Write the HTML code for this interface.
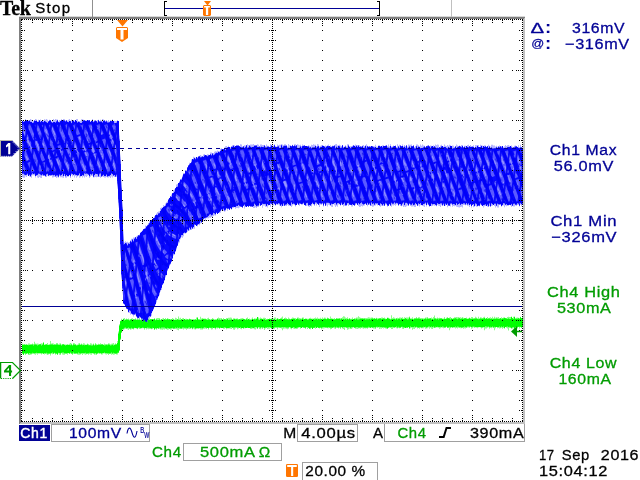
<!DOCTYPE html>
<html><head><meta charset="utf-8"><title>Tek</title>
<style>html,body{margin:0;padding:0;background:#fff;overflow:hidden}svg{display:block}</style>
</head><body>
<svg width="640" height="480" viewBox="0 0 640 480">
<rect width="640" height="480" fill="#fff"/>
<g shape-rendering="crispEdges">
<path d="M523,19L525,17V424H523Z" fill="#c0c0c0"/>
<path d="M21,422H525V424H19Z" fill="#c0c0c0"/>
<path d="M19,17H525L523,19H19Z" fill="#808080"/>
<path d="M19,17H21V422L19,424Z" fill="#808080"/>
<rect x="19" y="16" width="506" height="1" fill="#d8d8d8"/>
<rect x="92" y="0" width="1" height="17" fill="#909090"/>
<rect x="451" y="0" width="1" height="17" fill="#c0c0c0"/>
</g>
<clipPath id="pg"><rect x="21" y="19" width="502" height="403"/></clipPath>
<g clip-path="url(#pg)">
<path d="M22,343.4V343.4H23V344.6H24V344H25V344.8H26V344.7H27V344.4H28V343.6H29V343.5H30V344.3H31V344.7H32V343.5H33V343.9H34V341.7H35V343.4H36V343.8H37V343.4H38V343.8H39V343.9H40V343.7H41V343.3H42V343.6H43V344.6H44V344.5H45V344.8H46V343.9H47V343H48V344.4H49V344.1H50V341.1H51V343.5H52V343.3H53V343.5H54V344H55V344.2H56V343H57V343.1H58V344.4H59V343.4H60V343.2H61V344.6H62V344.2H63V344.7H64V344.3H65V344.6H66V344.6H67V344.1H68V344.6H69V343.7H70V343.1H71V343.6H72V344.7H73V343.1H74V343.2H75V344.4H76V344.7H77V344.5H78V343.4H79V343.1H80V344.2H81V343.6H82V344.3H83V343.3H84V343.6H85V344.6H86V344.4H87V343.6H88V344.1H89V344.7H90V343.2H91V343.5H92V344.5H93V343.6H94V344.7H95V343.1H96V344H97V344.5H98V343.7H99V344.8H100V343.3H101V344.3H102V343.9H103V344.6H104V343.4H105V343.9H106V344.3H107V344.1H108V343.3H109V343.5H110V344.2H111V343.7H112V343.6H113V343.1H114V344.2H115V343.3H116V344H117V341.1H118V331.6H119V324.2H120V320.7H121V318.8H122V319.7H123V318.4H124V318.1H125V319.5H126V318.5H127V319.4H128V318.5H129V319.6H130V319.5H131V318.5H132V318.3H133V319H134V319.5H135V318.2H136V319.3H137V318.5H138V318.6H139V318.6H140V319.4H141V318.4H142V318.2H143V319H144V319H145V318.3H146V319.5H147V319.3H148V318.6H149V318.2H150V319.4H151V319.6H152V319.1H153V319.1H154V318H155V319.4H156V318.3H157V317.9H158V318H159V318.1H160V319.5H161V319.6H162V318.6H163V317.9H164V319.3H165V318H166V319.3H167V318H168V318.7H169V319.1H170V319.3H171V318.9H172V318.1H173V318.7H174V319.6H175V317.8H176V318.2H177V319.4H178V316.6H179V318.5H180V317.8H181V319.1H182V318.3H183V317.9H184V319.2H185V318.7H186V318.7H187V319.1H188V319H189V318.5H190V319H191V318.9H192V319.4H193V318.9H194V319.4H195V319.2H196V317.6H197V318.9H198V319H199V319.3H200V316.7H201V318.6H202V318H203V318.5H204V318.5H205V318.5H206V319.3H207V318.2H208V317.8H209V318.9H210V319.2H211V319.4H212V317.9H213V318.7H214V319.3H215V318.9H216V319H217V318H218V317.6H219V317.9H220V318.2H221V318.1H222V319.1H223V318H224V319H225V319.1H226V318H227V317.9H228V317.7H229V317.7H230V317.6H231V317.7H232V318.9H233V318.2H234V318.2H235V318.8H236V318.6H237V318.3H238V319.1H239V319.1H240V318.6H241V318.2H242V318.1H243V318.6H244V318.9H245V318.9H246V317.9H247V317.6H248V318.9H249V318.6H250V319.1H251V318.8H252V317.5H253V319H254V318.3H255V318.5H256V318.3H257V319.1H258V317.6H259V318.5H260V317.6H261V318.5H262V318.7H263V317.8H264V317.8H265V318.1H266V318.9H267V318.7H268V319.2H269V318.2H270V318.7H271V318.7H272V317.7H273V318.4H274V317.6H275V317.4H276V318.7H277V317.9H278V318.7H279V319.1H280V318.5H281V317.5H282V316.6H283V319H284V318.1H285V317.6H286V318.1H287V319.1H288V317.5H289V318.5H290V319.1H291V319H292V317.4H293V317.7H294V318.2H295V318H296V318.8H297V317.5H298V317.5H299V318.1H300V318.2H301V318.4H302V317.4H303V317.6H304V319.1H305V318.7H306V318.5H307V318.7H308V318.8H309V318H310V317.7H311V318.6H312V318.4H313V318.4H314V318H315V317.4H316V318.3H317V317.5H318V318.9H319V318.5H320V317.8H321V318.7H322V317.6H323V319H324V317.5H325V317.8H326V318.8H327V317.4H328V318.1H329V318.8H330V316.4H331V318.4H332V318.4H333V318.8H334V317.9H335V318.9H336V318.4H337V318.5H338V318.4H339V318.4H340V318.3H341V318.5H342V317.3H343V316.3H344V316.5H345V317.6H346V318H347V317.3H348V318.7H349V317.9H350V318.7H351V318.7H352V317.6H353V318.9H354V318.1H355V318.2H356V317.5H357V317.4H358V316.2H359V317.3H360V317.8H361V318.7H362V318.4H363V317.9H364V318.1H365V317.9H366V318H367V317.8H368V317.2H369V317.5H370V317.7H371V317.5H372V317.6H373V318.6H374V318.1H375V318.5H376V317.8H377V318.3H378V318H379V318.2H380V317.9H381V317.6H382V317.5H383V317.9H384V317.5H385V318.4H386V318.8H387V318.1H388V317.8H389V318.2H390V318.8H391V315.3H392V317.9H393V317.2H394V317.8H395V318.6H396V318.3H397V317.8H398V318.3H399V317.6H400V317.5H401V317.7H402V317.3H403V318.6H404V317.2H405V317.7H406V317.6H407V317.6H408V317.6H409V316.5H410V318.2H411V318.3H412V317.2H413V318.7H414V318.1H415V318.1H416V317H417V318.8H418V317.3H419V317.2H420V318H421V318.1H422V318H423V318.2H424V318.3H425V317.4H426V317.4H427V317H428V317.9H429V318.6H430V318.7H431V317.6H432V318.3H433V317H434V315.4H435V318.4H436V318.2H437V317.5H438V317.9H439V317.7H440V318.3H441V318.2H442V318.6H443V318.4H444V316.9H445V318.7H446V317.7H447V317.1H448V318H449V317.4H450V317.1H451V318.2H452V318.6H453V318.5H454V317.2H455V317.2H456V317.1H457V317.2H458V316.9H459V317.6H460V317.3H461V317.7H462V317.1H463V317.8H464V318.5H465V318H466V317.5H467V318.6H468V318.6H469V317.4H470V317.9H471V317.1H472V317.1H473V318H474V317.9H475V316.8H476V317.6H477V318.2H478V316.8H479V318.3H480V317.2H481V317.5H482V318.5H483V317.3H484V316.7H485V318.3H486V318.2H487V317.1H488V318.5H489V317.8H490V317.2H491V318.5H492V316.8H493V318.1H494V316.8H495V317.8H496V317.3H497V317.4H498V316.9H499V318.5H500V318.3H501V317.3H502V318.2H503V317.6H504V317.2H505V318H506V318.3H507V316.9H508V316.8H509V317.1H510V317H511V317H512V318.2H513V316.8H514V318.1H515V317.9H516V317.8H517V317.4H518V317.7H519V318.1H520V316.7H521V318H522V317.3H523V327.2H522V327.7H521V327.2H520V328.4H519V327.1H518V328.4H517V327.3H516V327.1H515V328.3H514V328.3H513V328.6H512V328.4H511V327.9H510V328H509V330.5H508V328.5H507V327.8H506V327H505V328.3H504V328H503V328.7H502V327.7H501V328.3H500V328.4H499V328H498V328.3H497V327.1H496V328.3H495V330.3H494V327.5H493V327.5H492V328.3H491V328H490V328.7H489V327.3H488V327.7H487V328.6H486V328.5H485V330.2H484V327.5H483V327.8H482V328.6H481V327.1H480V327.3H479V327.5H478V328.2H477V327.7H476V327.5H475V327.9H474V327.2H473V328.3H472V328.7H471V327.1H470V328H469V327.5H468V327.6H467V328.1H466V328.5H465V328.3H464V328.8H463V327.4H462V328.3H461V328.2H460V327.2H459V327.8H458V328.6H457V327.7H456V328.5H455V327.2H454V327.2H453V327.4H452V327.4H451V328.3H450V330.3H449V327.5H448V328.1H447V327.1H446V327.1H445V327.5H444V328.2H443V327.7H442V327.1H441V328.2H440V328.8H439V327.3H438V327.5H437V327.5H436V328.1H435V327.9H434V327.7H433V328.9H432V328.7H431V327.2H430V328.8H429V327.6H428V328.2H427V328.5H426V328.8H425V327.4H424V328.3H423V328.3H422V328.2H421V327.4H420V328.7H419V327.9H418V328.6H417V327.4H416V327.8H415V329H414V328.7H413V329.8H412V327.7H411V328.2H410V327.8H409V327.3H408V328H407V327.4H406V328H405V327.4H404V329H403V328.7H402V327.3H401V328H400V328.3H399V328.1H398V328.4H397V328.3H396V327.4H395V327.9H394V328.1H393V329H392V329.1H391V327.8H390V327.7H389V328.1H388V328.5H387V328.7H386V328.5H385V327.9H384V328.5H383V328H382V328.8H381V328.6H380V328.9H379V327.5H378V327.9H377V327.5H376V329H375V328.4H374V328.6H373V328.1H372V327.7H371V328H370V327.8H369V328H368V328.7H367V328.3H366V328.6H365V328.3H364V328.7H363V328.2H362V327.4H361V328.8H360V328.2H359V328.6H358V328.9H357V328.8H356V328.7H355V327.4H354V327.5H353V328.2H352V329.1H351V329.1H350V328.4H349V329.2H348V329.7H347V327.7H346V327.7H345V330.1H344V329H343V328.4H342V327.5H341V328.9H340V328.1H339V328.4H338V327.5H337V327.9H336V329H335V328.4H334V328H333V327.5H332V328.9H331V329.2H330V327.7H329V328.2H328V328.2H327V328H326V327.9H325V328.2H324V328.5H323V328.6H322V329.2H321V327.8H320V328.4H319V327.9H318V327.7H317V327.5H316V328.8H315V327.6H314V327.9H313V329H312V327.9H311V329.2H310V328.9H309V327.7H308V329.1H307V327.5H306V329.1H305V327.9H304V327.5H303V327.6H302V327.7H301V328.8H300V327.5H299V328.1H298V328.8H297V328.9H296V328.7H295V329.1H294V328.6H293V328H292V329.3H291V328.6H290V327.6H289V328.7H288V329.2H287V328.7H286V328.4H285V328.5H284V328.8H283V330.2H282V328.4H281V327.9H280V328H279V327.6H278V329.3H277V327.7H276V327.8H275V328.7H274V329H273V328.2H272V328.9H271V328.1H270V328.7H269V328.8H268V329.1H267V328H266V328.4H265V330H264V327.9H263V329.1H262V328.2H261V329.3H260V329.1H259V327.7H258V328.5H257V328.3H256V329.4H255V329.3H254V328.5H253V328.4H252V328.9H251V329.1H250V327.9H249V327.9H248V327.9H247V327.8H246V328.2H245V328.3H244V328.9H243V328H242V329.2H241V328.8H240V328.1H239V328.4H238V329.2H237V328.1H236V328.6H235V329.8H234V329.5H233V328H232V329H231V328.8H230V328.4H229V328.5H228V327.8H227V329.2H226V328H225V328.8H224V328.7H223V328H222V327.9H221V328.1H220V329.1H219V327.9H218V328.4H217V328.3H216V329.5H215V328.3H214V327.9H213V329.3H212V329.5H211V328.3H210V328.1H209V329.4H208V327.9H207V329.1H206V328.4H205V328.8H204V328.8H203V329.5H202V329.6H201V329.6H200V328.4H199V329.1H198V328.8H197V328.6H196V329.5H195V329.2H194V328.5H193V329.2H192V328.3H191V328.4H190V328.9H189V328.7H188V328.7H187V329.7H186V328.9H185V328.7H184V329.5H183V328.7H182V328.8H181V329H180V329H179V330.3H178V329.7H177V329.3H176V328.9H175V328.5H174V328.8H173V328.8H172V329.6H171V329.8H170V328.9H169V329.5H168V329.8H167V329.3H166V329.1H165V329.4H164V329.3H163V329.7H162V329.6H161V329.6H160V328.8H159V328.8H158V328.4H157V329.8H156V329.1H155V329.5H154V328.2H153V329H152V329.3H151V329H150V329.1H149V329.3H148V328.7H147V329.6H146V328.2H145V329.7H144V328.2H143V328.2H142V328.6H141V328.9H140V329.1H139V328.3H138V329.3H137V328.3H136V328.2H135V328.3H134V329.5H133V328.7H132V329.2H131V329.7H130V328.3H129V329.9H128V329.3H127V328.4H126V328.8H125V329.3H124V329.7H123V330.6H122V333.1H121V339.9H120V350.5H119V353.1H118V354.4H117V354.4H116V354H115V354.5H114V354.7H113V354.3H112V354.8H111V353.9H110V353.7H109V355H108V353.2H107V354.6H106V354.2H105V353.4H104V353.4H103V354.6H102V354.6H101V353.7H100V354H99V353.4H98V353.4H97V354.9H96V354.6H95V354.7H94V353.8H93V353.6H92V354.7H91V354.4H90V354.1H89V354.8H88V353.6H87V354.2H86V354.7H85V354.2H84V353.9H83V354.9H82V354H81V354.6H80V354.8H79V354.7H78V354.6H77V353.7H76V353.6H75V353.8H74V353.8H73V355H72V353.7H71V353.6H70V353.8H69V353.3H68V354.8H67V353.6H66V353.3H65V354.7H64V354.8H63V354.6H62V353.3H61V354.9H60V354.7H59V353.4H58V354.8H57V353.8H56V354.8H55V353.4H54V353.9H53V354.2H52V353.7H51V355.6H50V353.8H49V354.6H48V355H47V354.3H46V354H45V354.5H44V353.8H43V353.2H42V354.6H41V353.3H40V353.8H39V353.3H38V354.8H37V353.7H36V354.7H35V354.3H34V354.1H33V353.9H32V354.6H31V354.8H30V354.9H29V355H28V353.7H27V354H26V354.9H25V353.6H24V354.7H23V354.1H22Z" fill="#58FF58" fill-opacity="0.7"/>
<path d="M22,345.1V345.1H23V344.7H24V344.7H25V344.7H26V344.5H27V345H28V345.3H29V344.9H30V344.7H31V344.5H32V344.5H33V345.4H34V344.5H35V344.4H36V344.8H37V345.4H38V344.9H39V344.4H40V344.3H41V345.5H42V344.7H43V342.6H44V345.1H45V344.6H46V344.5H47V345.1H48V345.1H49V344.9H50V344.5H51V344.5H52V344.4H53V345H54V344.7H55V344.8H56V344.4H57V344.6H58V344.8H59V345.1H60V344.4H61V345.4H62V344.6H63V344.3H64V345.1H65V345.4H66V345.1H67V345H68V344.9H69V345H70V345.2H71V344.5H72V345.5H73V344.4H74V344.7H75V344.6H76V345.4H77V345.2H78V345.1H79V344.6H80V344.9H81V344.4H82V345.3H83V345.1H84V345.2H85V345.1H86V344.9H87V344.5H88V345.2H89V345.3H90V345.2H91V345.4H92V345.5H93V344.4H94V345.4H95V344.6H96V345.2H97V344.9H98V344.7H99V344.4H100V344.7H101V344.6H102V344.5H103V345.1H104V345.4H105V345.3H106V344.8H107V345.3H108V344.4H109V344.7H110V345.5H111V345.3H112V344.8H113V345.4H114V345.1H115V344.4H116V344.5H117V343H118V333.4H119V325.6H120V321.2H121V320.5H122V320.5H123V319.1H124V320.5H125V319.7H126V319.5H127V319.5H128V319.8H129V320.4H130V319.5H131V319.3H132V320.1H133V319.5H134V319.5H135V319.6H136V319.9H137V319.7H138V320H139V319.7H140V320.2H141V320.2H142V319.8H143V320.4H144V320.1H145V320H146V319.4H147V320H148V319.6H149V319.9H150V319.3H151V319.2H152V319.2H153V319.5H154V319.1H155V320.2H156V319.5H157V320H158V320H159V319.4H160V320.3H161V319.2H162V320.3H163V319.8H164V319.2H165V319.7H166V319.6H167V319.3H168V319.5H169V319.3H170V319.8H171V319.6H172V320.2H173V319.5H174V319.9H175V320H176V320H177V319.3H178V319.7H179V320.1H180V320.1H181V319.2H182V319.8H183V319.8H184V319.1H185V319.9H186V319.7H187V319.5H188V320H189V319.2H190V319.4H191V320H192V319.8H193V319.9H194V319.8H195V319.6H196V320.1H197V317.6H198V319.7H199V319.7H200V319.9H201V319.8H202V319.2H203V319.1H204V319.2H205V319.2H206V319.4H207V320.1H208V319.6H209V319.5H210V320.1H211V319.6H212V319.5H213V319.4H214V319.9H215V319.9H216V319.9H217V319.1H218V319.8H219V319.4H220V319.9H221V319.6H222V319.8H223V319.7H224V319.2H225V319.4H226V319.8H227V319H228V320.1H229V319.8H230V319.7H231V319.4H232V319.9H233V319.6H234V318.9H235V319.4H236V319.2H237V319.5H238V319.7H239V319.2H240V319.6H241V319.4H242V319.4H243V319.1H244V319.3H245V320H246V319.3H247V319.8H248V319H249V319.7H250V319.9H251V320H252V319.1H253V319.6H254V319.3H255V319.5H256V318.9H257V316.9H258V319.6H259V319.9H260V319H261V318.8H262V319.1H263V319.6H264V319.2H265V319.9H266V319.8H267V319.5H268V319.1H269V319.1H270V319.3H271V318.8H272V319.7H273V319.5H274V318.9H275V319.9H276V319.8H277V318.8H278V319.4H279V318.9H280V318.8H281V318.8H282V319.5H283V319.1H284V318.8H285V319.2H286V319.3H287V319.3H288V319.4H289V319.3H290V319.6H291V318.8H292V318.9H293V318.8H294V318.8H295V319.8H296V319.1H297V318.6H298V319.2H299V319.5H300V319.2H301V319.4H302V318.6H303V319.4H304V319H305V318.8H306V318.9H307V319.8H308V319.4H309V319.1H310V319.1H311V319.1H312V319.4H313V319H314V319.4H315V319.2H316V318.9H317V319.5H318V318.8H319V319.2H320V319.3H321V319H322V319.5H323V318.7H324V318.8H325V319H326V319.3H327V318.5H328V318.7H329V319H330V319H331V318.8H332V319.1H333V319.2H334V319.6H335V319.2H336V318.6H337V318.8H338V318.8H339V318.5H340V319.4H341V318.6H342V319.6H343V319.1H344V319.4H345V318.9H346V319.6H347V319H348V319.6H349V318.8H350V319.5H351V319.5H352V319.6H353V319.1H354V318.9H355V319.6H356V318.7H357V319.4H358V319.5H359V319.2H360V318.8H361V318.5H362V318.5H363V318.9H364V318.7H365V319.5H366V319.3H367V319.2H368V319.3H369V319H370V319.4H371V318.8H372V318.5H373V318.8H374V318.4H375V318.9H376V318.5H377V319.5H378V319H379V318.5H380V318.6H381V319.2H382V318.8H383V318.5H384V318.8H385V319.2H386V319.1H387V317.7H388V318.5H389V319H390V319.4H391V319.2H392V319.3H393V318.9H394V319H395V319.4H396V318.6H397V319.4H398V318.7H399V318.7H400V319.4H401V318.4H402V319.1H403V319H404V319.1H405V318.2H406V318.9H407V319.4H408V319.2H409V317.5H410V319H411V319.2H412V319H413V319.4H414V318.7H415V318.7H416V318.5H417V318.4H418V318.5H419V318.8H420V318.9H421V319.4H422V319H423V319.5H424V319H425V318.6H426V319.3H427V318.5H428V319.1H429V318.4H430V318.3H431V319.4H432V319.1H433V319.4H434V318.5H435V318.5H436V319.2H437V318.7H438V319.4H439V318.8H440V318.4H441V318.4H442V318.9H443V319.3H444V318.7H445V318.9H446V318.7H447V318.2H448V318.3H449V318.4H450V319.4H451V318.5H452V319.1H453V318.5H454V318.6H455V318.3H456V318.8H457V319.3H458V318.6H459V318.2H460V319H461V318.8H462V318.4H463V319.1H464V318.2H465V318.3H466V318.8H467V318.9H468V318.7H469V318.2H470V318.9H471V318.9H472V318.7H473V319.1H474V318.8H475V318.4H476V318.5H477V318.9H478V319.2H479V319H480V318.4H481V318.7H482V318.5H483V318.5H484V318.1H485V319.1H486V318.3H487V318.9H488V318.5H489V318.5H490V318.9H491V318.6H492V319.2H493V318.9H494V318.8H495V318.9H496V318.6H497V318.8H498V318.9H499V318.8H500V318.2H501V319.2H502V318.6H503V318.4H504V318.1H505V318.3H506V318.6H507V318.9H508V318.6H509V318.9H510V319.1H511V316.7H512V318.3H513V319.1H514V316.7H515V318.9H516V318.7H517V318.7H518V318.2H519V318.9H520V317.2H521V318.3H522V318.6H523V327.1H522V327.4H521V326.7H520V326.8H519V326.7H518V327.3H517V327.1H516V327.2H515V328.7H514V327H513V327.3H512V328.2H511V327.2H510V326.8H509V327.1H508V326.4H507V326.7H506V327.1H505V328.2H504V326.6H503V327.1H502V326.5H501V327.3H500V326.6H499V326.9H498V327H497V327.1H496V327H495V326.7H494V327.4H493V326.5H492V327H491V326.7H490V327.2H489V326.5H488V326.8H487V326.5H486V326.3H485V327.1H484V327.1H483V327.2H482V327.2H481V327.2H480V326.9H479V326.9H478V327H477V327.1H476V327H475V326.8H474V326.5H473V326.8H472V327H471V326.4H470V326.7H469V326.5H468V326.4H467V327.3H466V327H465V326.6H464V327.1H463V327.4H462V327.4H461V327.1H460V327.4H459V326.8H458V326.6H457V327.2H456V326.5H455V327.2H454V327.2H453V327.6H452V327H451V327.2H450V326.7H449V327.4H448V327.6H447V326.5H446V327.6H445V327.4H444V326.7H443V326.4H442V327.3H441V326.8H440V327.1H439V327.3H438V326.8H437V327.1H436V326.8H435V327.5H434V326.5H433V326.9H432V326.5H431V327.3H430V326.6H429V326.6H428V327H427V327.6H426V326.7H425V326.9H424V326.8H423V327.2H422V327.5H421V327.2H420V327.3H419V327.6H418V327.3H417V326.7H416V327.2H415V326.6H414V326.9H413V326.9H412V326.9H411V326.6H410V328.4H409V327H408V327.6H407V327.5H406V327.9H405V327.4H404V327.3H403V326.8H402V326.8H401V327.6H400V327.6H399V326.8H398V327.6H397V326.6H396V327.1H395V327.2H394V326.9H393V326.7H392V326.9H391V327.2H390V326.9H389V327.4H388V328.6H387V327.5H386V327.5H385V327.3H384V326.9H383V327.2H382V326.9H381V327H380V326.8H379V327.1H378V326.7H377V326.8H376V327.4H375V326.9H374V327.2H373V327.4H372V327.1H371V327.8H370V327.3H369V326.7H368V327.5H367V327.5H366V327.4H365V327.5H364V327.2H363V326.8H362V327.6H361V327.3H360V327.4H359V327.5H358V327H357V327.1H356V327.5H355V327.8H354V327H353V326.9H352V327.2H351V327.7H350V326.9H349V327.2H348V327.5H347V327.6H346V327.1H345V327H344V327.1H343V327.4H342V326.9H341V327.6H340V326.7H339V327.4H338V327.4H337V326.8H336V327.5H335V326.7H334V326.9H333V327.8H332V327.4H331V327.5H330V327.5H329V327H328V327.6H327V327.3H326V327.2H325V327H324V326.9H323V327.3H322V327.8H321V327.6H320V327.8H319V327.8H318V326.9H317V327.9H316V326.8H315V327.8H314V327.7H313V329.1H312V327.4H311V327.8H310V328.4H309V327.8H308V327H307V327.1H306V327.8H305V327.4H304V327.6H303V327.1H302V327.9H301V327.2H300V327H299V327H298V327.5H297V327.7H296V327.9H295V327.6H294V326.9H293V327.7H292V328H291V327.2H290V327.1H289V327.5H288V327.5H287V327.4H286V327.3H285V327.1H284V327.2H283V327H282V327.2H281V327.6H280V327.2H279V327.2H278V327.3H277V327.2H276V327.3H275V327.3H274V328H273V328H272V328H271V327.2H270V327H269V327.2H268V327H267V327.5H266V327.6H265V328.1H264V327.3H263V327.4H262V327H261V327.7H260V327.2H259V327.1H258V328.5H257V327H256V327.1H255V327.5H254V327.9H253V327.8H252V327.4H251V327.7H250V328H249V328H248V327.6H247V327.9H246V328H245V327.2H244V327.9H243V328.1H242V328.1H241V327.2H240V328H239V327.5H238V327.4H237V327.2H236V327.3H235V327.6H234V327.4H233V327.7H232V327.1H231V327.3H230V327.8H229V328H228V328.3H227V328H226V327.6H225V327.2H224V327.7H223V327.9H222V328.1H221V327.6H220V328H219V327.5H218V327.6H217V327.2H216V328.3H215V327.7H214V328.1H213V327.5H212V327.8H211V327.8H210V327.4H209V328.2H208V328.1H207V327.7H206V327.5H205V327.3H204V327.8H203V328.3H202V327.8H201V327.9H200V328H199V328.1H198V328.1H197V328.2H196V328.4H195V327.6H194V327.5H193V328.4H192V327.6H191V328.2H190V327.3H189V327.5H188V328.3H187V327.8H186V327.7H185V327.7H184V327.4H183V327.6H182V328.4H181V328.2H180V327.5H179V327.9H178V327.6H177V327.9H176V327.6H175V328.4H174V328.4H173V327.8H172V327.9H171V328.3H170V328.5H169V328H168V327.8H167V328.4H166V328H165V327.6H164V327.4H163V327.5H162V327.6H161V328.3H160V327.5H159V328.4H158V328H157V328.5H156V327.9H155V329.4H154V328H153V327.7H152V328.5H151V328.1H150V327.7H149V327.7H148V327.5H147V328.1H146V327.9H145V328.2H144V327.7H143V327.6H142V327.9H141V328.1H140V327.5H139V327.5H138V328.5H137V328.3H136V328H135V327.8H134V328.6H133V328.6H132V327.8H131V328.6H130V328.6H129V327.5H128V327.9H127V328.6H126V327.6H125V327.8H124V328.8H123V328.9H122V332.2H121V338.8H120V350.4H119V352.6H118V352.7H117V353.4H116V353.4H115V353.3H114V352.8H113V353.6H112V352.5H111V353.3H110V353.5H109V353.2H108V353.4H107V353H106V353H105V352.6H104V353.1H103V353.1H102V353.4H101V352.9H100V352.9H99V352.7H98V353.4H97V353.7H96V352.9H95V353.6H94V353.2H93V353H92V352.9H91V352.9H90V352.7H89V353.3H88V353.4H87V353.5H86V352.7H85V353.1H84V353H83V352.9H82V353H81V353.6H80V353.3H79V352.6H78V353.4H77V353.2H76V353.4H75V353.6H74V352.5H73V353.4H72V353.4H71V352.6H70V353.6H69V353.1H68V353.1H67V353.4H66V353.4H65V353.2H64V352.6H63V352.6H62V352.8H61V353.5H60V353.1H59V352.8H58V354.5H57V353.6H56V353.5H55V352.8H54V353.6H53V352.5H52V352.9H51V353.5H50V353.5H49V353.6H48V353.5H47V352.7H46V353.2H45V352.9H44V353.8H43V353.3H42V353.3H41V353.2H40V353H39V353.3H38V352.9H37V352.7H36V353.1H35V353.2H34V353H33V352.8H32V353.6H31V353.5H30V352.9H29V353.7H28V353H27V353.4H26V353.4H25V353.3H24V354.7H23V353.3H22Z" fill="#00FF00"/>
</g>
<clipPath id="pc"><rect x="21" y="19" width="502" height="403"/></clipPath>
<g clip-path="url(#pc)">
<path d="M22,120.6V120.6H23V121.1H24V121H25V119H26V121.5H27V121.4H28V120.2H29V120.4H30V118.9H31V119.7H32V121H33V121.1H34V120.6H35V118.9H36V119.5H37V121.7H38V119.7H39V120.4H40V119.5H41V120.8H42V121.4H43V119.9H44V119.3H45V119.7H46V118.9H47V119.8H48V121.2H49V119.8H50V120.9H51V121.6H52V121H53V119H54V119.9H55V118.9H56V119.4H57V119.5H58V121.5H59V119.9H60V120.4H61V119.2H62V121.1H63V119H64V119.2H65V120.6H66V119.9H67V120.4H68V119.8H69V119.1H70V120.8H71V119.4H72V121.7H73V120H74V120.6H75V120.2H76V119.1H77V119H78V121.2H79V120.9H80V120.7H81V119.2H82V119.3H83V119.7H84V121.7H85V121.6H86V120.3H87V120.2H88V120H89V120H90V121.6H91V120.3H92V119.1H93V121.1H94V119.9H95V121.1H96V120.8H97V119.9H98V119.7H99V121.1H100V119.7H101V120.7H102V118.9H103V119.6H104V120.2H105V120.7H106V119.9H107V121H108V119.9H109V121.3H110V121.6H111V120.4H112V119.4H113V121.5H114V120.8H115V120.9H116V121.1H117V120.8H118V121H119V139.3H120V160.3H121V187.7H122V208.5H123V242.7H124V242.3H125V241.2H126V242.1H127V241.8H128V242.4H129V242H130V240.2H131V238.8H132V238.7H133V237.5H134V237.4H135V237.3H136V236.3H137V235.5H138V235.3H139V234.4H140V232.1H141V231.6H142V231.4H143V229.3H144V229H145V225.6H146V225.9H147V224.8H148V222.9H149V221.2H150V222.1H151V220.9H152V218.8H153V218.7H154V216.1H155V216.6H156V213.5H157V211.9H158V211.6H159V211.3H160V207.9H161V207.4H162V207.6H163V205H164V205.7H165V203.4H166V202.3H167V201.3H168V200.1H169V198.2H170V195.9H171V194.6H172V193.6H173V189.9H174V189.3H175V188.8H176V184.6H177V184.1H178V183.2H179V180.9H180V179H181V178.6H182V175.4H183V173.1H184V173.1H185V170.2H186V170.2H187V167.2H188V165.5H189V162.8H190V162.9H191V159.6H192V159.5H193V156.7H194V159H195V157.8H196V157.9H197V157.1H198V157.1H199V155.7H200V155.1H201V155.7H202V156.1H203V154.4H204V154H205V155.2H206V155.8H207V154.3H208V154.5H209V155.2H210V152.5H211V152.5H212V153.2H213V153H214V151.7H215V151.3H216V151.6H217V150.5H218V151.5H219V151H220V148.8H221V148.3H222V149.3H223V149.6H224V147.6H225V146.3H226V145.9H227V148H228V145.8H229V147.8H230V147.2H231V146.5H232V145.2H233V146.1H234V145.3H235V146.5H236V146.4H237V146.5H238V145.7H239V146.1H240V144.3H241V144.6H242V146.5H243V146.1H244V145.2H245V145.6H246V145.2H247V144.3H248V145H249V146.4H250V144.6H251V144.4H252V144.6H253V144H254V144.9H255V145.8H256V145.2H257V144.2H258V144.7H259V146H260V144.5H261V144.6H262V145H263V144.9H264V145.2H265V146H266V144.4H267V145.8H268V145.7H269V146.7H270V144.1H271V145.1H272V145.5H273V145.4H274V144.2H275V146.5H276V146.6H277V144.6H278V145.1H279V144.7H280V144.8H281V144.1H282V144.5H283V145.1H284V144.2H285V144.3H286V146.5H287V146.4H288V144H289V145.3H290V145H291V146H292V144.8H293V146.3H294V144.3H295V144.2H296V146.3H297V144.3H298V144.7H299V145.2H300V144.7H301V145.9H302V144.5H303V145H304V145.2H305V146.1H306V146.5H307V146.1H308V145.2H309V145.8H310V146H311V144.7H312V145.1H313V144.2H314V144.7H315V144.8H316V146.1H317V144.1H318V144.4H319V146.4H320V145.7H321V145.2H322V144.9H323V145.7H324V146.1H325V145.5H326V146H327V146.6H328V144.4H329V146.6H330V145.2H331V146.2H332V145.5H333V145.7H334V146.3H335V144.2H336V144.1H337V145.4H338V145.1H339V144.8H340V145.6H341V146.1H342V145H343V146.8H344V146.4H345V145.2H346V146.4H347V144.2H348V144.3H349V146.6H350V146.3H351V146H352V145.8H353V145.1H354V145.5H355V144.6H356V145H357V144.9H358V145.4H359V145.2H360V146.4H361V146H362V145.6H363V145.1H364V146H365V144.9H366V144.3H367V145.7H368V146.1H369V146.7H370V146.1H371V146.2H372V146.8H373V146H374V146.2H375V144.7H376V146.6H377V146.8H378V145.2H379V145.2H380V145.9H381V146.7H382V145.2H383V146H384V146.1H385V146.6H386V145H387V145.9H388V144.6H389V146.3H390V144.3H391V146.5H392V146.2H393V145.4H394V146.7H395V145H396V146.9H397V144.3H398V145.8H399V144.7H400V145.9H401V146.1H402V144.4H403V146.6H404V145.1H405V146H406V144.9H407V146.6H408V144.5H409V144.7H410V144.7H411V144.5H412V146.3H413V146.5H414V146.9H415V146H416V144.6H417V144.5H418V145.3H419V146.2H420V144.5H421V145.8H422V144.6H423V145.4H424V145.7H425V147H426V146.5H427V145.2H428V145.7H429V146.4H430V145.4H431V145.7H432V146.6H433V145.2H434V146.7H435V144.5H436V145H437V144.6H438V144.7H439V147.1H440V145.5H441V144.7H442V146.7H443V146.6H444V144.5H445V145.7H446V145.9H447V145H448V145.7H449V144.7H450V147.1H451V145.9H452V145.6H453V145.7H454V147H455V146.3H456V144.5H457V145.6H458V146.8H459V145.6H460V146.6H461V144.9H462V145.7H463V147.3H464V145.7H465V145.8H466V146.4H467V145H468V144.7H469V147.1H470V145.1H471V146.9H472V146.2H473V145.2H474V147.2H475V145.1H476V145.3H477V145.6H478V145H479V147.3H480V144.8H481V146.4H482V145.6H483V146.2H484V145.3H485V145.4H486V146.7H487V146H488V144.7H489V145.8H490V146.4H491V144.8H492V144.8H493V145.6H494V145.5H495V146.5H496V145.7H497V146.7H498V147.3H499V145.5H500V147.3H501V146H502V146.2H503V147.3H504V146.3H505V145.1H506V146.1H507V145.3H508V144.9H509V145.7H510V147.5H511V145.5H512V146.8H513V147.1H514V145.8H515V145.5H516V147.2H517V147.3H518V145.2H519V146.9H520V144.8H521V147.1H522V147.2H523V204.7H522V206.2H521V204.7H520V206.4H519V204.7H518V205.1H517V206H516V205.4H515V206.6H514V206.6H513V205.4H512V207H511V205.4H510V205H509V204.8H508V206H507V206.3H506V205.6H505V207.2H504V205.5H503V205.7H502V206.8H501V204.7H500V205H499V207.6H498V207.5H497V206.2H496V207.4H495V205.9H494V204.5H493V205.7H492V206H491V207H490V206H489V206.9H488V206.7H487V204.8H486V206.1H485V206.2H484V207.5H483V205.9H482V205.6H481V204.7H480V206.6H479V206H478V206.8H477V206.8H476V205.7H475V204.4H474V207.3H473V204.8H472V207.4H471V204.4H470V207.1H469V205.5H468V205.8H467V204.7H466V205.2H465V205.1H464V205H463V207.4H462V206.8H461V207.1H460V207.4H459V207.2H458V207H457V206.7H456V204.3H455V206.3H454V206.1H453V206.7H452V204.4H451V206.4H450V205.1H449V205.7H448V207.3H447V204.3H446V205.4H445V205H444V205.3H443V204.2H442V205.3H441V207.1H440V205.9H439V205.7H438V205H437V206.2H436V205.5H435V205.8H434V205.2H433V205.9H432V206.3H431V205H430V207H429V205.2H428V204.4H427V206.4H426V204.3H425V207.1H424V206.2H423V205.9H422V205.2H421V205.3H420V206.4H419V205.5H418V204.7H417V204.3H416V207.1H415V207H414V206.3H413V206.6H412V206.4H411V205.9H410V204.3H409V204.6H408V205.5H407V206.2H406V206.9H405V206.6H404V207H403V205.5H402V206.2H401V206H400V204.5H399V205.8H398V204.3H397V204.5H396V205.8H395V204.9H394V205.6H393V205.2H392V206.7H391V205.7H390V204.6H389V205.9H388V206.8H387V204.7H386V204.6H385V205.1H384V205.7H383V204.2H382V205.8H381V206.8H380V204.4H379V203.9H378V205.6H377V204.6H376V205.5H375V205.8H374V206.6H373V206.7H372V206H371V204.1H370V204.7H369V204.9H368V206.3H367V205H366V204.1H365V205.5H364V205.8H363V206.4H362V206H361V206.8H360V207H359V206.1H358V205.1H357V203.9H356V205.1H355V205.7H354V203.9H353V206.4H352V206.6H351V204.9H350V204.5H349V206.1H348V204.4H347V205.4H346V204.3H345V205.8H344V206.5H343V204.6H342V204.6H341V205H340V204.5H339V204.5H338V206.7H337V205.7H336V207H335V205.2H334V204.2H333V206.9H332V206.8H331V205.2H330V205.3H329V204.8H328V206.4H327V205.3H326V204.4H325V204.1H324V206.5H323V203.9H322V205H321V204.6H320V206.9H319V205H318V204H317V205.6H316V204H315V206H314V204.4H313V204.2H312V206.4H311V206.1H310V206.9H309V206.4H308V205.6H307V205.9H306V205.6H305V204.8H304V204.1H303V204.7H302V204H301V204H300V205.7H299V204.1H298V204.1H297V204.9H296V206.4H295V204.9H294V204.6H293V205.4H292V206.9H291V206H290V205.8H289V205.7H288V204.7H287V205.9H286V205.8H285V205.1H284V205.8H283V205.7H282V207.2H281V204.3H280V205.4H279V204.4H278V204.3H277V204.4H276V205.8H275V204.5H274V205.4H273V207.4H272V204.4H271V206.8H270V204.4H269V205.8H268V207.4H267V205.3H266V206.8H265V205.5H264V205.6H263V207.8H262V205H261V204.9H260V205.4H259V207H258V207.1H257V208H256V207.2H255V208.1H254V208.1H253V206.7H252V206.2H251V206.2H250V205.9H249V206.7H248V206H247V205.9H246V207.1H245V208.6H244V205.9H243V207.5H242V206.2H241V206.3H240V207.5H239V208.2H238V208.1H237V207.9H236V208.7H235V207.2H234V208.1H233V208.3H232V208.7H231V208.2H230V210.1H229V208.6H228V210.7H227V209.2H226V211.3H225V211.8H224V211H223V210.5H222V210.6H221V212.8H220V213.2H219V212.2H218V213.2H217V213H216V215.4H215V215.2H214V215.9H213V217.4H212V217H211V217.8H210V217.4H209V218.3H208V218.3H207V218.3H206V220.9H205V219.3H204V220.9H203V220.4H202V221.5H201V223.5H200V225.2H199V223.3H198V226.6H197V224.9H196V225H195V228.7H194V228.4H193V228.9H192V230H191V228.3H190V230.6H189V230.4H188V231.7H187V231.1H186V233.8H185V233.4H184V236.2H183V237.7H182V237.2H181V239.3H180V242.5H179V243.6H178V246.1H177V249.4H176V251.3H175V255.1H174V255.6H173V259.3H172V261.3H171V264.4H170V266.4H169V269H168V271H167V275.3H166V277.6H165V279.7H164V282H163V285H162V290H161V291.5H160V295.2H159V296.2H158V300.1H157V302.4H156V305.2H155V307H154V309.9H153V311.5H152V315.8H151V316.4H150V317.9H149V319.8H148V322.8H147V320.7H146V321.6H145V319.5H144V320.2H143V321.8H142V320H141V318.1H140V319.2H139V317.9H138V319.1H137V316.6H136V315.3H135V314.5H134V316.4H133V314.4H132V313.7H131V314.7H130V313H129V311.7H128V309.3H127V308H126V306.2H125V304.7H124V302.4H123V289.8H122V275H121V244.5H120V219.1H119V202.6H118V183.4H117V176.7H116V175.3H115V177.1H114V176.3H113V177.5H112V176.5H111V177.9H110V177H109V177.5H108V177.5H107V176.9H106V177.4H105V177.4H104V176.9H103V176.6H102V176.7H101V177.8H100V177H99V176.4H98V177.1H97V177.2H96V177H95V177.3H94V177.6H93V175.7H92V175.9H91V176.8H90V178H89V175.3H88V175.7H87V177.1H86V176.3H85V177.5H84V176.3H83V177.5H82V176.2H81V177.3H80V177.8H79V175.2H78V176.4H77V177.7H76V176.1H75V177.4H74V175.6H73V176.5H72V175H71V178H70V175.3H69V175.4H68V175.8H67V177.8H66V177.7H65V175.9H64V177.8H63V177.6H62V177.2H61V177.3H60V175.9H59V177.8H58V177.2H57V177.9H56V174.9H55V176.7H54V177.3H53V177.5H52V174.9H51V175H50V176.3H49V176.3H48V175.8H47V177H46V176.7H45V175H44V175.3H43V175.8H42V177.9H41V177.8H40V177H39V177.9H38V177.6H37V175.5H36V177.6H35V175.2H34V175.2H33V175.3H32V177.7H31V175.5H30V176.6H29V175.6H28V175.2H27V176.9H26V176.3H25V177.8H24V177.8H23V177.2H22Z" fill="#6E6EFF" fill-opacity="0.5"/>
<path d="M22,121.1V121.1H23V122.2H24V121.8H25V120.3H26V120.2H27V120.3H28V121.5H29V120.5H30V122.1H31V121.9H32V123.2H33V122.8H34V120.6H35V121.1H36V120.7H37V122.1H38V121.9H39V120.3H40V122.3H41V121.1H42V121.6H43V122.6H44V120.9H45V121.8H46V122.4H47V123.2H48V121.4H49V120.6H50V120.2H51V122.5H52V122.9H53V122.3H54V122H55V122.8H56V121.6H57V120.3H58V122.2H59V122.7H60V121.3H61V120.2H62V120.6H63V120.3H64V120.5H65V121.4H66V120.4H67V121.9H68V122.7H69V121H70V121.2H71V123.2H72V120.7H73V120.8H74V122H75V120.1H76V121.3H77V123.1H78V121.7H79V122.3H80V123H81V122.9H82V121.4H83V120.4H84V120.3H85V120.8H86V121.2H87V120.1H88V120.4H89V120.2H90V122.1H91V120.9H92V121.3H93V122.8H94V121.6H95V120.4H96V121.2H97V122.8H98V120.2H99V121.8H100V121.8H101V121.8H102V122.9H103V120.9H104V120.6H105V121.8H106V121.2H107V122.7H108V122.8H109V122.7H110V120.8H111V121.2H112V120.2H113V120.9H114V123.2H115V123.1H116V123.2H117V120.8H118V121.1H119V140.7H120V164.1H121V189.8H122V209.4H123V245H124V244.6H125V242.9H126V243.5H127V245.6H128V243.6H129V243.9H130V241.2H131V242.9H132V239.6H133V241.5H134V238.7H135V237.2H136V239.1H137V236.8H138V235.6H139V236H140V233H141V231.9H142V230.8H143V229.2H144V228.8H145V228.4H146V226.7H147V225.8H148V224.7H149V223.2H150V220.6H151V220H152V220.6H153V218.2H154V217.9H155V215.3H156V214.7H157V215.3H158V213.4H159V213.3H160V211.1H161V209.5H162V208.1H163V206.9H164V206.4H165V205.9H166V203.5H167V203.1H168V199.6H169V198.1H170V196.5H171V197H172V193.3H173V193.1H174V192.1H175V188.2H176V187H177V187.3H178V183H179V182.4H180V179.7H181V179.7H182V177.5H183V174.2H184V174.3H185V170.8H186V171.3H187V167.4H188V165.4H189V164.4H190V163.2H191V162.8H192V159H193V159.6H194V157.7H195V159.3H196V156.9H197V158.5H198V156.5H199V156.3H200V157.4H201V157.5H202V156.4H203V157H204V155.4H205V154.9H206V155.5H207V156.7H208V155.6H209V154.9H210V154.3H211V155.6H212V153.6H213V155.6H214V154.8H215V153.4H216V152.7H217V153.2H218V151.7H219V152.5H220V151H221V149.5H222V149H223V149.2H224V148.2H225V150.2H226V147.9H227V147.5H228V146.9H229V147.1H230V149.2H231V146.7H232V146.8H233V145.6H234V147H235V146H236V145.4H237V145.6H238V145.4H239V146.2H240V147.1H241V147.6H242V147.5H243V146.4H244V148.3H245V147.4H246V145.2H247V148H248V147.5H249V145.6H250V146.7H251V147.7H252V147H253V147.3H254V145.8H255V145.5H256V145.5H257V146.9H258V147.1H259V146.7H260V147.7H261V146.7H262V147.2H263V147.5H264V145.4H265V147.5H266V147.5H267V146.7H268V146.7H269V147.6H270V147.2H271V145.6H272V147.5H273V147H274V145.3H275V147.3H276V147.3H277V146.8H278V146.6H279V148H280V148.3H281V145.2H282V147.8H283V146.6H284V145.8H285V145.8H286V145.6H287V148.2H288V147.8H289V148H290V145.9H291V146.7H292V145.2H293V146.6H294V145.6H295V146.2H296V145.2H297V147.9H298V148.1H299V148.1H300V146.4H301V148.4H302V146.3H303V146.1H304V145.5H305V146.1H306V146H307V146.8H308V146.4H309V148H310V147.2H311V148.2H312V147.5H313V147.5H314V147.6H315V146.1H316V148.2H317V146.7H318V146.2H319V148.3H320V147.3H321V147H322V145.7H323V145.9H324V146.8H325V148.1H326V146.7H327V145.8H328V146.3H329V146H330V147H331V147.6H332V146.6H333V146.4H334V145.4H335V148.3H336V146.8H337V148H338V146.1H339V146.5H340V148.3H341V148H342V145.3H343V148.1H344V147.1H345V146.5H346V147.9H347V148.4H348V145.6H349V146.9H350V148.3H351V147.3H352V146.7H353V145.4H354V146H355V147.3H356V145.7H357V147.3H358V145.6H359V146.9H360V146.5H361V147.2H362V146.2H363V148.3H364V148.1H365V146H366V148.4H367V146.3H368V146.9H369V146.6H370V147.4H371V146H372V146.4H373V147.5H374V147.8H375V146.9H376V148.4H377V147.9H378V146H379V146.2H380V146.9H381V146H382V147.4H383V145.8H384V146H385V145.8H386V145.5H387V148.2H388V147.7H389V148.3H390V145.9H391V147.7H392V147.5H393V146.6H394V145.9H395V146.3H396V148.4H397V148.5H398V146.5H399V148H400V145.6H401V146.6H402V146H403V148.3H404V146.7H405V147.9H406V145.5H407V148.4H408V147.8H409V146.5H410V148.5H411V146.3H412V146.5H413V145.5H414V148.4H415V148.5H416V146.2H417V148.5H418V146.7H419V146.9H420V148.5H421V148.1H422V148.1H423V147.5H424V146.5H425V148H426V146.2H427V146.3H428V145.6H429V146.6H430V148.4H431V146.4H432V145.9H433V147.8H434V146.3H435V147.6H436V148H437V147.7H438V148.3H439V147.4H440V148H441V146.4H442V146.1H443V147.5H444V146.9H445V147.2H446V148.2H447V148.8H448V147.2H449V148.3H450V145.8H451V146H452V148.8H453V148.6H454V148.4H455V146.5H456V148.7H457V147.6H458V146.4H459V146.1H460V146.5H461V147.8H462V145.7H463V147.9H464V146.7H465V148.3H466V145.9H467V147H468V147.8H469V146.3H470V147.1H471V146.7H472V146.8H473V146.9H474V148.5H475V146.9H476V148.1H477V145.8H478V147.1H479V147.1H480V147.3H481V145.8H482V147.9H483V146.1H484V147H485V146.3H486V147.5H487V146.2H488V148.4H489V146.5H490V148.9H491V147.4H492V148.8H493V148.8H494V148.5H495V148.4H496V147.2H497V148.5H498V146.6H499V147.5H500V146.3H501V148.2H502V146H503V148.3H504V148.6H505V147.8H506V147.9H507V147.3H508V147.3H509V147.4H510V146H511V147.5H512V148.4H513V147.4H514V147.5H515V146.4H516V146.3H517V147.6H518V148H519V148.3H520V147.6H521V147.6H522V149H523V203.4H522V204.3H521V203.1H520V205.7H519V203.2H518V203H517V204.5H516V204.4H515V203.2H514V203.5H513V205.7H512V203.7H511V205.1H510V204.4H509V205.2H508V204.9H507V203.9H506V204.8H505V203.2H504V202.9H503V204.8H502V206H501V203.7H500V204.2H499V204.2H498V203.4H497V205.8H496V203.5H495V203.3H494V205H493V204.1H492V202.9H491V206.2H490V203.2H489V206.2H488V204.5H487V206H486V203.7H485V204.5H484V204.9H483V206H482V204.7H481V203.2H480V205.8H479V205.6H478V205.9H477V203.4H476V203.3H475V206.2H474V204.1H473V204.7H472V206H471V203.6H470V205.1H469V202.9H468V204.6H467V202.9H466V204.6H465V203.3H464V203.2H463V203.7H462V203.3H461V204.7H460V203.3H459V203.9H458V204.8H457V202.9H456V205.3H455V204.1H454V203.8H453V204.6H452V203.2H451V203.5H450V205.8H449V205.4H448V202.8H447V204.8H446V203.3H445V206H444V203.6H443V205.6H442V203.3H441V203.2H440V203.8H439V203.5H438V202.9H437V205.5H436V204.8H435V203.9H434V204H433V204.2H432V202.7H431V205.9H430V205.9H429V204.4H428V202.6H427V205.1H426V202.6H425V203.6H424V203.5H423V205.1H422V205H421V203H420V204.1H419V203.2H418V205.7H417V204H416V202.4H415V204.6H414V205H413V203.3H412V204.8H411V204.5H410V203.2H409V205.5H408V203.2H407V202.5H406V202.4H405V205.1H404V202.3H403V203.5H402V205.5H401V203.9H400V203.8H399V205.2H398V202.9H397V202.6H396V203.5H395V202.2H394V203.4H393V203.6H392V202.3H391V205.6H390V203.4H389V205.8H388V205.4H387V203.6H386V202.4H385V205.7H384V203.6H383V205.6H382V203.7H381V202.9H380V205.6H379V204.9H378V203H377V203.3H376V202.9H375V204.8H374V202.9H373V203.7H372V202.3H371V205.5H370V203.1H369V204.6H368V202.2H367V204.7H366V203.1H365V203.9H364V204.5H363V203.8H362V202.2H361V203H360V204.3H359V202.4H358V204.7H357V203.1H356V203.2H355V205.5H354V205H353V204.1H352V204.9H351V204.7H350V204.6H349V202.7H348V203H347V205.2H346V205.5H345V202.1H344V203.8H343V204.7H342V202.2H341V205.2H340V203.7H339V203H338V202.9H337V204.4H336V202.6H335V203.1H334V203.4H333V204H332V203.6H331V205.3H330V203.1H329V202.5H328V202.5H327V202.6H326V205.7H325V202.9H324V205.4H323V202.7H322V203.5H321V203.2H320V203.1H319V204.8H318V203.4H317V202.6H316V202.3H315V204.4H314V203.7H313V202.3H312V204.1H311V205.4H310V205H309V205.6H308V202.8H307V203.1H306V205.5H305V205.1H304V202.3H303V203.6H302V204.2H301V203.5H300V203.2H299V204.7H298V202.6H297V204.9H296V205.2H295V203.4H294V203.3H293V204H292V202.3H291V205.5H290V204.8H289V204.1H288V202.8H287V204.2H286V204.4H285V205.8H284V203.3H283V205.9H282V204.1H281V205.8H280V203.2H279V202.9H278V204.2H277V203.5H276V205H275V203.5H274V202.6H273V203.7H272V203.5H271V202.9H270V204.9H269V205.1H268V204.1H267V206.3H266V203.6H265V203.8H264V203.8H263V203.2H262V205H261V205.8H260V203.1H259V205.6H258V205.5H257V206.3H256V204.6H255V203.5H254V205.9H253V206.7H252V206.5H251V206.6H250V205.6H249V206.7H248V206.1H247V206.9H246V206.3H245V204.6H244V205.4H243V207.4H242V206.7H241V206.4H240V205.4H239V204.7H238V206.1H237V205.7H236V206.7H235V206.9H234V206.7H233V206.9H232V209.3H231V208H230V209.8H229V208.2H228V208.5H227V207.9H226V209.7H225V210.6H224V208.4H223V210.7H222V208.9H221V210.2H220V211.7H219V212.9H218V213.9H217V212.6H216V214.3H215V213.3H214V212.6H213V214.5H212V215.3H211V214H210V214.5H209V215.7H208V216.7H207V217.3H206V217.5H205V218H204V218.8H203V219.1H202V222.6H201V221.1H200V223.6H199V224.3H198V224.7H197V225.9H196V224.7H195V224H194V226.9H193V228.4H192V226.6H191V229.6H190V227.5H189V230.4H188V229.2H187V232.4H186V233.1H185V232.2H184V233H183V234.9H182V234.9H181V237.5H180V239.1H179V241.5H178V245.6H177V247H176V251.3H175V254H174V253.6H173V258.3H172V261.6H171V263.4H170V264.5H169V267.9H168V269.4H167V275H166V275.3H165V280.3H164V283.2H163V284.5H162V287.8H161V289.9H160V292.4H159V296.3H158V298.2H157V300.1H156V303.9H155V307.1H154V308.5H153V310.9H152V312.9H151V316.4H150V315.9H149V316.8H148V320.1H147V321.8H146V321.4H145V319.4H144V320.7H143V318.5H142V318.6H141V317H140V316.2H139V318H138V317.7H137V316.2H136V313.3H135V314.6H134V314.4H133V314.3H132V313.6H131V310.6H130V310.1H129V312.2H128V308.9H127V308.6H126V306.9H125V304H124V303.4H123V288.3H122V274.1H121V244H120V218.3H119V199.2H118V181.1H117V174.4H116V176.7H115V174.7H114V175.6H113V174.1H112V173.2H111V175H110V175.8H109V176H108V176.6H107V173.9H106V175.9H105V175.9H104V174.4H103V175.6H102V176.6H101V173.2H100V173.6H99V176.5H98V173.7H97V174.1H96V173.5H95V174.8H94V176.7H93V173.5H92V174.4H91V173.6H90V176.2H89V174.4H88V173.6H87V173.3H86V173.7H85V173.3H84V175.4H83V174.5H82V176H81V175.9H80V173.3H79V175.3H78V175.6H77V175.1H76V174.6H75V174H74V174.8H73V173.9H72V173.6H71V176.3H70V174.6H69V176.2H68V176.3H67V174.7H66V176.2H65V174H64V175.9H63V173.5H62V174.8H61V175.5H60V174.1H59V176.7H58V175.6H57V175.5H56V176.5H55V174.7H54V175.2H53V174.2H52V175.2H51V175.5H50V174.9H49V175.8H48V173.5H47V174.1H46V176.3H45V175.2H44V175.6H43V174.2H42V175.2H41V174.6H40V173.8H39V173.3H38V174.4H37V175.2H36V176H35V173.5H34V174.1H33V173.3H32V174.5H31V176.5H30V173.9H29V176.1H28V173.4H27V174.7H26V174.9H25V174.4H24V173.4H23V173.6H22Z" fill="#0808FF"/>
<clipPath id="bc"><path d="M22.5,121.1 23.5,122.2 24.5,121.8 25.5,120.3 26.5,120.2 27.5,120.3 28.5,121.5 29.5,120.5 30.5,122.1 31.5,121.9 32.5,123.2 33.5,122.8 34.5,120.6 35.5,121.1 36.5,120.7 37.5,122.1 38.5,121.9 39.5,120.3 40.5,122.3 41.5,121.1 42.5,121.6 43.5,122.6 44.5,120.9 45.5,121.8 46.5,122.4 47.5,123.2 48.5,121.4 49.5,120.6 50.5,120.2 51.5,122.5 52.5,122.9 53.5,122.3 54.5,122 55.5,122.8 56.5,121.6 57.5,120.3 58.5,122.2 59.5,122.7 60.5,121.3 61.5,120.2 62.5,120.6 63.5,120.3 64.5,120.5 65.5,121.4 66.5,120.4 67.5,121.9 68.5,122.7 69.5,121 70.5,121.2 71.5,123.2 72.5,120.7 73.5,120.8 74.5,122 75.5,120.1 76.5,121.3 77.5,123.1 78.5,121.7 79.5,122.3 80.5,123 81.5,122.9 82.5,121.4 83.5,120.4 84.5,120.3 85.5,120.8 86.5,121.2 87.5,120.1 88.5,120.4 89.5,120.2 90.5,122.1 91.5,120.9 92.5,121.3 93.5,122.8 94.5,121.6 95.5,120.4 96.5,121.2 97.5,122.8 98.5,120.2 99.5,121.8 100.5,121.8 101.5,121.8 102.5,122.9 103.5,120.9 104.5,120.6 105.5,121.8 106.5,121.2 107.5,122.7 108.5,122.8 109.5,122.7 110.5,120.8 111.5,121.2 112.5,120.2 113.5,120.9 114.5,123.2 115.5,123.1 116.5,123.2 117.5,120.8 118.5,121.1 119.5,140.7 120.5,164.1 121.5,189.8 122.5,209.4 123.5,245 124.5,244.6 125.5,242.9 126.5,243.5 127.5,245.6 128.5,243.6 129.5,243.9 130.5,241.2 131.5,242.9 132.5,239.6 133.5,241.5 134.5,238.7 135.5,237.2 136.5,239.1 137.5,236.8 138.5,235.6 139.5,236 140.5,233 141.5,231.9 142.5,230.8 143.5,229.2 144.5,228.8 145.5,228.4 146.5,226.7 147.5,225.8 148.5,224.7 149.5,223.2 150.5,220.6 151.5,220 152.5,220.6 153.5,218.2 154.5,217.9 155.5,215.3 156.5,214.7 157.5,215.3 158.5,213.4 159.5,213.3 160.5,211.1 161.5,209.5 162.5,208.1 163.5,206.9 164.5,206.4 165.5,205.9 166.5,203.5 167.5,203.1 168.5,199.6 169.5,198.1 170.5,196.5 171.5,197 172.5,193.3 173.5,193.1 174.5,192.1 175.5,188.2 176.5,187 177.5,187.3 178.5,183 179.5,182.4 180.5,179.7 181.5,179.7 182.5,177.5 183.5,174.2 184.5,174.3 185.5,170.8 186.5,171.3 187.5,167.4 188.5,165.4 189.5,164.4 190.5,163.2 191.5,162.8 192.5,159 193.5,159.6 194.5,157.7 195.5,159.3 196.5,156.9 197.5,158.5 198.5,156.5 199.5,156.3 200.5,157.4 201.5,157.5 202.5,156.4 203.5,157 204.5,155.4 205.5,154.9 206.5,155.5 207.5,156.7 208.5,155.6 209.5,154.9 210.5,154.3 211.5,155.6 212.5,153.6 213.5,155.6 214.5,154.8 215.5,153.4 216.5,152.7 217.5,153.2 218.5,151.7 219.5,152.5 220.5,151 221.5,149.5 222.5,149 223.5,149.2 224.5,148.2 225.5,150.2 226.5,147.9 227.5,147.5 228.5,146.9 229.5,147.1 230.5,149.2 231.5,146.7 232.5,146.8 233.5,145.6 234.5,147 235.5,146 236.5,145.4 237.5,145.6 238.5,145.4 239.5,146.2 240.5,147.1 241.5,147.6 242.5,147.5 243.5,146.4 244.5,148.3 245.5,147.4 246.5,145.2 247.5,148 248.5,147.5 249.5,145.6 250.5,146.7 251.5,147.7 252.5,147 253.5,147.3 254.5,145.8 255.5,145.5 256.5,145.5 257.5,146.9 258.5,147.1 259.5,146.7 260.5,147.7 261.5,146.7 262.5,147.2 263.5,147.5 264.5,145.4 265.5,147.5 266.5,147.5 267.5,146.7 268.5,146.7 269.5,147.6 270.5,147.2 271.5,145.6 272.5,147.5 273.5,147 274.5,145.3 275.5,147.3 276.5,147.3 277.5,146.8 278.5,146.6 279.5,148 280.5,148.3 281.5,145.2 282.5,147.8 283.5,146.6 284.5,145.8 285.5,145.8 286.5,145.6 287.5,148.2 288.5,147.8 289.5,148 290.5,145.9 291.5,146.7 292.5,145.2 293.5,146.6 294.5,145.6 295.5,146.2 296.5,145.2 297.5,147.9 298.5,148.1 299.5,148.1 300.5,146.4 301.5,148.4 302.5,146.3 303.5,146.1 304.5,145.5 305.5,146.1 306.5,146 307.5,146.8 308.5,146.4 309.5,148 310.5,147.2 311.5,148.2 312.5,147.5 313.5,147.5 314.5,147.6 315.5,146.1 316.5,148.2 317.5,146.7 318.5,146.2 319.5,148.3 320.5,147.3 321.5,147 322.5,145.7 323.5,145.9 324.5,146.8 325.5,148.1 326.5,146.7 327.5,145.8 328.5,146.3 329.5,146 330.5,147 331.5,147.6 332.5,146.6 333.5,146.4 334.5,145.4 335.5,148.3 336.5,146.8 337.5,148 338.5,146.1 339.5,146.5 340.5,148.3 341.5,148 342.5,145.3 343.5,148.1 344.5,147.1 345.5,146.5 346.5,147.9 347.5,148.4 348.5,145.6 349.5,146.9 350.5,148.3 351.5,147.3 352.5,146.7 353.5,145.4 354.5,146 355.5,147.3 356.5,145.7 357.5,147.3 358.5,145.6 359.5,146.9 360.5,146.5 361.5,147.2 362.5,146.2 363.5,148.3 364.5,148.1 365.5,146 366.5,148.4 367.5,146.3 368.5,146.9 369.5,146.6 370.5,147.4 371.5,146 372.5,146.4 373.5,147.5 374.5,147.8 375.5,146.9 376.5,148.4 377.5,147.9 378.5,146 379.5,146.2 380.5,146.9 381.5,146 382.5,147.4 383.5,145.8 384.5,146 385.5,145.8 386.5,145.5 387.5,148.2 388.5,147.7 389.5,148.3 390.5,145.9 391.5,147.7 392.5,147.5 393.5,146.6 394.5,145.9 395.5,146.3 396.5,148.4 397.5,148.5 398.5,146.5 399.5,148 400.5,145.6 401.5,146.6 402.5,146 403.5,148.3 404.5,146.7 405.5,147.9 406.5,145.5 407.5,148.4 408.5,147.8 409.5,146.5 410.5,148.5 411.5,146.3 412.5,146.5 413.5,145.5 414.5,148.4 415.5,148.5 416.5,146.2 417.5,148.5 418.5,146.7 419.5,146.9 420.5,148.5 421.5,148.1 422.5,148.1 423.5,147.5 424.5,146.5 425.5,148 426.5,146.2 427.5,146.3 428.5,145.6 429.5,146.6 430.5,148.4 431.5,146.4 432.5,145.9 433.5,147.8 434.5,146.3 435.5,147.6 436.5,148 437.5,147.7 438.5,148.3 439.5,147.4 440.5,148 441.5,146.4 442.5,146.1 443.5,147.5 444.5,146.9 445.5,147.2 446.5,148.2 447.5,148.8 448.5,147.2 449.5,148.3 450.5,145.8 451.5,146 452.5,148.8 453.5,148.6 454.5,148.4 455.5,146.5 456.5,148.7 457.5,147.6 458.5,146.4 459.5,146.1 460.5,146.5 461.5,147.8 462.5,145.7 463.5,147.9 464.5,146.7 465.5,148.3 466.5,145.9 467.5,147 468.5,147.8 469.5,146.3 470.5,147.1 471.5,146.7 472.5,146.8 473.5,146.9 474.5,148.5 475.5,146.9 476.5,148.1 477.5,145.8 478.5,147.1 479.5,147.1 480.5,147.3 481.5,145.8 482.5,147.9 483.5,146.1 484.5,147 485.5,146.3 486.5,147.5 487.5,146.2 488.5,148.4 489.5,146.5 490.5,148.9 491.5,147.4 492.5,148.8 493.5,148.8 494.5,148.5 495.5,148.4 496.5,147.2 497.5,148.5 498.5,146.6 499.5,147.5 500.5,146.3 501.5,148.2 502.5,146 503.5,148.3 504.5,148.6 505.5,147.8 506.5,147.9 507.5,147.3 508.5,147.3 509.5,147.4 510.5,146 511.5,147.5 512.5,148.4 513.5,147.4 514.5,147.5 515.5,146.4 516.5,146.3 517.5,147.6 518.5,148 519.5,148.3 520.5,147.6 521.5,147.6 522.5,149 522.5,203.4 521.5,204.3 520.5,203.1 519.5,205.7 518.5,203.2 517.5,203 516.5,204.5 515.5,204.4 514.5,203.2 513.5,203.5 512.5,205.7 511.5,203.7 510.5,205.1 509.5,204.4 508.5,205.2 507.5,204.9 506.5,203.9 505.5,204.8 504.5,203.2 503.5,202.9 502.5,204.8 501.5,206 500.5,203.7 499.5,204.2 498.5,204.2 497.5,203.4 496.5,205.8 495.5,203.5 494.5,203.3 493.5,205 492.5,204.1 491.5,202.9 490.5,206.2 489.5,203.2 488.5,206.2 487.5,204.5 486.5,206 485.5,203.7 484.5,204.5 483.5,204.9 482.5,206 481.5,204.7 480.5,203.2 479.5,205.8 478.5,205.6 477.5,205.9 476.5,203.4 475.5,203.3 474.5,206.2 473.5,204.1 472.5,204.7 471.5,206 470.5,203.6 469.5,205.1 468.5,202.9 467.5,204.6 466.5,202.9 465.5,204.6 464.5,203.3 463.5,203.2 462.5,203.7 461.5,203.3 460.5,204.7 459.5,203.3 458.5,203.9 457.5,204.8 456.5,202.9 455.5,205.3 454.5,204.1 453.5,203.8 452.5,204.6 451.5,203.2 450.5,203.5 449.5,205.8 448.5,205.4 447.5,202.8 446.5,204.8 445.5,203.3 444.5,206 443.5,203.6 442.5,205.6 441.5,203.3 440.5,203.2 439.5,203.8 438.5,203.5 437.5,202.9 436.5,205.5 435.5,204.8 434.5,203.9 433.5,204 432.5,204.2 431.5,202.7 430.5,205.9 429.5,205.9 428.5,204.4 427.5,202.6 426.5,205.1 425.5,202.6 424.5,203.6 423.5,203.5 422.5,205.1 421.5,205 420.5,203 419.5,204.1 418.5,203.2 417.5,205.7 416.5,204 415.5,202.4 414.5,204.6 413.5,205 412.5,203.3 411.5,204.8 410.5,204.5 409.5,203.2 408.5,205.5 407.5,203.2 406.5,202.5 405.5,202.4 404.5,205.1 403.5,202.3 402.5,203.5 401.5,205.5 400.5,203.9 399.5,203.8 398.5,205.2 397.5,202.9 396.5,202.6 395.5,203.5 394.5,202.2 393.5,203.4 392.5,203.6 391.5,202.3 390.5,205.6 389.5,203.4 388.5,205.8 387.5,205.4 386.5,203.6 385.5,202.4 384.5,205.7 383.5,203.6 382.5,205.6 381.5,203.7 380.5,202.9 379.5,205.6 378.5,204.9 377.5,203 376.5,203.3 375.5,202.9 374.5,204.8 373.5,202.9 372.5,203.7 371.5,202.3 370.5,205.5 369.5,203.1 368.5,204.6 367.5,202.2 366.5,204.7 365.5,203.1 364.5,203.9 363.5,204.5 362.5,203.8 361.5,202.2 360.5,203 359.5,204.3 358.5,202.4 357.5,204.7 356.5,203.1 355.5,203.2 354.5,205.5 353.5,205 352.5,204.1 351.5,204.9 350.5,204.7 349.5,204.6 348.5,202.7 347.5,203 346.5,205.2 345.5,205.5 344.5,202.1 343.5,203.8 342.5,204.7 341.5,202.2 340.5,205.2 339.5,203.7 338.5,203 337.5,202.9 336.5,204.4 335.5,202.6 334.5,203.1 333.5,203.4 332.5,204 331.5,203.6 330.5,205.3 329.5,203.1 328.5,202.5 327.5,202.5 326.5,202.6 325.5,205.7 324.5,202.9 323.5,205.4 322.5,202.7 321.5,203.5 320.5,203.2 319.5,203.1 318.5,204.8 317.5,203.4 316.5,202.6 315.5,202.3 314.5,204.4 313.5,203.7 312.5,202.3 311.5,204.1 310.5,205.4 309.5,205 308.5,205.6 307.5,202.8 306.5,203.1 305.5,205.5 304.5,205.1 303.5,202.3 302.5,203.6 301.5,204.2 300.5,203.5 299.5,203.2 298.5,204.7 297.5,202.6 296.5,204.9 295.5,205.2 294.5,203.4 293.5,203.3 292.5,204 291.5,202.3 290.5,205.5 289.5,204.8 288.5,204.1 287.5,202.8 286.5,204.2 285.5,204.4 284.5,205.8 283.5,203.3 282.5,205.9 281.5,204.1 280.5,205.8 279.5,203.2 278.5,202.9 277.5,204.2 276.5,203.5 275.5,205 274.5,203.5 273.5,202.6 272.5,203.7 271.5,203.5 270.5,202.9 269.5,204.9 268.5,205.1 267.5,204.1 266.5,206.3 265.5,203.6 264.5,203.8 263.5,203.8 262.5,203.2 261.5,205 260.5,205.8 259.5,203.1 258.5,205.6 257.5,205.5 256.5,206.3 255.5,204.6 254.5,203.5 253.5,205.9 252.5,206.7 251.5,206.5 250.5,206.6 249.5,205.6 248.5,206.7 247.5,206.1 246.5,206.9 245.5,206.3 244.5,204.6 243.5,205.4 242.5,207.4 241.5,206.7 240.5,206.4 239.5,205.4 238.5,204.7 237.5,206.1 236.5,205.7 235.5,206.7 234.5,206.9 233.5,206.7 232.5,206.9 231.5,209.3 230.5,208 229.5,209.8 228.5,208.2 227.5,208.5 226.5,207.9 225.5,209.7 224.5,210.6 223.5,208.4 222.5,210.7 221.5,208.9 220.5,210.2 219.5,211.7 218.5,212.9 217.5,213.9 216.5,212.6 215.5,214.3 214.5,213.3 213.5,212.6 212.5,214.5 211.5,215.3 210.5,214 209.5,214.5 208.5,215.7 207.5,216.7 206.5,217.3 205.5,217.5 204.5,218 203.5,218.8 202.5,219.1 201.5,222.6 200.5,221.1 199.5,223.6 198.5,224.3 197.5,224.7 196.5,225.9 195.5,224.7 194.5,224 193.5,226.9 192.5,228.4 191.5,226.6 190.5,229.6 189.5,227.5 188.5,230.4 187.5,229.2 186.5,232.4 185.5,233.1 184.5,232.2 183.5,233 182.5,234.9 181.5,234.9 180.5,237.5 179.5,239.1 178.5,241.5 177.5,245.6 176.5,247 175.5,251.3 174.5,254 173.5,253.6 172.5,258.3 171.5,261.6 170.5,263.4 169.5,264.5 168.5,267.9 167.5,269.4 166.5,275 165.5,275.3 164.5,280.3 163.5,283.2 162.5,284.5 161.5,287.8 160.5,289.9 159.5,292.4 158.5,296.3 157.5,298.2 156.5,300.1 155.5,303.9 154.5,307.1 153.5,308.5 152.5,310.9 151.5,312.9 150.5,316.4 149.5,315.9 148.5,316.8 147.5,320.1 146.5,321.8 145.5,321.4 144.5,319.4 143.5,320.7 142.5,318.5 141.5,318.6 140.5,317 139.5,316.2 138.5,318 137.5,317.7 136.5,316.2 135.5,313.3 134.5,314.6 133.5,314.4 132.5,314.3 131.5,313.6 130.5,310.6 129.5,310.1 128.5,312.2 127.5,308.9 126.5,308.6 125.5,306.9 124.5,304 123.5,303.4 122.5,288.3 121.5,274.1 120.5,244 119.5,218.3 118.5,199.2 117.5,181.1 116.5,174.4 115.5,176.7 114.5,174.7 113.5,175.6 112.5,174.1 111.5,173.2 110.5,175 109.5,175.8 108.5,176 107.5,176.6 106.5,173.9 105.5,175.9 104.5,175.9 103.5,174.4 102.5,175.6 101.5,176.6 100.5,173.2 99.5,173.6 98.5,176.5 97.5,173.7 96.5,174.1 95.5,173.5 94.5,174.8 93.5,176.7 92.5,173.5 91.5,174.4 90.5,173.6 89.5,176.2 88.5,174.4 87.5,173.6 86.5,173.3 85.5,173.7 84.5,173.3 83.5,175.4 82.5,174.5 81.5,176 80.5,175.9 79.5,173.3 78.5,175.3 77.5,175.6 76.5,175.1 75.5,174.6 74.5,174 73.5,174.8 72.5,173.9 71.5,173.6 70.5,176.3 69.5,174.6 68.5,176.2 67.5,176.3 66.5,174.7 65.5,176.2 64.5,174 63.5,175.9 62.5,173.5 61.5,174.8 60.5,175.5 59.5,174.1 58.5,176.7 57.5,175.6 56.5,175.5 55.5,176.5 54.5,174.7 53.5,175.2 52.5,174.2 51.5,175.2 50.5,175.5 49.5,174.9 48.5,175.8 47.5,173.5 46.5,174.1 45.5,176.3 44.5,175.2 43.5,175.6 42.5,174.2 41.5,175.2 40.5,174.6 39.5,173.8 38.5,173.3 37.5,174.4 36.5,175.2 35.5,176 34.5,173.5 33.5,174.1 32.5,173.3 31.5,174.5 30.5,176.5 29.5,173.9 28.5,176.1 27.5,173.4 26.5,174.7 25.5,174.9 24.5,174.4 23.5,173.4 22.5,173.6Z"/></clipPath>
<g clip-path="url(#bc)">
<path d="M21,162.6 21.6,164.2 22.2,165.7 22.9,167.3 23.5,168.8 24.1,170.4 24.8,172M21.1,142.9 22.5,146.6M22.9,148.2 23.8,150.3 24.6,152.3 25.4,154.4 26.3,156.4 27.1,158.5 27.9,160.5M29,162.2 29.7,163.8 30.3,165.4 31,167.1 31.6,168.7 32.3,170.3 33,172M21.7,124.5 22.7,127 23.6,129.4 24.6,131.8 25.6,134.2 26.6,136.6 27.5,139M27.7,140.6 28.1,141.5 28.4,142.4 28.8,143.3 29.1,144.2 29.5,145.1 29.9,146M30.9,147.6 32.6,151.7 34.2,155.7 35.8,159.8 37.5,163.8 39.1,167.9 40.8,172M28.4,124.5 29.5,127.1 30.5,129.6 31.5,132.1 32.5,134.6 33.5,137.1 34.5,139.6M35.6,141.3 36.9,144.5 38.2,147.8 39.5,151 40.9,154.3 42.2,157.5 43.5,160.8M43.8,162.4 44.4,164 45.1,165.6 45.7,167.2 46.4,168.8 47,170.4 47.6,172M36.2,124.5 37.1,126.8 38,129 38.9,131.3 39.8,133.5 40.7,135.8 41.6,138M41.8,139.6 43.1,142.8 44.3,145.9 45.6,149.1 46.9,152.3 48.2,155.4 49.4,158.6M50,160.2 50.8,162.2 51.6,164.1 52.4,166.1 53.2,168 54,170 54.8,172M43.1,124.5 44.8,128.8 46.5,133 48.2,137.3 50,141.6 51.7,145.8 53.4,150.1M54,151.7 54.3,152.5 54.6,153.2 54.9,154 55.2,154.7 55.5,155.5 55.8,156.3M56.9,157.9 57.8,160.2 58.8,162.6 59.7,164.9 60.7,167.3 61.6,169.6 62.6,172M50.2,124.5 51.5,127.8 52.8,131 54.1,134.2 55.4,137.4 56.7,140.6 58,143.9M58.9,145.5 59.1,146.1 59.4,146.8 59.6,147.4 59.9,148.1 60.2,148.7 60.4,149.4M61.5,151 62.9,154.5 64.3,158 65.7,161.5 67.1,165 68.6,168.5 70,172M58.6,124.5 59.8,127.5 61,130.5 62.2,133.5 63.4,136.5 64.6,139.5 65.8,142.5M65.7,144.1 66.4,145.7 67,147.3 67.7,148.9 68.3,150.5 69,152.1 69.6,153.7M70.7,155.3 71.8,158.1 72.9,160.9 74,163.7 75.1,166.4 76.2,169.2 77.4,172M66.3,124.5 68,128.7 69.6,132.8 71.3,137 73,141.1 74.7,145.3 76.3,149.4M77.7,152.5 79,155.7 80.4,159 81.7,162.2 83,165.5 84.3,168.7 85.6,172M74.4,124.5 75.1,126.2 75.8,127.9 76.5,129.6 77.1,131.3 77.8,132.9 78.5,134.6M79,136.3 79.9,138.6 80.8,140.9 81.8,143.2 82.7,145.5 83.6,147.9 84.6,150.2M85.6,151.8 87,155.2 88.3,158.5 89.7,161.9 91,165.2 92.4,168.6 93.7,172M82.4,124.5 83.7,127.6 84.9,130.6 86.1,133.6 87.3,136.7 88.6,139.7 89.8,142.7M90.6,144.4 91.1,145.6 91.7,146.9 92.2,148.2 92.7,149.4 93.2,150.7 93.7,152M94.7,153.6 95.9,156.6 97.1,159.7 98.4,162.8 99.6,165.8 100.8,168.9 102.1,172M89.7,124.5 90.8,127.3 92,130.1 93.1,132.9 94.2,135.7 95.3,138.5 96.5,141.3M97.3,142.9 97.5,143.5 97.7,144 97.9,144.5 98.1,145 98.3,145.6 98.6,146.1M99.4,147.7 101,151.8 102.6,155.8 104.3,159.8 105.9,163.9 107.5,167.9 109.2,172M98,124.5 98.7,126.2 99.3,127.8 100,129.4 100.6,131.1 101.3,132.7 101.9,134.3M103.5,139.1 105.8,144.6 108,150.1 110.2,155.6 112.4,161 114.6,166.5 116.8,172M105.7,124.5 106.3,126.1 107,127.7 107.6,129.3 108.2,130.9 108.9,132.5 109.5,134.1M110.4,135.7 110.6,136.2 110.8,136.7 111,137.2 111.2,137.7 111.4,138.2 111.6,138.7M111.8,140.3 113.9,145.6 116.1,150.9 118.2,166.1 120.3,214.5 122.5,272.9 124.6,300.4M113.2,124.5 114.7,128.1 116.1,131.8 117.6,136.5 119,157.7 120.5,194.8 121.9,235.9M122.2,243.2 122.4,248.3 122.6,253.4 122.8,259.2 123,265.1 123.2,270.9 123.4,273.1M124.2,278.2 125.5,283.3 126.8,288.6 128.1,294.2 129.5,299 130.8,303.7 132.1,308.6M121.5,198.1 123.1,246.4 124.7,256.1 126.3,261.5 127.9,267.3 129.5,272.4 131.1,277.3M131.4,279.4 132.1,281.7 132.8,284.1 133.5,286.5 134.2,289 134.9,291.5 135.6,294.1M136.7,296.7 137.4,299.2 138.1,301.8 138.7,304.5 139.4,307.2 140.1,310 140.7,312.8M128.4,247.9 129.3,250 130.2,252.2 131.1,254.6 132,257 132.8,259.6 133.7,262.2M134.7,264.2 135.8,267.7 136.8,271.2 137.9,274.9 139,278.7 140.1,282.7 141.1,286.7M142,289.2 143,293.3 144,297.4 145,301.6 146,305.9 147,310.4 148,313.3M136.8,242 138,245.4 139.2,249.1 140.4,252.8 141.6,256.6 142.8,260.6 144,264.8M145,267 145.4,268.3 145.7,269.6 146,270.9 146.4,272.2 146.7,273.5 147.1,274.8M147.8,276.7 149.2,280.9 150.6,284.7 152.1,287.9 153.5,290.9 154.9,293.7 156.4,295.6M144.5,234.8 146.1,240.1 147.8,245.5 149.4,250.5 151.1,255.1 152.7,259.4 154.4,263.4M155.2,264.5 155.5,265.2 155.9,265.8 156.2,266.4 156.5,267 156.8,267.6 157.2,268.1M157.3,270.3 158.3,271.8 159.3,273.2 160.3,274.4 161.3,275.5 162.3,276.5 163.3,277.3M151.4,226.7 153.2,231.8 154.9,236.6 156.7,240.9 158.5,244.6 160.2,247.7 162,250.5M163.2,250.3 163.6,250.9 164.1,251.5 164.5,252 165,252.5 165.4,253 165.9,253.5M165.9,255.5 166.7,256.2 167.4,256.8 168.2,257.3 169,257.8 169.7,258.2 170.5,258.6M159.4,216.9 160.7,219.9 162,222.6 163.3,225.1 164.7,227.4 166,229.4 167.3,231.2M168.7,232.7 170.4,234.3 172,235.4 173.7,236.3 175.3,236.9 177,237.3 178.6,237.5M166.7,207.2 167.9,209.3 169.1,211.3 170.3,212.9 171.5,214.1 172.7,215.1 173.9,216M175.2,215.2 176.2,215.8 177.2,216.3 178.2,216.8 179.2,217.5 180.2,218.6 181.2,219.7M181.8,220.5 182.5,221.4 183.3,222.2 184.1,223.1 184.8,224.3 185.6,225.7 186.4,227.3M174.6,194.5 176.4,196.2 178.3,197.7 180.2,199.5 182.1,201.4 183.9,203.4 185.8,206.1M185.8,207.9 186.1,208.4 186.4,208.9 186.7,209.5 187,210 187.3,210.6 187.7,211.1M188.6,212.1 189.4,213.6 190.2,215.2 191,216.9 191.8,218.7 192.6,220.5 193.3,222.3M181.8,182 184,184.1 186.2,186.6 188.3,189.7 190.5,193.2 192.6,197.2 194.8,202.5M196.5,208.7 197.1,210.2 197.7,211.8 198.4,213.4 199,215 199.7,216.5 200.3,218M188.7,170.5 190.1,172.3 191.6,174.5 193,176.9 194.5,180.7 195.9,184.5 197.4,188.2M197.9,190 198.3,191.1 198.7,192.2 199.1,193.2 199.5,194.3 200,195.3 200.4,196.4M201,198 202.1,200.7 203.2,203.4 204.3,206 205.4,208.6 206.5,211.2 207.6,213.8M196.3,162.1 198.3,167.6 200.3,173 202.3,178.2 204.3,183.2 206.3,188.1 208.3,193M208.9,194.5 209.1,195 209.3,195.4 209.5,195.9 209.7,196.4 209.9,196.8 210.1,197.3M210.4,199 211.2,200.8 212,202.6 212.8,204.4 213.6,206.2 214.4,208 215.2,209.8M204.3,160.2 205.4,162.9 206.4,165.6 207.5,168.3 208.5,170.9 209.6,173.5 210.6,176.1M211.1,177.8 211.7,179.2 212.3,180.7 212.9,182.1 213.5,183.6 214.1,185 214.7,186.4M215.1,188 216.4,191.1 217.8,194.1 219.1,197.1 220.4,200.1 221.7,203.1 223,206.3M211.1,158.3 211.8,160.1 212.5,161.9 213.3,163.6 214,165.3 214.7,167 215.4,168.7M216.2,170.1 216.7,171.4 217.3,172.6 217.8,173.9 218.3,175.1 218.9,176.4 219.4,177.6M219.8,179.2 221.6,183.1 223.3,187.2 225,191.5 226.7,195.7 228.5,200.1 230.2,204.5M218.4,155.6 219.3,157.7 220.2,159.9 221.1,161.9 222.1,164 223,166.2 223.9,168.3M224.3,170 225.6,173.1 226.9,176.3 228.2,179.6 229.5,182.9 230.8,186.3 232.1,189.6M233,191.3 233.8,193.2 234.5,195.1 235.3,197.1 236,199.1 236.8,201.1 237.6,203.1M225.5,152.4 226.1,153.9 226.8,155.5 227.4,157 228.1,158.7 228.7,160.4 229.4,162.1M230.1,163.8 230.4,164.6 230.7,165.4 231,166.2 231.4,167.1 231.7,167.9 232,168.7M233.1,170.3 235.1,175.5 237.1,180.9 239.2,186.4 241.2,191.8 243.2,197.1 245.2,202.5M233.5,150.5 235.5,155.6 237.4,161 239.4,166.3 241.3,171.5 243.3,176.8 245.2,182M246.3,183.8 246.6,184.5 246.9,185.3 247.1,186.1 247.4,186.8 247.7,187.6 248,188.3M248.5,190.1 249.3,192.1 250,194 250.7,196 251.5,198 252.2,200 253,202M241.4,150 242.8,153.8 244.2,157.6 245.6,161.4 247,165.2 248.4,168.9 249.8,172.7M250.8,174.5 251.3,175.9 251.9,177.4 252.4,178.9 253,180.4 253.5,181.8 254.1,183.3M254.7,185.1 255.7,187.9 256.8,190.6 257.8,193.4 258.8,196.1 259.8,198.9 260.9,201.6M249.8,149.9 250.8,152.6 251.8,155.2 252.7,157.8 253.7,160.5 254.7,163.1 255.6,165.7M256.9,169.2 258.9,174.6 260.9,180 262.9,185.3 264.9,190.6 266.9,195.9 268.9,201.2M257.1,149.9 258.4,153.4 259.7,157 261,160.5 262.3,164 263.6,167.5 264.9,171M266.9,175.8 268.4,180 270,184.2 271.6,188.5 273.2,192.7 274.8,196.9 276.3,201.1M265.3,149.9 266.5,153.2 267.7,156.4 268.9,159.7 270.1,162.9 271.4,166.2 272.6,169.5M273.4,171.2 274.5,174.2 275.6,177.1 276.7,180.1 277.8,183 278.9,186 280,188.9M280.8,190.7 281.5,192.4 282.1,194.1 282.8,195.8 283.4,197.5 284.1,199.2 284.7,200.9M272.4,149.9 273.1,151.9 273.9,154 274.7,156.1 275.5,158.1 276.2,160.2 277,162.3M278,164 279,166.6 279.9,169.1 280.9,171.7 281.8,174.2 282.8,176.8 283.7,179.3M284.4,181 285.6,184.4 286.9,187.7 288.1,191 289.3,194.2 290.6,197.5 291.8,200.8M280.6,149.9 281.8,153 282.9,156.2 284.1,159.3 285.3,162.5 286.5,165.6 287.7,168.8M288.9,170.9 290.8,175.9 292.6,180.9 294.5,185.8 296.4,190.8 298.3,195.7 300.1,200.7M288.7,149.9 289.7,152.4 290.6,154.9 291.6,157.4 292.5,160 293.5,162.5 294.4,165M294.6,166.7 295.6,169.3 296.5,171.8 297.5,174.4 298.4,176.9 299.4,179.4 300.4,182M300.8,183.7 301.9,186.6 302.9,189.4 304,192.2 305.1,195.1 306.1,197.9 307.2,200.7M296.4,149.9 297.2,151.9 298,154 298.8,156.1 299.5,158.1 300.3,160.2 301.1,162.3M302.2,164 303.1,166.4 304,168.8 304.9,171.2 305.8,173.6 306.7,176 307.6,178.3M308.2,180.1 309.5,183.5 310.8,187 312.1,190.4 313.4,193.8 314.7,197.3 316,200.7M305,149.9 306.3,153.5 307.7,157.2 309.1,160.9 310.5,164.5 311.8,168.2 313.2,171.8M313.7,173.6 314.6,175.7 315.4,177.9 316.2,180.1 317,182.2 317.8,184.4 318.6,186.6M319.4,188.3 320.2,190.4 321,192.4 321.8,194.5 322.6,196.6 323.3,198.7 324.1,200.7M312.8,149.9 313.8,152.4 314.7,154.8 315.6,157.3 316.6,159.8 317.5,162.3 318.4,164.7M319.3,166.5 319.5,167.2 319.8,167.9 320.1,168.6 320.3,169.4 320.6,170.1 320.9,170.8M321.4,172.6 323.2,177.3 325,182 326.7,186.6 328.5,191.3 330.3,196 332.1,200.7M320,149.9 321,152.5 321.9,155 322.9,157.6 323.9,160.1 324.8,162.7 325.8,165.2M327.2,167.9 329.3,173.4 331.3,178.9 333.4,184.3 335.4,189.8 337.5,195.3 339.5,200.7M328.9,149.9 330.1,153.2 331.4,156.6 332.6,159.9 333.9,163.2 335.1,166.5 336.4,169.8M336.7,171.6 336.9,172.3 337.2,173 337.5,173.7 337.7,174.4 338,175.1 338.3,175.8M338.7,177.6 340.2,181.5 341.6,185.3 343.1,189.2 344.5,193 346,196.9 347.4,200.8M336.1,149.9 338,155.1 340,160.2 341.9,165.3 343.8,170.4 345.8,175.6 347.7,180.7M348.9,184.9 349.9,187.5 350.9,190.2 351.9,192.8 352.9,195.5 353.9,198.1 354.9,200.8M343.8,149.9 346,155.6 348.1,161.3 350.2,166.9 352.4,172.6 354.5,178.2 356.6,183.9M357.7,186.3 358.6,188.7 359.5,191.2 360.4,193.6 361.3,196 362.2,198.4 363.1,200.8M352.4,150 353.4,152.6 354.4,155.3 355.4,158 356.4,160.6 357.4,163.3 358.4,166M358.8,167.7 359.3,169.1 359.8,170.4 360.3,171.7 360.8,173.1 361.3,174.4 361.8,175.8M363,177.5 364.4,181.4 365.9,185.3 367.4,189.1 368.8,193 370.3,196.9 371.7,200.8M360.4,150 361,151.7 361.7,153.4 362.3,155.1 363,156.8 363.6,158.5 364.3,160.3M365.2,162 366.3,164.8 367.3,167.7 368.4,170.5 369.5,173.3 370.5,176.2 371.6,179M371.9,180.7 373.1,184.1 374.4,187.4 375.7,190.8 376.9,194.1 378.2,197.4 379.4,200.8M367.8,150 368.9,152.9 370,155.8 371.1,158.7 372.2,161.6 373.3,164.5 374.4,167.4M375.5,169.2 376.1,170.9 376.7,172.6 377.4,174.3 378,176 378.7,177.7 379.3,179.4M379.6,181.1 380.9,184.4 382.1,187.7 383.3,191 384.6,194.2 385.8,197.5 387.1,200.8M376,150 376.8,152.1 377.6,154.2 378.4,156.3 379.2,158.4 379.9,160.5 380.7,162.6M381.3,164.3 382.1,166.5 383,168.6 383.8,170.8 384.6,172.9 385.4,175.1 386.2,177.2M386.8,179 388.2,182.6 389.6,186.3 391,189.9 392.3,193.5 393.7,197.2 395.1,200.8M384,150 385.9,155.1 387.8,160.1 389.7,165.2 391.6,170.3 393.5,175.3 395.5,180.4M396,182.1 396.4,183.2 396.8,184.3 397.2,185.4 397.6,186.5 398,187.5 398.5,188.6M399.1,190.4 399.7,192.1 400.4,193.9 401,195.6 401.7,197.3 402.4,199.1 403,200.8M392,150.1 393.3,153.4 394.6,156.8 395.9,160.2 397.1,163.5 398.4,166.9 399.7,170.3M400,172 400.3,172.7 400.5,173.3 400.8,174 401,174.7 401.3,175.3 401.5,176M402.6,177.7 404.1,181.6 405.6,185.5 407,189.3 408.5,193.2 409.9,197 411.4,200.9M399.5,150.1 400.8,153.5 402,156.9 403.3,160.3 404.6,163.7 405.9,167.2 407.2,170.6M407.6,172.3 408.5,174.8 409.4,177.3 410.4,179.7 411.3,182.2 412.2,184.7 413.2,187.2M414.5,188.9 415.3,190.9 416,192.9 416.8,194.9 417.5,196.9 418.3,198.9 419,200.9M407,150.1 408,153 409.1,155.8 410.2,158.6 411.2,161.4 412.3,164.3 413.4,167.1M414.2,168.8 415.3,171.7 416.4,174.6 417.5,177.6 418.6,180.5 419.7,183.4 420.8,186.3M420.9,188 421.7,190.2 422.6,192.3 423.4,194.5 424.2,196.6 425,198.8 425.8,201M415,150.2 415.7,151.9 416.3,153.6 417,155.4 417.6,157.1 418.3,158.8 418.9,160.6M419.3,162.3 419.6,162.9 419.8,163.5 420,164.1 420.2,164.7 420.5,165.3 420.7,165.9M421.5,167.7 423.6,173.2 425.7,178.8 427.8,184.3 429.9,189.9 432,195.4 434.1,201M422.8,150.2 424.2,153.9 425.6,157.5 427,161.2 428.4,164.8 429.7,168.5 431.1,172.2M431.8,173.9 432.1,174.7 432.4,175.4 432.7,176.1 432.9,176.9 433.2,177.6 433.5,178.4M434.2,180.1 435.5,183.6 436.8,187.1 438.1,190.6 439.4,194.1 440.7,197.6 442,201M430.5,150.2 431.2,152.2 431.9,154.1 432.6,156 433.4,157.9 434.1,159.9 434.8,161.8M435.3,163.5 436.5,166.5 437.6,169.5 438.7,172.5 439.8,175.4 440.9,178.4 442.1,181.4M442.6,183.1 443.7,186.1 444.9,189.1 446,192.1 447.1,195.1 448.2,198.1 449.4,201.1M437.2,150.3 438.3,153.1 439.3,155.9 440.4,158.7 441.4,161.5 442.5,164.3 443.6,167.1M446.7,173.5 448.4,178.1 450.1,182.7 451.8,187.3 453.6,191.9 455.3,196.5 457,201.1M445.1,150.3 445.7,152 446.4,153.6 447,155.3 447.6,156.9 448.2,158.6 448.9,160.3M449.6,162 451.2,166.4 452.8,170.7 454.5,175 456.1,179.4 457.7,183.7 459.4,188M460,189.8 460.8,191.7 461.5,193.6 462.2,195.5 462.9,197.4 463.6,199.3 464.3,201.2M453.5,150.4 454.5,153 455.5,155.7 456.5,158.3 457.5,161 458.5,163.7 459.5,166.3M460.7,168.1 461.1,169.1 461.5,170.1 461.8,171.1 462.2,172.1 462.6,173.1 463,174.1M463.6,175.9 465.2,180.1 466.8,184.3 468.4,188.5 470,192.8 471.6,197 473.2,201.2M461.2,150.4 462.4,153.6 463.6,156.8 464.8,159.9 466,163.1 467.1,166.3 468.3,169.5M469,171.2 469.6,173 470.3,174.7 470.9,176.4 471.6,178.1 472.2,179.8 472.9,181.6M473.4,183.3 474.5,186.3 475.6,189.3 476.8,192.3 477.9,195.3 479,198.3 480.2,201.3M469.3,150.4 470.6,153.9 471.9,157.4 473.2,160.8 474.5,164.3 475.8,167.8 477.1,171.3M477.5,173 477.9,174.1 478.4,175.3 478.8,176.4 479.2,177.5 479.6,178.6 480,179.7M480.4,181.5 481.7,184.8 482.9,188.1 484.1,191.4 485.4,194.7 486.6,198 487.9,201.3M476,150.5 477.1,153.3 478.2,156.2 479.3,159.1 480.3,162 481.4,164.9 482.5,167.7M483.3,169.5 484.2,171.9 485.1,174.3 486,176.7 486.9,179.1 487.8,181.5 488.7,183.9M489.8,185.7 490.8,188.3 491.8,190.9 492.7,193.5 493.7,196.1 494.7,198.7 495.7,201.4M483.5,150.5 485.1,154.9 486.8,159.2 488.4,163.6 490.1,168 491.7,172.3 493.3,176.7M495.2,181.1 496.5,184.5 497.8,187.8 499,191.2 500.3,194.6 501.6,198 502.9,201.4M491.4,150.5 493.5,156 495.5,161.4 497.6,166.8 499.6,172.2 501.7,177.7 503.7,183.1M504.1,185.2 505.1,187.9 506.1,190.6 507.1,193.3 508.1,196 509.1,198.7 510.1,201.4M498.7,150.6 500.1,154.4 501.6,158.1 503,161.9 504.4,165.7 505.8,169.5 507.2,173.2M508.4,175.2 510.1,179.6 511.7,184 513.3,188.3 515,192.7 516.6,197.1 518.3,201.5M506.5,150.6 507.3,152.7 508.1,154.8 508.9,156.9 509.7,159 510.5,161.1 511.2,163.2M511.4,164.9 512.2,167.1 513,169.2 513.8,171.3 514.6,173.5 515.4,175.6 516.2,177.8M517,179.5 518.3,183.2 519.7,186.9 521.1,190.5 522.5,194.2 523.8,197.8M514.9,150.7 515.7,153 516.6,155.4 517.5,157.7 518.4,160.1 519.3,162.5 520.2,164.8M520.3,166.6 520.7,167.8 521.2,169 521.7,170.3 522.1,171.5 522.6,172.7 523,173.9M522.8,150.7 523.8,153.5" fill="none" stroke="#6464FF" stroke-width="3.4" stroke-opacity="0.9" stroke-linecap="butt"/>
<path d="M484.4,198.9l1,2.8M318,171.4l0.8,2.2M34.4,128.4l0.9,2.5M278.3,187.6l0.6,1.8M507.4,169l0.9,2.6M308,183.6l0.6,1.8M259,187.2l0.8,2.3M343.2,159l0.5,1.5M429.9,160l0.5,1.4M187.4,192.5l0.6,1.7M410.8,178l0.6,1.7M413.9,186.2l0.9,2.7M105.6,171l0.5,1.3M396.5,167.5l1,3M118.7,134.7l0.7,2M488.8,199.1l0.6,1.6M148.5,264.9l1,2.8M341.8,161.9l0.6,1.7M439.7,162.7l1,2.9M257.4,173.2l0.9,2.5M123.8,282.6l0.5,1.5M324.5,164.6l0.6,1.8M173.1,250l0.6,1.8M149.7,251.4l0.5,1.4M153.9,290.4l0.7,2.1M253.4,156l0.8,2.2M451.1,163.4l1,2.7M106.8,171.1l1,2.8M432.8,180.9l0.8,2.3M89,128.7l1,2.7M512.7,200.8l0.5,1.4M409,192.5l0.4,1.3M384.1,188.7l0.8,2.2M225.4,155.3l0.6,1.8M433.5,180.2l0.7,1.9M179.6,219.4l0.7,2M512.6,184.3l0.7,2M442.1,170.1l0.7,1.9M376.4,184l0.6,1.7M397.1,180.9l0.8,2.2M195.6,220l0.6,1.7M268.6,177.9l0.9,2.6M77.4,163.9l0.5,1.3M387.9,153.4l0.9,2.7M130.7,249.8l0.8,2.4M85.8,148.6l0.6,1.8M272.4,200.6l0.9,2.6M101.8,150.7l0.6,1.6M245.4,152.5l1,2.9M391.2,173.6l0.9,2.6M109.1,166.5l1,2.9M451.2,190l0.9,2.4M495.5,182.8l1,2.9M222.2,193l0.8,2.3M191.5,174.5l0.4,1.2M172.1,203.2l0.7,2.1M159.3,224.9l0.8,2.3M514.5,172.2l1,2.8M68.9,154.3l0.9,2.4M447,152.7l0.7,1.9M417.8,155.9l0.5,1.3M80,145.1l1,2.8M478.8,193.8l0.7,2M464.8,183.9l0.5,1.5M315.6,188.6l0.9,2.7M283.2,158.5l0.8,2.3M417,155.8l0.5,1.6M112,164.2l0.6,1.6M340.8,164.8l0.5,1.6M110.4,133.5l1,2.8M292.1,160.5l0.9,2.5M207.7,199.6l0.4,1.2M185,201.6l0.8,2.3M455,163.9l0.9,2.6M68.9,133.6l0.5,1.4M270.3,175.9l0.9,2.7M334.5,193.3l0.4,1.2M443.9,192.1l0.7,2.1M419.2,193.2l0.9,2.5M134.1,259.6l1,2.8M134.1,271.8l0.5,1.4M305.7,152.3l0.6,1.7M69.5,162.9l1,2.8M425.4,158.9l0.9,2.5M394.7,197.6l0.6,1.7M192.2,215.1l0.9,2.6M101.2,159.2l0.4,1.2M290.2,161.6l0.6,1.6M429.1,173l0.8,2.2M362.3,166.6l1,2.8M119.7,185.8l0.6,1.8M492.9,158l0.6,1.8M179.5,210.4l0.9,2.7M323.5,158.8l0.8,2.3M67.9,159.5l0.5,1.4M402.5,185.3l0.5,1.5M397,191.1l0.9,2.5M317.6,168.2l0.9,2.5M202.6,215.1l0.5,1.3M382.1,160.5l0.8,2.2M330.7,166.4l1,3M352.8,175.4l0.7,1.9M361.4,172.2l0.5,1.3M48.7,126.6l0.6,1.8M250.2,160.2l0.6,1.6M434.7,193.2l0.4,1.3M417.4,170l1,2.8M95.1,138.7l0.5,1.4M170.5,204l0.7,2M31,146.5l0.6,1.7M146.3,276.9l0.6,1.7M407.1,166.8l1,3M457.9,157.1l0.7,1.9M412.9,194.3l0.5,1.4M108.3,127.4l0.5,1.4M402.4,166.8l0.6,1.8M431.1,195.3l1,2.8M335.1,173.8l0.8,2.3M449.3,165.8l0.8,2.2M51.3,166.7l0.6,1.8M263.5,181.1l0.6,1.7M473.7,175.9l0.8,2.3M272.5,151.7l0.9,2.7M162,243.9l0.6,1.6M47.2,135.6l0.5,1.4M309.8,152.4l0.6,1.7M359.3,199.4l1,2.8M168.7,225.5l0.5,1.5M88.4,154.9l0.4,1.2M181.8,198.7l0.6,1.7M278.7,177.5l0.5,1.5M427.9,177.4l0.8,2.4M59.2,160.1l0.9,2.6M177.2,224.9l0.9,2.5M95.2,142.3l1,2.9M251.2,152.9l0.8,2.4M242.7,199.2l0.7,2.1M79.7,124.5l0.7,1.9M508.6,166.8l0.6,1.7M286.8,153.3l1,2.7M96.1,155.7l0.5,1.5M371.4,189.6l0.5,1.4M31.1,159.9l0.9,2.6M280.9,175.1l0.7,2.1M96.1,163.9l0.8,2.3M96.3,149l0.6,1.7M225,201.5l0.6,1.6M256.3,185.2l0.5,1.4M293.8,190.8l0.8,2.2M57.9,149.2l0.5,1.4M399.6,175.7l0.5,1.5M198.4,215.7l0.6,1.7M23.1,162.6l1,2.8M120.2,178.7l0.5,1.4M270.5,152.5l0.6,1.7M501.6,187.7l0.5,1.4M232.9,184.1l1,3M212.7,174.8l0.5,1.3M347.8,198.9l0.9,2.6M498.7,201l0.8,2.1M452.9,194.5l0.7,2M261.2,176.6l0.6,1.6M261.6,150.6l0.8,2.2M467.4,197.9l0.7,1.9M437.1,166.6l0.9,2.6M335.8,163.1l0.8,2.3M191.3,206.3l0.5,1.5M155.4,297.3l1,2.8M128.2,267.9l0.6,1.7M315.3,160.8l0.6,1.8M484.7,171.1l0.5,1.3M489.7,156.8l0.7,1.9M274,189.1l0.9,2.6M450.3,163.1l0.7,2M170.1,255.5l0.9,2.5M280.3,167.6l0.7,1.9M323.2,168.1l0.8,2.4M280.9,172.5l0.8,2.4M415.9,176.9l0.6,1.7M428.8,150.6l0.8,2.3M193.5,220.6l0.5,1.4M27.7,141.8l0.5,1.3M66.5,124.3l1,2.7M226.3,179.4l0.7,2.1M431.4,200.2l0.6,1.7M335.1,182.5l1,3M277.2,180.3l0.5,1.5M144.9,277.9l0.9,2.5M465.7,168.7l0.6,1.8M463.1,197.7l0.4,1.3M206.1,213.9l0.8,2.3M123.8,271.6l0.8,2.3M335.2,150l0.6,1.6M326.2,175.9l0.9,2.7M250.4,197.7l0.7,2.1M330.1,151.4l0.7,2.1M22.6,149.4l0.7,1.9M114.9,163.1l0.5,1.5M185.6,223.5l0.7,2.1M128.4,265.8l0.9,2.7M229.4,197.3l0.9,2.7M293.4,200.4l0.9,2.5M402.4,193.7l0.5,1.3M23.5,151.3l0.5,1.3M289.4,158l0.7,2.1M296.3,184.2l1,2.9M315.6,170.6l0.8,2.3M356.8,180.7l0.5,1.4M32.7,154l0.8,2.2M463.8,185.6l0.9,2.4M149.5,275l0.7,1.9M198.3,199.4l1,2.8M193.3,210.1l0.7,2.1M27.5,157.4l0.7,2M258.4,180.8l0.4,1.2M405.4,163.1l1,2.8M190.1,203.1l1,2.9M417.5,168.9l0.6,1.6M245.5,163.5l0.6,1.6M192,207.3l0.5,1.5M32.4,132.5l0.9,2.7M68.8,164.3l0.5,1.5M186.2,211.3l0.7,1.9M112.6,150.6l0.5,1.5M411.6,176.4l1,3M336.5,193.4l0.6,1.8M349,170.6l1,2.8M263.8,195.1l0.5,1.3M357.6,183.6l0.7,2M476.2,196.3l0.6,1.7M26.6,129.4l0.6,1.8M432.9,197.1l1,2.8M189.1,172l0.4,1.3M240.1,182.5l1,2.9M82.7,127.8l0.8,2.4M353.9,171.6l0.8,2.4M141.3,310.5l0.5,1.4M467.4,185.3l0.8,2.3M317.8,156l0.7,2.1M271.3,159.9l1,3M336.9,192.6l0.5,1.5M416.3,187.4l0.5,1.5M116.3,160.9l0.7,1.9M92.6,136.3l0.5,1.4M112,160.5l0.4,1.2M51.6,140.6l1,2.8M96.5,153.4l0.9,2.7M481.8,185l0.5,1.4M217.3,197.6l1,2.8M162.7,250.3l0.9,2.6M170.7,256l0.9,2.6M115.4,164.6l0.6,1.7M30.3,156.8l0.8,2.4M475.9,168.2l0.6,1.6M347.9,188.9l1,2.7M107.1,128.4l1,2.9M512.7,156l0.7,2M516.1,184.8l0.4,1.3M226.4,192.1l0.6,1.7M514.1,154.8l1,2.8M85.2,165.9l0.5,1.6M498.9,192.5l0.6,1.8M382,200.9l0.7,2.1M346.6,189.6l0.7,2M520.3,187.2l0.8,2.4M226.5,185.2l1,2.8M378.5,166.7l0.6,1.8M295.1,176.1l0.9,2.6M202.4,195.8l0.6,1.8M418.7,182.4l0.7,2M392.4,183.2l0.6,1.8M307.3,151.1l0.6,1.8M427.6,162.9l0.9,2.5M180.8,207.6l0.6,1.6M463.9,174.1l0.8,2.2M131.1,252.5l0.6,1.7M351,196.2l0.7,2M97.4,128l0.5,1.4M143.6,274.2l0.8,2.4M111.4,142.2l0.7,1.9M262.1,181.1l0.6,1.7M378.6,162.5l0.6,1.7M209,187.6l0.9,2.6M492.3,181.9l1,2.9M359.7,156.5l1,2.8M74.7,126.6l0.9,2.7M52.8,157.5l0.6,1.6M308.4,164.3l1,2.8M497,187l0.8,2.4M240.3,194.3l0.8,2.3M289.4,150.5l0.7,1.9M26,149.3l0.5,1.3M39.8,165.6l0.7,2.1M175.6,195.9l0.9,2.5M274.8,193.3l1,2.7M118.4,170.6l0.4,1.3M90.2,152l0.6,1.7M400.8,177.1l0.7,1.9M104.2,155.6l0.7,2M209.5,192.1l0.8,2.4M279.8,180.3l0.6,1.7M347.4,182.7l1,2.8M203.1,209.5l0.5,1.4M54.2,137.5l0.5,1.5M181.5,189.6l1,3M61.5,129.6l0.9,2.5M482.8,191.1l0.7,2M28.8,128.5l0.7,1.9M114.8,151l0.7,2.1M417,198.8l0.9,2.7M208.1,198.2l1,3M508.4,155.5l0.4,1.2M467,178.1l0.5,1.3M138.4,254.6l0.9,2.5M240.4,154.7l1,2.7M508.8,197.1l0.4,1.2M397.4,174.1l0.5,1.6M312.2,184.6l0.7,2.1M43.4,169.7l0.8,2.3M391.8,194.7l0.9,2.6M65.8,144.8l0.8,2.2M230,165.3l0.5,1.4M168.8,254.2l0.5,1.4M218.7,155.3l0.6,1.7M167.2,231.8l0.5,1.4M143.5,272.7l0.9,2.6M518.5,201.5l0.9,2.5M153.1,244.4l1,2.7M469.4,181.3l0.7,1.9M64.5,130.2l0.6,1.7M265.5,168.8l1,3M137.1,310.3l0.9,2.6M386.1,195.6l0.8,2.3M210.6,197.1l0.6,1.8M289.2,172.9l0.7,2.1M450.7,157.1l0.6,1.7M458.7,166.4l0.9,2.6M396.7,155.5l0.6,1.8M347.4,196.6l0.7,1.9M55.2,148.6l0.9,2.6M285.5,184.2l0.7,2M487.3,189.9l0.4,1.3M267.6,170.7l0.8,2.4M285.3,160.8l0.7,2M490.5,197.1l0.6,1.7M469.3,196.3l0.5,1.4M159,274.4l0.6,1.7M226.6,171.2l0.5,1.4M413.9,161l0.9,2.5M52,135.2l0.5,1.4M74.9,156.7l0.8,2.4M446.2,154.9l0.7,2M129,260.4l0.8,2.2M144.8,314.4l0.5,1.5M486.7,195l0.6,1.8M265,198.9l0.5,1.5M379.7,184.6l0.5,1.4M219.7,193.9l0.6,1.8M285.4,161.8l0.4,1.2M159,257.8l0.7,2.1M412.3,152.6l0.4,1.3M361.4,178.5l0.8,2.2M62.8,135.3l0.6,1.8M352.7,181.9l0.7,2M423.1,162.6l0.6,1.7M124.1,252l0.8,2.3M451.6,199.7l0.7,2M335.4,198.5l0.8,2.4M336.6,172.5l1,2.9M478,166.8l1,2.7M407.6,180l0.9,2.5M314.9,195.5l0.8,2.2M99.1,129.9l0.9,2.6M247.9,168.9l0.5,1.4M228.9,165.1l1,3M273.3,166.5l0.8,2.3M506.5,153.8l1,2.8M425,192.5l1,3M372.4,188.2l1,2.9M295,172.9l0.9,2.7M321.3,200.5l0.5,1.5M292.2,174.2l0.5,1.5M296.1,184.7l0.7,1.9M494.9,183.5l0.8,2.3M97.3,146.8l0.5,1.4M213.2,206l1,2.9M281.9,196l0.8,2.4M464.6,163.3l1,2.8M238,183.3l1,2.8M214.1,171.1l0.8,2.1M263.7,159.9l1,2.9M229,200.5l0.8,2.4M465.4,200.1l0.5,1.5M263.2,176.7l0.5,1.3M91.7,137.9l0.6,1.7M216.3,198.8l0.4,1.2M512.6,196.1l0.9,2.6M190.1,215.5l0.7,2M222.3,186.8l0.5,1.5M336.2,181.2l0.9,2.6M502.5,191.7l0.7,2.1M37.6,164.9l1,2.8M290,174.5l0.5,1.3M157.9,274.5l0.5,1.5M71.2,143.7l0.7,2M75.9,146.6l0.8,2.4M61.5,161.7l0.7,2.1M328,157l0.7,1.9M298.7,176.9l0.8,2.3M364.9,177.5l0.8,2.3M277.2,188l0.6,1.8M198.6,176.6l0.6,1.8M240.4,158.3l0.7,2.1M321,166.8l0.7,1.9M249.2,174.5l0.6,1.8M206.1,166.6l0.9,2.7M166.9,260l1,2.9M128.6,275l0.5,1.4M324.3,190.7l0.9,2.6M62.9,168.9l0.5,1.5M384.6,170.4l0.8,2.4M235.4,160.1l0.9,2.5M512.9,180.5l1,2.8M434.2,170.5l0.8,2.4M85.5,165.3l0.8,2.2M60.1,170.3l0.7,2M280.6,189.3l0.8,2.3M89.9,132l0.9,2.6M90.9,125.1l0.9,2.5M451.5,194.6l0.5,1.5M324.7,158.5l0.6,1.6M493.2,195.8l0.6,1.6M244,183.8l0.9,2.7M503.4,172.9l0.6,1.7M253.7,186l0.9,2.6M100.8,167.8l0.7,2M260.5,176.9l0.6,1.7M164.6,235.2l0.4,1.3M209,166.3l0.6,1.7M465.6,174.1l0.5,1.5M452.8,158.2l1,2.8M519.9,150.4l0.8,2.3M501.7,159.3l0.9,2.5M353.7,187.3l0.7,2M415.3,196.3l1,2.9M296.2,168.8l0.6,1.7M229.7,204.1l1,2.7M43.1,127.7l0.9,2.6M213.1,182.2l0.5,1.4M68.2,150.3l1,2.8M319.5,153.9l0.6,1.8M243.5,173l0.7,2M478.7,183.6l1,2.9M315.9,158.8l0.5,1.6M165.2,233.5l0.6,1.7M508.3,183.5l1,2.8M235.3,203.4l1,2.9M39.7,153.6l0.9,2.4M37.8,128.2l0.9,2.5M28.2,128.6l0.5,1.4M357.9,173.2l1,2.9M218.2,176.7l0.6,1.8M329.6,189.5l1,2.8M398.1,156.5l0.6,1.6M490.8,154.3l0.7,2.1M440.1,186.8l0.6,1.7M235.3,175.7l0.8,2.2M484.7,164.8l0.6,1.8M348.2,192l0.6,1.6M487.9,161.6l0.6,1.6M345.5,197.1l0.8,2.3M449.6,192.7l0.7,2.1M419,166.8l0.5,1.3M309.9,156.7l0.9,2.7M132.1,271.7l1,2.9M285.7,184.8l1,2.9M152.9,260.6l1,2.7M415.9,178.5l0.5,1.3M30.2,141.3l0.8,2.4M277.9,152.3l0.8,2.3M297.2,151.3l0.5,1.3M130.1,262.3l1,2.8M167.2,266.9l0.7,2M216.2,169.3l0.7,2.1M112.3,154.8l1,2.8M281.6,192.6l0.6,1.7M336.7,197l0.6,1.8M383.9,155.3l0.7,2M377,191.4l0.8,2.4M436.6,159.9l0.7,2M52.9,139l0.7,1.9M342.4,163l0.9,2.4M365.7,151.9l0.9,2.6M61.5,132.2l0.8,2.4M87.3,139.3l0.7,1.9M490.3,159.4l0.5,1.5M516.5,174.4l0.8,2.3M258.2,195.4l0.6,1.8M292.8,150.2l0.8,2.2M283.8,182l0.5,1.3M323.6,164.8l0.9,2.7M242,177.3l0.7,1.9M155.4,284.8l1,2.8M418.1,174.8l0.8,2.2M225.8,161.5l0.8,2.2M413.4,199.4l0.7,2M473.4,166.4l0.5,1.4M148.3,290.7l1,2.9M277.1,150.7l0.8,2.4M280.1,168.1l0.7,1.9M90.8,167.7l0.6,1.6M100.3,129l0.6,1.8M350.4,181.4l0.7,2M338.3,181l0.5,1.3M123.3,280.2l0.5,1.5M155.9,251.3l0.6,1.8M113.3,144.5l0.8,2.3M39.4,131.7l0.8,2.2M476.7,168.8l0.6,1.8M46.4,129.1l0.9,2.6M69.6,139.3l0.8,2.4M264.1,189.8l0.7,2.1M77.6,163.4l0.8,2.2M101.2,144.3l0.8,2.4M40.8,153.8l0.5,1.3M388,159.1l0.9,2.5M308.6,178l1,2.9M490.2,198.6l0.8,2.2M276.7,180.5l1,2.9M164.9,241.4l0.9,2.7M182,192.7l0.5,1.3M385.5,160l1,2.8M110.4,165.2l0.6,1.7M224.2,188.4l1,3M199.6,164.2l0.8,2.2M429.7,169.6l0.7,1.9M73.5,157.3l0.6,1.6M157.1,257.9l0.6,1.8M373.3,200.6l0.6,1.8M348.1,189.7l0.8,2.3M90.8,155.4l0.5,1.6M244.8,161.3l0.5,1.4M208.3,191.2l0.6,1.8M427.9,168.5l0.5,1.5M252,185.8l0.5,1.5M276.6,157.8l0.9,2.7M91.9,129.2l0.7,2M178.1,233.9l1,2.8M40,165.2l0.4,1.3M422.4,191.9l0.7,1.9M270.1,198l0.6,1.7M247.2,156.6l0.9,2.7M239.1,162.8l0.9,2.6M458.1,200.9l0.5,1.3M276.5,191.7l0.9,2.5M353.9,159.5l0.5,1.3M330.6,184.5l0.7,1.9M65.7,137l0.5,1.5M274.3,175.5l0.7,2.1M52,167.6l0.7,2.1M115,145l0.5,1.5M342.3,160.2l1,2.8M213.7,209.3l0.9,2.5M366,189.1l0.7,2.1M491.9,163.1l0.5,1.3M373.9,184.9l0.6,1.6M155.9,293l0.5,1.3M395.8,158.2l0.4,1.3M485.5,193.1l0.5,1.3M516.9,182.5l1,2.8M235.8,160.6l1,2.9M87.8,152.3l1,2.8M366.3,174l0.8,2.2M340.7,196.2l1,2.9M37.7,143.4l0.7,1.9M505.5,200.9l0.8,2.4M130,304.8l0.5,1.4M163.3,222.7l0.9,2.5M221.2,193.7l0.8,2.3M58.9,137.2l0.5,1.4M235.1,185.3l0.5,1.5M120.4,212.9l0.7,2M520.5,177.5l0.8,2.3M256.3,156.4l0.5,1.5M241.3,162.1l0.6,1.6M86.9,131.7l0.7,2.1M195.6,200.2l0.9,2.4M423.1,189.8l0.8,2.3M71.9,140l0.6,1.8M82.6,138.5l1,2.9M140.2,304l0.7,2M219.1,165.9l0.8,2.3M441.2,180l1,2.8M196.4,203.1l0.4,1.2M195.4,163.2l0.6,1.6M269.7,181.8l1,2.8M410,159.3l0.6,1.8M240.4,161.4l0.5,1.4M169.8,207.4l0.4,1.3M312.5,193.5l1,2.9M314.4,180l0.4,1.3M284.6,158.6l1,3M353,162.8l0.7,2.1M210.1,159.2l0.7,2.1M107.1,163l0.9,2.5M55.3,138.1l0.9,2.5M431.8,175.6l0.7,2M395.1,197l0.6,1.7M157.6,257.5l0.8,2.3M48.4,167.6l0.8,2.2M474.2,191.2l0.4,1.2M388.2,166.4l0.8,2.4M331.7,186.9l1,2.8M298.6,156.8l1,3M121.5,247.8l0.9,2.6M341.1,184.6l0.6,1.7M318.6,157l1,2.9M299.9,189l0.7,2.1M196.3,201.9l1,2.8M102.1,147.4l0.8,2.3M49.4,167.8l0.7,2.1M53.7,134.6l0.8,2.3M394.9,155.7l0.6,1.8M267.4,150.9l0.5,1.5M112.9,145l0.5,1.5M23.8,148.3l1,2.9M517.8,168.9l0.5,1.4M148.6,308.6l0.8,2.3M484.7,187.6l0.5,1.5M151.5,261.1l0.7,2.1M441.6,153l0.6,1.7M326.9,166.8l0.8,2.4M474.2,191.9l1,2.9M332.9,161.1l0.6,1.7M185.4,191.3l0.9,2.5M339.1,174.1l0.4,1.2M25.9,167.3l0.7,2.1M408.5,151.8l0.8,2.2M52.8,168.7l0.8,2.2M479.9,193.8l0.5,1.5M298.3,152.6l0.8,2.4M444.7,153.8l0.8,2.2M315.9,151.5l1,2.9M52,137.2l0.6,1.8M517.1,183l0.5,1.5M299,167.5l0.8,2.2M278,164.6l1,2.9M173.4,220.3l0.5,1.3M129.2,250.3l0.8,2.2M184.5,201.8l0.5,1.3M89.5,149.5l0.6,1.7M472.9,185.3l0.9,2.5M458.1,184.5l0.9,2.5M42.9,125l0.5,1.5M457.8,193.9l0.7,1.9M337.7,164.3l0.6,1.7M42.6,136.8l1,2.9M152.1,232.4l0.6,1.8M496.8,151.5l1,3M294.2,187.7l1,2.9M426.9,183.5l0.5,1.4M121.6,233.3l0.8,2.3M195.4,183.9l0.7,1.9M221.6,161.5l0.6,1.8M315.5,154l0.6,1.7M136.5,270.8l0.8,2.3M496.4,164.8l1,3M426.7,198.2l0.7,2M428.7,157l0.9,2.7M85.4,172.2l0.5,1.4M334.6,157l0.6,1.7M239.6,152.3l0.7,2M338.5,163.4l0.8,2.4M284.5,166.5l0.6,1.6M519.1,173.4l0.8,2.4M115.1,129.5l0.9,2.6M172.7,233.8l0.5,1.4M67.7,141.4l0.6,1.7M205.7,174l1,2.9M236.3,197.5l1,2.9M219.1,196.6l0.9,2.6M218.4,202.9l0.7,2M282.4,170.9l1,3M329.9,167.1l1,3M215.6,194.7l0.5,1.4M407.1,173.7l0.7,2.1M78.6,163.5l0.9,2.6M371.9,161.3l1,3M113.1,141.7l0.8,2.3M44.6,169.2l0.4,1.2" fill="none" stroke="#8C8CFF" stroke-width="1.1" stroke-opacity="0.6"/>
<path d="M118,151l0.6,1.6M413.6,180.1l0.8,2.4M41.5,137.5l0.8,2.2M294.7,196.9l0.8,2.3M33.7,163.1l0.9,2.4M424.5,198.6l0.8,2.2M286.5,158.3l0.8,2.2M193.4,216.2l0.9,2.7M365.9,170.9l0.9,2.4M407.8,178.4l0.8,2.2M76.2,154.5l0.6,1.8M303,177.4l0.6,1.6M210.6,200.8l0.5,1.5M233.3,154.6l0.9,2.5M366.5,177.4l0.8,2.2M170.9,252.1l0.5,1.4M453.7,175.6l0.9,2.6M231.8,194.5l0.7,2.1M513.3,182.9l0.4,1.3M159.8,241.6l0.5,1.5M67.2,159.7l0.7,1.9M168.5,209l1,2.8M31.5,153.6l0.5,1.5M256.4,186.8l0.8,2.2M235.3,166.9l0.8,2.3M451.5,172.4l0.6,1.9M394.4,197.3l0.6,1.8M432.9,179.5l1,2.9M333.5,171.6l0.8,2.3M39.1,143l1,3M323.2,152.9l0.8,2.3M293.2,155.8l0.5,1.3M94.8,155l0.6,1.8M503.4,151.5l0.9,2.6M472.6,158l0.9,2.4M355.5,155.4l1,2.9M419.7,186.8l1,2.9M277.8,163.7l0.8,2.2M345.3,194.6l0.5,1.6M509.8,150.3l0.9,2.7M306.6,179l0.9,2.6M91.7,162.5l0.6,1.8M278.2,196.4l0.7,1.9M62.9,139.9l0.8,2.4M438.2,160.7l0.9,2.6M93.5,131l0.8,2.2M328.9,171.6l0.7,2.1M283.1,177.3l0.8,2.3M422.2,193l0.6,1.7M433.5,186.8l1,2.9M145.9,263.2l1,2.8M318.3,200.5l0.9,2.6M98.3,151.2l0.8,2.3M68.2,144.8l0.7,2.1M223.9,188.5l0.7,1.9M388.4,189.4l0.8,2.3M171.1,230.5l0.7,2.1M340,181.6l0.8,2.3M485,190.3l0.8,2.4M485.4,200.2l0.9,2.4M513.6,158l0.9,2.5M387.9,167.2l0.8,2.2M72.6,156.4l0.6,1.8M395.8,173.2l0.9,2.5M447.9,189.2l1,2.8M163.1,245.2l0.9,2.6M387.2,193l0.9,2.7M342.3,151.9l0.7,2.1M461,179.7l0.5,1.4M22.8,143.8l1,2.9M91.8,128.4l1,2.7M44.7,156.2l0.4,1.2M178.5,216.8l0.4,1.3M500.5,178.5l0.8,2.4M509.5,182.3l0.6,1.8M456.9,170.5l0.8,2.2M473.3,161.5l0.5,1.4M472.9,188.1l1,2.9M251.7,198l0.8,2.2M381.6,159.4l0.9,2.6M251.2,183.6l1,2.9M191.6,209.6l1,2.7M305.8,173.1l1,2.8M122.3,225.9l0.4,1.3M413.6,169l0.6,1.6M367.6,162.5l0.6,1.8M381.4,171.9l0.8,2.2M414,180.4l0.7,1.9M111.5,124.9l0.5,1.4M333.1,150.7l0.7,2M385.9,169.7l1,2.8M427.5,167.6l0.7,1.9M181.1,194.7l0.5,1.4M92.8,141.2l0.4,1.2M334.7,153.7l1,2.9M158.6,234.8l0.4,1.2M162.4,220.3l0.6,1.6M267,187.9l1,2.8M464.5,185.1l0.6,1.8M400.9,186.9l0.6,1.7M349.9,192.8l0.7,2.1M416.9,192.8l0.7,1.9M138.4,267.3l0.7,2M276.1,157.9l0.8,2.4M284.6,172.6l1,2.8M167.2,222.1l0.7,2.1M52.4,124.9l0.7,2M338,168.4l1,3M491,182.1l0.7,1.9M289.8,173.3l0.5,1.5M292.6,166.7l0.5,1.3M507.8,162.5l0.8,2.4M248.7,152l0.6,1.6M447.6,166.6l1,2.8M172.9,221.1l1,2.8M138.4,241.8l0.6,1.7M47.5,148.4l0.6,1.6M41.1,148.7l0.9,2.5M93.7,166.9l0.4,1.2M514.8,187.5l0.5,1.5M494.3,180.9l0.8,2.2M398.1,159l0.9,2.6M97.2,139.4l1,3M389.4,177.3l0.6,1.8M241.9,178l0.8,2.4M250.5,194.6l0.4,1.2M99.9,159.8l1,2.7M86.3,155.5l0.6,1.6M276.6,177.8l0.6,1.8M426,193.7l0.6,1.8M427,183.3l0.8,2.3M34.3,134.5l0.5,1.5M215.6,177l0.8,2.2M110.3,162l0.8,2.3M198.3,177.9l0.8,2.3M321.4,157.9l0.7,2.1M351.6,162l0.6,1.6M170.2,233.6l0.7,2M122.4,252.7l0.4,1.3M429.5,158.9l0.9,2.6M447.7,190.8l0.9,2.6M149.2,231.7l0.5,1.5M485,179.4l0.8,2.3M464.3,174.4l0.8,2.2M434.3,188.4l1,2.8M487.7,150.9l0.9,2.5M501.9,194.4l0.7,2M370.5,163.1l0.4,1.2M73.4,135.5l1,2.9M168.3,231.4l1,2.9M180.4,211l0.5,1.5M465.8,168.7l0.6,1.7M469.6,181.8l0.7,2.1M265.8,191.3l0.9,2.6M273,185.6l0.7,2M365.5,192.1l1,3M371.4,170.9l1,2.8M405.3,179.7l0.9,2.5M217.2,179.6l0.8,2.3M318.4,168.1l0.7,2.1M99.8,128.5l0.7,1.9M222.4,202.1l0.9,2.4M23.3,170.4l0.6,1.8M317.3,185.4l0.5,1.4M23.9,142.9l1,2.7M301.7,152.6l0.5,1.5M402,200.5l0.9,2.6M239.7,177.5l0.8,2.2M446.1,150.7l0.9,2.4M139.7,253.4l1,2.8M271.2,165.8l0.6,1.7M23.6,170.1l0.8,2.4M224.8,200.8l0.8,2.2M38.2,158.9l0.4,1.2M135.3,304.7l0.6,1.8M500.9,198.3l0.5,1.5M155.7,280.6l0.6,1.7M77.4,125.6l0.6,1.6M177.2,210.2l0.9,2.5M142.7,304.6l0.6,1.8M202.1,203.4l0.8,2.2M108.3,128l0.6,1.7M270,167.5l1,3M273.5,192.9l0.8,2.4M407.3,151.6l0.5,1.5M280.8,184.9l0.8,2.3M147.8,245.4l0.6,1.7M390.5,190.2l0.7,2.1M257.4,173.5l0.6,1.6M363.7,198.2l0.5,1.5M503.7,159.4l0.5,1.5M48,152.1l0.9,2.7M78.9,151l0.7,2.1M113.9,153.3l0.5,1.5M161,260.2l0.8,2.1M327.6,163l0.7,2.1M253.2,160.5l0.7,1.9M222,166.4l0.8,2.4M364.1,156.5l0.7,1.9M114.3,129.4l0.7,1.9M209.1,206l0.9,2.6M50.5,145.9l0.8,2.3M170.8,214.5l0.6,1.7M263.6,170.8l0.8,2.4M143.2,292.4l0.5,1.4M441.5,173.6l0.9,2.5M463,199.9l0.8,2.3M374.3,192.2l0.7,1.9M262.2,153.8l0.6,1.7M111.2,153.8l0.9,2.6M235.2,153l0.7,2M386.9,163.7l0.9,2.7M186.6,206.4l0.4,1.3M498.2,190.2l0.6,1.8M157.1,228.9l1,2.8M155.3,236l1,2.9M197.5,186.7l0.9,2.7M109.3,164.5l1,2.9M351.5,172l0.6,1.8M412.8,196.5l0.6,1.7M242.3,189.6l1,2.8M173.6,226.3l0.6,1.8M348.8,180.5l0.6,1.8M101.5,154.7l0.5,1.3M80.2,157.8l0.9,2.6M375.7,160.8l1,2.9M351.7,168.8l0.4,1.2M167.3,240l0.9,2.5M116.6,132.1l0.9,2.7M274.9,190.3l0.8,2.4M179.8,207.5l0.5,1.4M344.6,185.8l0.8,2.4M505.2,185.2l0.8,2.3M237.9,177.8l0.4,1.3M235.6,154.6l1,2.9M29.9,135.9l0.6,1.8M22.4,143.8l0.8,2.4M475.3,187.7l0.9,2.6M346.9,184.3l0.9,2.7M235.8,186.6l0.5,1.3M53.5,169.6l0.8,2.4M341.6,170.3l0.7,2.1M314.4,165.7l0.5,1.5M248.6,186.1l0.4,1.3M459.4,196.7l0.6,1.8M159.7,266.3l0.6,1.8M162.1,263.3l0.6,1.8M372.8,156.9l0.7,2M82.3,134.7l0.6,1.8M492.7,160.8l0.7,2M505,186.7l0.5,1.4M328.2,154.6l1,2.8M203.6,196.6l0.5,1.4M242.4,188.6l0.5,1.3M420.8,178.9l0.9,2.7M331.7,178.7l1,2.7M280.9,155.3l0.5,1.5M96.1,150.2l0.7,2.1M239.6,195.3l0.5,1.3M52.3,171.4l0.4,1.2M456.9,181.7l0.4,1.3M60.9,127.1l0.8,2.2M157,273.7l1,2.8M70.1,124.9l0.5,1.4M430,150.4l0.8,2.3M338.1,166.3l0.5,1.4M264.4,170l0.5,1.5M54.5,127.2l0.6,1.8M302.4,186l0.8,2.2M511.3,175.8l0.7,2.1M86,126.7l0.4,1.3M261.1,172.7l0.8,2.2M47.6,134.9l0.8,2.3M273.7,163.9l0.6,1.8M134.4,306.7l1,2.8M65.8,158.9l1,2.7M73.6,162.3l0.9,2.7M130.2,255.6l1,3M375.2,165.4l0.9,2.7M219.9,207.7l1,3M192.6,220l1,2.9M173.7,216.8l0.7,2.1M485.4,183.4l0.7,2M106.1,125.7l0.9,2.5M70.6,153.6l1,2.7M195.5,207.7l0.4,1.2M504.2,174.2l0.6,1.6M462.8,175.5l0.8,2.3M99.7,170.5l0.6,1.6M144.6,308.2l0.6,1.7M227.5,191.2l0.5,1.4M64.8,124.9l0.9,2.6M323.1,164.6l0.5,1.5M175.6,245.1l0.9,2.6M35.8,135.4l0.7,2.1M459.9,150.4l1,2.8M171,232.4l0.5,1.4M74.4,170.7l0.7,1.9M504.2,196.6l0.9,2.7M269.9,176l0.6,1.7M271.3,168.4l0.6,1.7M217.4,169l0.5,1.3M338.3,183.7l0.8,2.2M171.4,209.5l0.7,2M260.2,174.4l1,2.8M139.5,302.4l0.8,2.4M141.8,307.8l0.6,1.6M424.6,159.7l0.9,2.5M394.2,194.2l0.5,1.4M399.1,190.9l1,2.9M411.8,175.1l1,2.9M505,161.3l0.6,1.8M70.3,139.5l0.8,2.4M248.5,171.8l0.8,2.2M421.5,195.4l0.6,1.7M359.5,188.6l0.7,1.9M262.6,195.5l0.7,2.1M132.7,259.4l0.8,2.2M58.9,142.1l0.5,1.5M156.6,270.8l0.9,2.5M462.3,169.2l0.7,2M266.5,197.8l1,2.8M391.6,191.8l0.7,2M195.2,182.3l0.5,1.3M383.1,164.8l0.6,1.7M130.6,277.7l0.5,1.3M291.6,160.5l0.9,2.7M87.4,141.4l0.5,1.4M246.4,160.6l1,3M267,162.4l0.8,2.2M490.7,188.6l0.5,1.3M504.5,201.6l1,2.7M87.8,146l0.6,1.7M199.2,185.3l1,2.8M453.1,166l1,2.8M47.4,170.6l0.5,1.5M34.6,159.3l0.9,2.4M400.6,166.6l0.9,2.7M257.7,189.4l0.6,1.7M333.3,152.6l0.8,2.3M512.9,201.7l0.7,1.9M72.8,171.3l0.5,1.3M247.5,192.5l1,2.9M262.4,184.4l1,2.7M398,166.3l0.5,1.3M508.1,176.2l0.8,2.2M27.1,132.7l0.6,1.8M453.1,168.5l0.9,2.7M452.6,153.6l0.7,2.1M180.2,226.6l0.5,1.5M32.5,159.8l0.6,1.7M171.8,237.8l0.8,2.2M44.5,160.3l0.7,2.1M35.3,167.9l0.4,1.3M427.6,158.3l0.7,1.9M210.4,161.4l0.5,1.5M228.7,181.1l0.7,2M443.1,186.3l0.7,2M519.7,200.8l0.6,1.7M56.3,170.8l1,2.9M274.1,158.2l0.5,1.5M168.9,212.6l0.8,2.4M502.5,158.6l0.9,2.7M468.1,184.3l0.9,2.6M47.5,160.3l1,2.7M338.7,172.9l0.7,1.9M217.8,177.6l0.9,2.7M242.4,187.3l0.4,1.3M158.2,255.9l0.7,2M55.6,169.9l0.7,1.9M210.2,168.3l0.6,1.8M294.6,191.6l1,2.9M145.7,250.8l0.7,1.9M124.3,276.4l1,2.8M501.1,158.4l0.9,2.7M401.6,162.1l0.5,1.4M227.9,170.9l0.6,1.6M328.6,183l1,2.8M490,152.7l0.7,2.1M476.7,193.7l0.8,2.4M476.3,199.6l1,2.9M37.6,170l0.6,1.7M497.2,159.7l0.9,2.5M374.6,189.3l0.9,2.7M103.4,165.5l1,2.7M202,203.8l0.7,2.1M79.7,155.9l0.6,1.6M158.7,272.6l0.4,1.2M483.5,182.4l1,2.8M420.7,159.5l1,2.8M446.9,188.9l0.8,2.2M56.6,151.8l0.9,2.5M485.4,194.7l0.5,1.3M346.6,155.7l0.7,2M194.9,187.5l0.4,1.3M341.7,196l0.7,1.9M437.6,154.8l0.9,2.5M472.7,153.4l0.4,1.2M53.4,129.3l0.5,1.5M79.1,157.3l0.8,2.4M75.6,160.2l0.6,1.8M60.5,170.4l0.9,2.5M43,163l0.9,2.5M489.8,151.5l0.6,1.8M236.3,201l0.6,1.6M342.9,183.1l1,3M111.5,168.1l0.5,1.4M61.7,141.7l1,2.8M377.4,157.7l1,2.9M378.9,174.3l0.6,1.7M35.4,168.5l0.5,1.3M61.5,125l0.9,2.5M192.2,174.2l0.8,2.3M226.8,152.8l0.9,2.6M327.7,159.4l0.9,2.5M215.8,182.1l0.8,2.4M88.6,139.2l1,2.9M378,161.7l0.6,1.8M447,156.6l0.8,2.2M333.6,169l0.9,2.5M206.3,183.3l0.8,2.2M335.5,192.4l0.9,2.7M49.1,142l0.6,1.8M416.9,166.8l1,2.9M34,129.1l0.6,1.7M502.2,198.5l0.8,2.2M131.9,294.7l0.4,1.2M44.1,148.4l0.5,1.4M297.5,200.1l0.8,2.2M252.3,189.7l0.9,2.5M334.7,167.4l0.5,1.3M474.2,173l0.9,2.6M220,201.5l0.6,1.8M289.8,159l0.5,1.3M33.8,165.8l0.8,2.3M354.1,181.2l0.8,2.4M138.2,247.5l0.7,2M71.6,151.3l0.4,1.3M362.5,186.9l0.5,1.3M509.3,167l0.7,2M57.3,140.4l0.6,1.8M358.9,196.8l0.9,2.7M521.6,173.7l1,3M229.2,189.3l0.7,1.9M387.5,165.2l0.7,2M147.9,277.3l0.6,1.7M468.3,154l0.7,2M80.8,145.5l1,2.9M195.3,192.4l0.8,2.3M429.6,161.4l0.4,1.3M90.4,148.5l0.5,1.5M89.3,171.7l0.9,2.7M204.3,180.1l0.9,2.6M470.3,200.7l0.6,1.7M487.2,184.2l1,2.8M406.9,188.8l0.8,2.3M261.9,188.3l1,2.8M502.8,195.1l1,2.9M121.5,212.7l1,2.9M208.1,164l0.9,2.6M117.6,130l0.9,2.6M362.3,152.8l1,2.7M425.3,189l0.6,1.6M495.5,158.6l1,3M158.8,233.7l1,2.8M162.4,228.9l1,2.9M350.9,176l1,2.9M318.5,199.4l1,2.9M391.5,154.1l0.8,2.2M153.2,255l0.5,1.3M358.8,170.6l0.5,1.6M37.5,131.3l0.5,1.5M508.3,163.3l0.8,2.3M230.8,199.6l1,2.9M297.2,165.6l0.5,1.5M389.5,197.5l0.5,1.6M101.9,140.8l0.6,1.7M292.7,192.3l0.5,1.3M439.8,169.9l0.7,1.9M173.6,241l0.6,1.6M496.4,169.7l0.6,1.8M279.5,199.3l0.7,2M193.3,218.4l0.6,1.6M363.7,158.7l0.6,1.6M470.7,162.6l0.6,1.6M491.4,176.3l0.7,2M450.7,191.5l0.8,2.2M335.3,179.5l0.7,2M243.5,175.7l0.8,2.3M332.3,169.7l0.5,1.4M416.7,179.4l0.7,1.9M370.6,183.5l1,2.8M336,198.5l0.6,1.8M400.2,185.8l1,2.9M215.5,200.3l0.7,1.9M195.5,170.7l0.7,1.9M173.5,241.5l0.8,2.2M232.8,190.6l0.9,2.5M259.1,169.2l0.5,1.5M469.2,158.8l0.9,2.6M69.5,156.6l0.8,2.4M148.8,282.4l0.6,1.8M398.4,165l0.8,2.4M56.2,157.1l0.7,1.9M301.3,172.1l0.6,1.7M44.6,172.1l1,2.8M346,185.8l0.9,2.7M306.2,190.4l0.8,2.4M39.8,135.2l0.9,2.5M505.8,159.9l0.6,1.8M130.8,247.1l0.9,2.5M305.4,153.8l0.5,1.3M180.5,203.4l0.9,2.5M432.7,150l1,2.8M316.9,195.2l0.5,1.3M484.5,189.6l0.6,1.6M219.8,173l0.7,2M136.7,285.7l0.7,1.9M258.2,157.2l0.8,2.2M160.4,220.8l1,2.8M373.7,159.4l0.8,2.3M406.5,185.7l0.7,2.1M285.3,192.5l0.8,2.2M204.5,194.5l0.5,1.4M438.9,165.7l0.5,1.4M361.1,157.1l0.5,1.4M505.6,154l0.7,1.9M314.9,172.3l0.8,2.4M416,158.9l1,2.8M517.7,184.8l0.7,2M240.2,193.2l0.5,1.5M28.6,140l1,3M161.2,232.4l0.8,2.2M288.5,176.5l0.9,2.5M466.4,198l1,2.8M321,174.6l0.5,1.4M446.5,179.3l0.6,1.7M223.1,155.9l0.5,1.5M272.8,160.9l0.6,1.6M199.9,164.3l0.9,2.5M335.6,200.6l0.5,1.3M97.4,153.6l1,2.8M230,189.7l0.5,1.3M148.4,256.1l0.9,2.5M357.5,153.6l0.9,2.6M296.5,162.3l0.7,2.1M237.2,174.7l0.6,1.7M263.2,168.1l0.6,1.7M155,263.8l0.7,2.1M496.5,169.5l0.6,1.7M77.9,167.1l0.8,2.2M192.3,199.4l0.6,1.8M324,157l0.6,1.6M104.1,157.4l1,2.8M103.6,148.9l1,2.9M279.4,151.9l0.5,1.5M457.9,169.1l0.7,1.9M214.8,200.1l0.9,2.6M309.1,174.1l0.4,1.3M462.2,151.2l1,2.9M155.2,251.3l0.8,2.2M449.2,167.7l0.7,1.9M42.2,127.1l1,2.9M374.7,167.8l0.9,2.7M480.5,193.5l0.5,1.5M77.1,146.6l0.6,1.8M485.8,179.6l0.9,2.6M481.9,196l0.4,1.2M255.7,195.6l0.9,2.6M125.7,263.9l0.7,2M201.8,185.2l0.6,1.6M444,175l1,3M390.8,153.1l0.5,1.5M54.9,162.3l0.5,1.6M257.3,197.3l0.9,2.6M62.6,155.2l0.9,2.6M330.7,184.3l0.9,2.5M86.1,135.8l0.5,1.4M267.4,185.3l0.6,1.8M108.9,133.5l0.6,1.7M335.4,163.4l0.8,2.3M358.7,179.5l0.5,1.5M22.8,162.6l1,2.9M426.2,178.8l0.8,2.2M225.5,158l0.5,1.5M402.8,171.7l0.6,1.7M408.6,187.4l0.7,2M107.1,139.2l0.6,1.8M110.1,167.3l0.7,2.1M333.5,165.8l0.9,2.5M291,196.9l0.8,2.2M66.8,169.9l0.7,2M372.2,184.5l0.7,2M100.5,166.9l0.9,2.6M121.8,207.1l0.4,1.2M360.6,198.3l0.6,1.7M480.8,187.7l0.8,2.3M286.1,159.4l0.8,2.3M81.1,152l0.8,2.4M410.1,189.2l0.8,2.3M289.3,177.6l0.9,2.6M511.5,187.1l0.8,2.3M264.9,183l0.7,1.9M427.1,154l0.6,1.6M170.3,252.2l0.9,2.7M176.9,234.2l0.7,2M45.8,133.2l0.4,1.3M60.4,148.8l0.7,2M172,201.6l0.7,2.1M486.1,196l0.8,2.3M488.2,153l1,2.9M24.2,126.8l0.8,2.2M358.4,183.2l0.7,2M479,197.5l0.6,1.6M206.9,206.2l0.5,1.5M181.9,187.2l0.8,2.2M337.4,195.2l0.9,2.5M54.3,168.1l0.5,1.6M336.1,150.1l0.8,2.4M185.8,186.7l0.7,1.9M451.4,165.4l0.9,2.6M437.1,156.3l1,2.7M323.7,194l0.5,1.5M91.2,136.7l0.6,1.7M252,156.1l0.6,1.8M198.6,202.6l0.8,2.2M38.3,151l0.5,1.6M199.6,211.5l0.6,1.8M142.2,295.6l0.4,1.3M212.9,205.3l0.6,1.6M89.5,148.9l0.8,2.3M181.4,210.4l0.9,2.4M207.5,213.9l0.8,2.3M447.4,161.7l0.4,1.3M475.2,162.4l0.6,1.6M78.7,124.8l0.5,1.3M75.7,140.4l0.9,2.6M237.5,194.8l0.6,1.6M111.8,171.1l0.8,2.4M24.4,124.5l0.7,2M293.5,178.1l0.8,2.3M507.8,188.7l0.8,2.2M270.9,196.8l0.6,1.8M192.6,222.9l0.9,2.6M330.6,177.1l0.8,2.3M324.5,189.2l0.6,1.8M242.6,178.4l0.6,1.6M152.4,230l1,2.8M33.6,137.3l0.5,1.4M379.8,182.7l0.8,2.4M329.4,162.3l0.7,2M227.1,161.4l0.8,2.2M262.3,170.2l0.7,2M144.8,300.1l0.9,2.6M39.6,141.3l0.9,2.4M310,151l0.6,1.7M306.9,171.2l1,2.9M92.1,135.6l0.5,1.5M279.1,168.3l0.5,1.6M397.2,154.2l1,2.9M180,223.6l0.6,1.7M227.2,171.1l0.5,1.5M278.3,172.5l0.8,2.4M265.3,168.6l0.8,2.4M498.1,168.8l1,2.8M27.3,126.5l0.5,1.5M224.5,160.4l0.6,1.8M202.7,179.1l0.5,1.3M23.7,156.7l0.8,2.4M348.2,195l0.9,2.5M441,165.2l0.8,2.2M422.2,158.3l0.9,2.5M162.2,275.5l1,2.7M491.7,182.5l0.5,1.4M201.4,217l0.5,1.4M235.8,157.3l1,2.8M291.6,183.8l1,2.8M364.3,186.6l0.9,2.5M445.7,162.8l1,2.9M120.3,211.1l0.9,2.7M117.7,177.3l0.5,1.5M158.6,251.9l0.6,1.7M231.3,202.2l1,3M117.5,163.7l0.9,2.5M481.4,199.5l1,2.8M386.8,158.1l0.6,1.7M511.2,186.9l0.5,1.4M450.8,159.1l0.9,2.6M243.3,163.2l0.5,1.3M113.7,139.5l0.6,1.8M93.6,156.3l0.6,1.8M114.6,141.4l0.9,2.5M315.4,190.1l0.6,1.6M329.9,176.3l0.9,2.4M220.4,206.2l1,2.8M135.9,245.9l0.8,2.2M346.2,200.2l0.9,2.6M351.3,199.6l0.8,2.4M143.9,314.4l0.6,1.8M146.1,302.7l1,2.8M452.1,160.9l0.7,2M30.2,157.3l0.6,1.7M362.8,152.9l0.7,2M77,140.6l0.7,2M431.6,155.6l0.5,1.4M81.7,167.9l0.8,2.4M178.1,188l0.5,1.5M476.1,187.6l0.7,1.9M443.5,191.5l1,2.9M97.8,130l1,2.9M512.2,164.4l0.6,1.6M509.4,158.4l0.7,2.1M455.5,176.8l0.7,1.9M386,166.2l0.8,2.2M412.9,181.3l0.6,1.6M454.7,161.7l0.8,2.3M497.9,199.6l0.5,1.5M47.1,172l0.9,2.5M477.8,174.9l1,2.8M77.4,146.8l0.8,2.2M469.9,158.4l0.5,1.5M86.4,160.7l0.8,2.2M480,175.1l0.5,1.3M304.3,190.2l0.8,2.2M58.7,139l1,2.8M519,163.7l0.6,1.6M315.1,158.2l0.7,2M412.1,164.3l0.7,1.9M439,192.6l0.6,1.6M442.2,151.3l0.5,1.5M416.9,191.2l0.9,2.6M334.6,175l1,2.8M83.4,158.2l0.5,1.5M351.6,178.5l0.5,1.5M110.1,163.3l1,2.9M287.7,160.3l0.5,1.3M212.2,207.6l0.9,2.6M70.8,165.2l0.6,1.6M510.2,150.6l0.5,1.3M468.5,186l0.9,2.6M470.5,172.2l0.9,2.6M379.4,196.9l0.7,2.1M489.6,171l0.6,1.7M503.2,150.7l0.4,1.3M401.9,174.8l1,2.7M223,166.6l0.9,2.4M470.6,159.6l0.9,2.7M289.8,190.2l0.7,2M197,181.1l1,2.8M231.3,191.3l0.4,1.3M374.1,180.8l0.9,2.5M100.9,164.4l1,2.8M385.5,183.5l0.9,2.6M153.3,281.2l1,2.8M84.7,127.2l0.9,2.7M159.4,278l0.6,1.7M451.7,152.1l1,3M403.8,178.6l0.6,1.7M260.2,198.2l0.9,2.7M419.8,159.7l0.4,1.3M520.1,177.3l0.7,2M275.4,179l0.5,1.5M315,181.9l0.8,2.2M24,159.7l1,2.9M467.1,171l0.9,2.5M340,184.7l0.9,2.4M455.3,165.8l0.8,2.2M291.2,156.4l0.4,1.3M364.8,150.7l0.9,2.6M303.5,168.7l0.9,2.5M512.6,188.6l0.8,2.2M431.7,200.6l0.9,2.7M283.7,164.3l0.8,2.3M340.9,160.3l0.8,2.4M61.2,129.2l0.8,2.3M117,136.7l0.8,2.3M337.7,166.9l0.8,2.3M52.7,153.9l0.9,2.6M327.7,159.8l1,3M184.7,207.3l0.6,1.8M306.4,184.8l0.7,1.9M176.3,191.4l0.5,1.4M481.1,179l0.6,1.6M363.7,161.3l0.7,2.1M237.8,167.8l0.6,1.6M113.1,133.9l0.8,2.4M433.9,162.2l0.5,1.5M207.3,164.2l0.4,1.2M160.8,269l0.8,2.3M51.3,134.8l1,2.9M444,193.3l0.8,2.2M442.5,182.4l0.8,2.4M521.9,172.3l0.8,2.3M98.6,138.6l0.5,1.4M390.2,183.3l1,3M239.7,164.8l0.8,2.2M184,194l0.5,1.5M223.2,171.3l0.9,2.6M27.7,143l0.9,2.6M425.5,183.1l0.5,1.5M392.4,152.9l0.4,1.2M261.3,176.9l1,2.8M343.7,153.7l1,2.9M390.2,153.3l0.7,2.1M177.8,231.3l0.8,2.4M325.5,197.9l0.9,2.6M479.1,174.2l1,2.8M86.1,133.6l1,2.7M506.8,175.7l0.9,2.6M198.9,188.6l0.8,2.4" fill="none" stroke="#0000DA" stroke-width="1.1" stroke-opacity="0.55"/>
<path d="M20.4,160.2 20.9,161.5 21.4,162.8M26.1,156.4 26.5,157.5 27,158.6 27.4,159.7M20.2,139.9 21.1,142 21.9,144.1 22.8,146.2M24.1,131.9 24.7,133.2 25.2,134.5 25.7,135.9M27.1,137.5 28,139.7 28.8,141.8 29.7,144M26.9,138.8 27.7,140.8 28.5,142.8 29.4,144.8M28.8,142.2 29.6,144.1 30.4,146.1 31.2,148.1M33.8,138.5 34.1,139.4 34.5,140.2 34.8,141M38.7,149.1 39.1,150.2 39.6,151.3 40,152.4M36,141.3 36.5,142.7 37.1,144.1 37.6,145.5M37.5,145.5 38.2,147 38.8,148.6 39.4,150.2M47.8,154.9 48.7,157 49.5,159.1 50.3,161.2M51.4,162.8 52.3,164.8 53.1,166.8 53.9,168.8M42.9,143.2 43.2,144 43.6,144.9 43.9,145.8M51.8,163.2 52.2,164.3 52.6,165.4 53.1,166.4M45.6,130.1 46,131.1 46.4,132.2 46.9,133.3M57,159.1 57.6,160.7 58.3,162.4 58.9,164M57.6,161.5 58,162.6 58.4,163.6 58.9,164.6M48,137.5 48.5,138.9 49.1,140.3 49.6,141.6M66.6,163.9 67.3,165.6 68,167.2 68.6,168.9M59.9,149.2 60.3,150.1 60.7,151.1 61,152M52.2,128.2 53.1,130.3 53.9,132.3 54.7,134.4M66.3,163.2 66.6,164 66.9,164.7 67.2,165.5M70.7,154.9 71.5,156.9 72.3,158.9 73.2,161M70.4,153.6 71.2,155.5 71.9,157.4 72.7,159.3M65.1,140.6 65.8,142.3 66.5,144 67.2,145.7M72.8,159.8 73.3,161.2 73.8,162.5 74.4,163.8M76.9,150.1 77.2,150.9 77.6,151.8 77.9,152.6M82.7,164.4 83.5,166.4 84.4,168.4 85.2,170.4M73.5,141.9 74.2,143.7 75,145.5 75.7,147.3M73.7,143.9 74.5,145.8 75.3,147.8 76,149.7M83.6,146 84.2,147.6 84.9,149.2 85.6,150.8M79.2,137 79.5,137.8 79.8,138.5 80.1,139.3M85.4,152.7 85.8,153.7 86.2,154.7 86.6,155.7M89.1,161.1 89.8,162.8 90.5,164.5 91.2,166.2M97.4,161.4 98.2,163.4 99.1,165.4 99.9,167.4M92.2,149.1 92.7,150.3 93.1,151.5 93.6,152.7M91.7,145.9 92.5,147.9 93.3,149.8 94.1,151.8M94.3,153.9 95.1,156 96,158.1 96.8,160.2M98.9,145.8 99.4,147 99.9,148.2 100.4,149.4M105.3,163.9 105.9,165.3 106.4,166.7 107,168.1M91.1,128.7 91.9,130.7 92.7,132.7 93.5,134.7M101.5,153.8 102.1,155.4 102.8,156.9 103.4,158.5M111.2,158.3 111.7,159.4 112.1,160.4 112.5,161.5M99.9,129.3 100.5,130.9 101.2,132.6 101.9,134.2M109,150.9 109.7,152.6 110.4,154.2 111.1,155.9M113.2,163.1 113.9,164.8 114.6,166.5 115.3,168.2M111.2,137.6 111.7,138.9 112.2,140.1 112.7,141.3M115,146.8 115.7,148.4 116.3,150.1 117,151.7M113.3,142.1 114,144 114.8,145.9 115.6,147.8M108.5,130.8 109.3,132.9 110.2,134.9 111,137M127.8,291.2 128.5,294.3 129.3,296.9 130.1,299.6M120.7,202.6 121.3,225.3 122,240.4 122.7,257.5M125.1,281.1 125.8,284.2 126.6,287.3 127.4,290.6M125.3,281.2 125.7,282.8 126.1,284.5 126.6,286.2M134.8,292.2 135.3,294.1 135.8,296 136.3,297.9M129.4,271.7 130,273.5 130.6,275.4 131.2,277.3M130.1,273.7 130.4,274.7 130.7,275.6 131.1,276.6M123,245.6 123.8,255 124.6,257.4 125.3,259.9M143,292 143.7,294.8 144.4,297.7 145.1,300.6M136.8,273 137.7,275.9 138.5,278.9 139.4,282M133,259.9 133.6,261.7 134.2,263.6 134.8,265.5M140.9,285.6 141.5,288.1 142.2,290.7 142.9,293.4M141.8,254.7 142.6,257.3 143.4,260 144.2,262.8M145.6,271.9 146.2,274.3 146.9,276.7 147.5,278.8M146.3,272.3 146.8,274.6 147.4,276.5 148,278.2M138.5,246.6 139.4,249.3 140.3,252 141.1,254.7M154.3,260.9 154.8,262.1 155.4,263.3 155.9,264.3M159.5,272.2 159.9,272.8 160.4,273.3 160.8,273.9M148,244.4 148.5,246.1 149,247.7 149.6,249.4M158.9,272.2 159.5,273 160.1,273.7 160.6,274.4M156.1,237.4 156.5,238.4 156.9,239.4 157.4,240.3M157.9,241.8 158.4,242.8 158.9,243.8 159.4,244.7M154.1,234.9 154.8,236.8 155.5,238.6 156.2,240.4M160.2,248 160.7,248.7 161.1,249.4 161.5,250.1M163.2,224.2 163.6,224.9 164.1,225.7 164.5,226.4M170.7,233.4 171.3,233.8 171.9,234.2 172.5,234.5M169.5,234.6 170.3,235.3 171.1,235.9 171.9,236.4M172.2,234.2 173,234.6 173.8,235 174.6,235.4M170.4,211.6 170.8,212 171.3,212.4 171.7,212.8M172.4,213.1 172.8,213.4 173.1,213.7 173.5,213.9M174,216.7 174.7,217.2 175.5,217.7 176.3,218.1M173.6,216.8 174.3,217.3 175,217.8 175.7,218.2M187,208.4 187.6,209.5 188.1,210.6 188.7,211.7M177.8,199.5 178.1,199.8 178.4,200 178.8,200.3M176,196.7 176.6,197.3 177.2,197.8 177.8,198.3M183.5,205 183.9,205.4 184.3,205.8 184.7,206.3M183.6,184.8 184.4,185.6 185.3,186.6 186.1,187.7M194.1,201.9 194.6,203.1 195.1,204.3 195.5,205.6M190.5,193.9 191.1,194.9 191.6,195.9 192.2,197M183.3,183.3 184,184 184.7,184.7 185.4,185.5M198.1,188.4 198.4,189.2 198.7,190 199,190.8M202.4,199.3 203.1,201 203.8,202.8 204.5,204.5M199.5,193.1 200,194.4 200.5,195.8 201.1,197.1M197.9,188.1 198.7,190.4 199.6,192.6 200.5,194.8M211,199.3 211.8,201.1 212.6,203 213.4,204.8M208.7,194.9 209.4,196.7 210.2,198.4 210.9,200.1M207.9,193.4 208.3,194.2 208.6,194.9 208.9,195.7M204.1,184.1 204.4,184.8 204.7,185.6 205,186.3M215.1,187.5 215.7,189 216.4,190.4 217,191.9M211.2,178 212.1,180.1 213,182.2 213.8,184.2M216.3,188.7 217,190.4 217.8,192.2 218.5,193.9M205.8,164.2 206.5,165.9 207.1,167.6 207.8,169.2M216.4,170.1 217.2,172 218,173.9 218.8,175.9M220.2,179 221.1,181 222,182.9 222.8,185M227.8,196.5 228.5,198.3 229.2,200 229.8,201.7M214,163.9 214.7,165.4 215.3,166.9 215.9,168.4M229.3,180.1 229.6,181 230,181.8 230.3,182.7M226,173.1 226.6,174.5 227.2,176 227.8,177.5M225.3,171.1 225.7,172.2 226.2,173.3 226.7,174.4M228.3,178.2 228.7,179.4 229.2,180.6 229.7,181.8M233.2,170.1 234,172.3 234.8,174.4 235.6,176.6M228.3,156.9 229.2,159.1 230.1,161.4 230.9,163.7M228.1,157.9 228.9,160 229.7,162.2 230.5,164.4M233.9,173.7 234.7,175.9 235.6,178.2 236.5,180.5M244,178.1 244.3,179.1 244.7,180.1 245,181M241.1,172.2 241.5,173.3 241.9,174.4 242.3,175.5M242.6,175.1 243,176.1 243.3,177.1 243.7,178.1M244.5,180.7 245,182.2 245.6,183.7 246.2,185.3M253.1,183.1 253.5,184.2 254,185.4 254.4,186.6M256.1,189.4 256.8,191.4 257.6,193.4 258.4,195.4M248.2,167.9 248.6,169.1 249.1,170.4 249.5,171.6M251.2,176.2 251.8,177.9 252.5,179.7 253.1,181.4M263.3,188.6 263.6,189.4 263.9,190.3 264.2,191.1M254.8,164.2 255.4,165.7 255.9,167.1 256.5,168.6M251.7,157.4 252.3,159 252.9,160.7 253.5,162.3M252,156.7 252.7,158.6 253.4,160.5 254.1,162.3M269.2,183 269.9,185.1 270.7,187.2 271.5,189.3M260.5,158 261.2,160.1 262,162.1 262.8,164.2M269.9,183.9 270.4,185.1 270.8,186.2 271.2,187.3M262.2,163.6 263,165.6 263.8,167.7 264.5,169.7M272.4,170.2 272.9,171.6 273.4,173 273.9,174.3M279,188.1 279.4,189 279.7,189.9 280.1,190.8M275.1,175.7 275.7,177.2 276.3,178.8 276.8,180.3M270.4,165.1 271.2,167.1 271.9,169.1 272.6,171.1M277.8,164.4 278.2,165.4 278.6,166.4 278.9,167.4M284.1,182.1 284.6,183.4 285.2,184.8 285.7,186.1M284.9,181.4 285.5,183.1 286.1,184.7 286.7,186.4M287.7,190.6 288.6,192.8 289.4,195 290.2,197.2M295.1,188.7 295.5,189.9 296,191 296.4,192.2M287.2,167.7 287.7,169 288.2,170.4 288.7,171.7M287.7,168.6 288.1,169.6 288.6,170.7 289,171.8M294.2,184.8 294.8,186.4 295.4,188.1 296,189.7M297.4,173.6 298.1,175.2 298.7,176.8 299.3,178.5M304.5,191.5 305.1,193.3 305.8,195.1 306.5,196.9M291,155.6 291.6,157.3 292.2,158.9 292.8,160.6M291.2,156.4 291.5,157.4 291.9,158.3 292.2,159.2M301.9,162.8 302.3,164 302.7,165.1 303.2,166.2M305.6,173.8 306.3,175.8 307.1,177.8 307.8,179.7M303.2,166.5 304,168.8 304.9,171.1 305.8,173.4M305.6,172.7 306.2,174.3 306.8,175.9 307.4,177.6M318.4,185.1 319.2,187.2 320,189.3 320.8,191.4M320.3,191.2 320.9,192.9 321.6,194.7 322.3,196.5M316.4,181.3 317.2,183.3 318,185.4 318.7,187.4M312.5,169.8 312.9,170.8 313.2,171.8 313.6,172.8M328.6,191.6 328.9,192.5 329.2,193.4 329.6,194.3M316.3,157.7 317,159.5 317.7,161.3 318.4,163M316.9,160.2 317.3,161.1 317.6,162 317.9,162.9M322.5,176.3 323.3,178.5 324.1,180.7 325,182.9M330,176.8 330.4,177.9 330.8,179 331.2,180.1M326,164.3 326.3,165.3 326.7,166.4 327.1,167.4M326.5,165.5 327.1,167.1 327.7,168.8 328.3,170.4M329.1,172.2 329.5,173.4 330,174.5 330.4,175.7M330.8,155.1 331.7,157.4 332.5,159.6 333.4,161.9M335.5,168.4 336.1,170 336.7,171.6 337.3,173.2M334,164 334.9,166.4 335.8,168.7 336.6,171M333.2,162.6 333.5,163.4 333.8,164.2 334.1,165M339.3,159.4 339.8,160.7 340.3,161.9 340.7,163.2M350.4,187.7 351,189.3 351.6,190.8 352.2,192.4M352.1,192.6 352.6,193.8 353,195 353.5,196.2M338.9,159.1 339.6,161.1 340.4,163.1 341.1,165.1M356.1,181.6 356.4,182.6 356.8,183.5 357.1,184.4M352.5,171.8 353.4,174 354.2,176.3 355.1,178.6M358.6,187.2 359,188.5 359.5,189.7 360,191M351.1,169.7 352,171.9 352.8,174.1 353.6,176.3M357.7,165.5 358.2,166.8 358.6,168.1 359.1,169.3M358.4,165.3 358.9,166.8 359.5,168.3 360.1,169.8M358.5,167.5 359.2,169.3 359.8,171.2 360.5,173M360,168.8 360.6,170.3 361.1,171.8 361.7,173.3M369.6,175.6 370.1,177.1 370.7,178.6 371.2,180.1M376.2,192.6 377,194.6 377.7,196.6 378.5,198.6M370.8,177.7 371.2,178.9 371.7,180.1 372.2,181.3M369.6,174.6 370.1,175.9 370.5,177.1 371,178.4M383.7,190.7 384.3,192.4 384.9,194 385.5,195.7M373.7,166.4 374.5,168.4 375.3,170.5 376.1,172.6M371.6,158.8 371.9,159.7 372.3,160.6 372.6,161.6M379.7,181.3 380.1,182.4 380.5,183.4 380.9,184.5M384,169.4 384.4,170.3 384.7,171.2 385,172M384,170.2 384.6,171.7 385.2,173.3 385.8,174.9M388.8,183.7 389.5,185.7 390.3,187.8 391.1,189.8M381.8,166.4 382.3,167.8 382.9,169.2 383.4,170.6M385.1,154 385.6,155.3 386.1,156.6 386.5,157.8M394.6,179.1 394.9,180 395.3,181 395.6,181.9M393,173.5 393.8,175.5 394.5,177.5 395.3,179.5M394.5,177.5 394.8,178.5 395.2,179.6 395.6,180.6M408.3,192.5 408.9,194 409.5,195.6 410.1,197.2M406.3,186.5 406.7,187.5 407.1,188.6 407.5,189.7M402.1,178.2 402.5,179.3 403,180.3 403.4,181.4M397.2,163 397.8,164.7 398.4,166.3 399,168M402.8,158.7 403.6,160.9 404.4,163.1 405.3,165.2M408.8,175.6 409.4,177.2 410.1,178.9 410.7,180.5M414.7,189.4 415.6,191.8 416.5,194.1 417.3,196.4M410.1,177.2 410.5,178.2 410.8,179.1 411.2,180.1M415.8,175.1 416.1,176 416.4,176.9 416.8,177.8M411.3,160.5 412.2,162.8 413.1,165.1 414,167.4M418.2,179.5 418.6,180.8 419.1,182 419.6,183.3M419.3,182.6 419.8,184 420.3,185.4 420.8,186.8M424.8,176 425.2,177.1 425.6,178.1 426,179.2M420,163.9 420.6,165.5 421.2,167.2 421.9,168.8M426.1,178.9 426.4,179.7 426.7,180.6 427,181.4M418.5,159.1 419.4,161.4 420.2,163.7 421.1,165.9M431.6,172.7 432.5,175.1 433.3,177.4 434.2,179.7M436.6,187.4 437.1,188.8 437.7,190.2 438.2,191.6M432.4,175.9 433.2,178.1 434.1,180.3 434.9,182.5M432.2,174.3 432.8,175.7 433.3,177.2 433.9,178.6M442.7,183.3 443.2,184.6 443.7,185.8 444.1,187.1M432.3,156.2 432.7,157.2 433.1,158.2 433.4,159.1M438.3,173.4 438.9,174.8 439.4,176.2 439.9,177.6M441.4,181.1 442,182.7 442.6,184.3 443.2,185.9M453.7,191.9 454.4,193.7 455,195.5 455.7,197.4M444.8,170.2 445.5,172.3 446.3,174.3 447,176.3M450.4,183.2 451.1,184.8 451.7,186.5 452.3,188.2M439.8,157.4 440.6,159.4 441.3,161.4 442.1,163.4M447.9,156 448.7,158.2 449.5,160.4 450.3,162.5M452.6,169.3 453.1,170.7 453.6,172 454.1,173.3M447.7,155.4 448,156.2 448.3,157 448.6,157.8M451.7,165.8 452.2,167.3 452.8,168.9 453.4,170.4M457.7,161.3 458.4,163.4 459.2,165.5 460,167.6M462.4,172.4 462.8,173.4 463.2,174.5 463.6,175.5M470,193.1 470.4,194.2 470.8,195.3 471.2,196.4M457.2,161.2 458,163.3 458.8,165.5 459.7,167.6M464.6,159 465.3,160.8 466,162.7 466.7,164.6M468.4,171.3 468.7,172.2 469.1,173.1 469.4,174M466.3,165.8 467,167.7 467.7,169.6 468.4,171.5M465,160.8 465.4,162 465.8,163.1 466.3,164.2M474.9,165.6 475.7,167.8 476.5,170.1 477.4,172.3M473.8,164.7 474.5,166.4 475.1,168.2 475.8,170M484.9,192.7 485.4,194.2 486,195.7 486.6,197.1M478.2,174.8 478.5,175.6 478.9,176.5 479.2,177.3M481.3,163.5 481.7,164.7 482.2,165.9 482.7,167.1M480.9,161.1 481.7,163.3 482.6,165.5 483.4,167.6M478.4,155 478.9,156.5 479.5,158 480.1,159.5M483.3,169 484.1,171.2 485,173.4 485.8,175.7M496.5,184.9 497.1,186.4 497.7,188 498.3,189.6M497.5,187.3 498.2,189.2 498.9,191 499.6,192.9M499.4,191.6 499.8,192.6 500.2,193.7 500.6,194.7M487,160.3 487.6,162 488.3,163.7 488.9,165.5M499.8,173.2 500.3,174.3 500.7,175.5 501.1,176.6M500,173.6 500.3,174.4 500.6,175.3 500.9,176.1M503.6,182.2 504.2,183.9 504.8,185.5 505.5,187.2M494.5,160.9 494.9,161.9 495.3,163 495.7,164M501.3,156.7 502.1,158.9 502.9,161.1 503.8,163.3M507.9,175.4 508.7,177.4 509.4,179.4 510.2,181.5M501.8,159.6 502.2,160.9 502.7,162.1 503.2,163.4M504.9,166.3 505.5,168.1 506.2,169.8 506.8,171.5M510.3,160.2 511,162.1 511.7,163.9 512.4,165.8M519.2,185.1 519.5,186 519.8,186.9 520.1,187.8M513.5,168.3 513.9,169.5 514.3,170.6 514.8,171.7M508.4,155.5 509,157.1 509.6,158.6 510.2,160.1M519.8,165.7 520.4,167.2 520.9,168.6 521.4,170.1M516.7,155.2 517.6,157.6 518.5,159.9 519.3,162.2" fill="none" stroke="#A0A0FF" stroke-width="1.2" stroke-opacity="0.8" stroke-linecap="round"/>
<path d="M20.2,170.1 22.4,175.5M21.2,153.7 23.4,159.2 25.6,164.6 27.8,170.1 30,175.5M20.7,131.9 22.9,137.3 25.1,142.8 27.3,148.2 29.5,153.7 31.7,159.2 33.9,164.6 36.1,170.1 38.3,175.5M24.1,121 26.3,126.5 28.5,131.9 30.7,137.3 32.9,142.8 35.1,148.2 37.3,153.7 39.5,159.2 41.7,164.6 43.9,170.1 46.1,175.5M31.2,121 33.4,126.5 35.6,131.9 37.8,137.3 40,142.8 42.2,148.2 44.4,153.7 46.6,159.2 48.8,164.6 51,170.1 53.2,175.5M38.5,121 40.7,126.5 42.9,131.9 45.1,137.3 47.3,142.8 49.5,148.2 51.7,153.7 53.9,159.2 56.1,164.6 58.3,170.1 60.5,175.5M45.8,121 48,126.5 50.2,131.9 52.4,137.3 54.6,142.8 56.8,148.2 59,153.7 61.2,159.2 63.4,164.6 65.6,170.1 67.8,175.5M53.1,121 55.3,126.5 57.5,131.9 59.7,137.3 61.9,142.8 64.1,148.2 66.3,153.7 68.5,159.2 70.7,164.6 72.9,170.1 75.1,175.5M60.8,121 63,126.5 65.2,131.9 67.4,137.3 69.6,142.8 71.8,148.2 74,153.7 76.2,159.2 78.4,164.6 80.6,170.1 82.8,175.5M69,121 71.2,126.5 73.4,131.9 75.6,137.3 77.8,142.8 80,148.2 82.2,153.7 84.4,159.2 86.6,164.6 88.8,170.1 91,175.5M77,121 79.2,126.5 81.4,131.9 83.6,137.3 85.8,142.8 88,148.2 90.2,153.7 92.4,159.2 94.6,164.6 96.8,170.1 99,175.5M85.3,121 87.5,126.5 89.7,131.9 91.9,137.3 94.1,142.8 96.3,148.2 98.5,153.7 100.7,159.2 102.9,164.6 105.1,170.1 107.3,175.5M92.5,121 94.7,126.5 96.9,131.9 99.1,137.3 101.3,142.8 103.5,148.2 105.7,153.7 107.9,159.2 110.1,164.6 112.3,170.1 114.5,175.5M100.6,121 102.8,126.5 105,131.9 107.2,137.3 109.4,142.8 111.6,148.2 113.8,153.7 116,159.2 118.2,177 120.4,227.6 122.6,286.2M108.3,121 110.5,126.5 112.7,131.9 114.9,137.3 117.1,143 119.3,174.7 121.5,238.5 123.7,284.2 125.9,294 128.1,303.7 130.3,312.2M115.5,121 117.7,127.1 119.9,166.6 122.1,226.4 124.3,267.4 126.5,275.5 128.7,284 130.9,291.3 133.1,299.1 135.3,307.6 137.5,316.6M123.8,243.1 126,249.6 128.2,256.9 130.4,263 132.6,269.6 134.8,276.8 137,284.5 139.2,292.7 141.4,301.4 143.6,310.7 145.8,320.6M131.3,241.2 133.5,247 135.7,253.3 137.9,260.1 140.1,267.5 142.3,275.3 144.5,283.6 146.7,292.5 148.9,299.3 151.1,304.7 153.3,308.9M139.5,234.5 141.7,240.8 143.9,247.6 146.1,255.1 148.3,262.3 150.5,268.6 152.7,273.9 154.9,278.8 157.1,282.3 159.3,285 161.5,287.1M147,226 149.2,232.8 151.4,239.2 153.6,245.2 155.8,250.6 158,255 160.2,258.6 162.4,261.5 164.6,263.8 166.8,265.5 169,266.6M154.3,217.5 156.5,223.7 158.7,229 160.9,233.5 163.1,237.3 165.3,240.5 167.5,243.1 169.7,245.1 171.9,246.3 174.1,247.1 176.3,247.5M162,208.4 164.2,213.1 166.4,217.1 168.6,220.4 170.8,223 173,224.6 175.2,225.9 177.4,226.8 179.6,228.1 181.8,230.5 184,233M169.5,199.1 171.7,201.9 173.9,204.1 176.1,205.9 178.3,207.4 180.5,209.4 182.7,211.8 184.9,214.4 187.1,218.4 189.3,223 191.5,228M176.8,186.6 179,188.7 181.2,190.9 183.4,193.2 185.6,195.8 187.8,199.1 190,203 192.2,207.4 194.4,212.6 196.6,218 198.8,223.2M184.1,174.5 186.3,176.7 188.5,179.4 190.7,182.6 192.9,186.4 195.1,191.9 197.3,197.5 199.5,203.1 201.7,208.4 203.9,213.6 206.1,218.7M191.3,161.8 193.5,165.6 195.7,171.4 197.9,177.3 200.1,183.1 202.3,188.7 204.5,194.2 206.7,199.5 208.9,204.6 211.1,209.7 213.3,214.6M198.7,157.2 200.9,163.3 203.1,169.2 205.3,174.8 207.5,180.3 209.7,185.7 211.9,190.9 214.1,196 216.3,201.1 218.5,206.1 220.7,211.1M206.6,155.5 208.8,161.2 211,166.7 213.2,172 215.4,177.2 217.6,182.3 219.8,187.4 222,192.4 224.2,197.8 226.4,203.3 228.6,208.9M213.9,153.4 216.1,158.6 218.3,163.8 220.5,168.9 222.7,174 224.9,179.2 227.1,184.6 229.3,190.3 231.5,195.9 233.7,201.5 235.9,207.2M221,150.5 223.2,155.6 225.4,160.7 227.6,166 229.8,171.7 232,177.4 234.2,183.1 236.4,188.9 238.6,194.8 240.8,200.7 243,206.6M228.4,147.4 230.6,153.1 232.8,158.9 235,164.6 237.2,170.6 239.4,176.5 241.6,182.5 243.8,188.4 246,194.3 248.2,200.1 250.4,206M236.1,146.3 238.3,152.3 240.5,158.3 242.7,164.2 244.9,170.2 247.1,176.1 249.3,182 251.5,187.9 253.7,193.9 255.9,199.7 258.1,205.6M243.9,146 246.1,152 248.3,158 250.5,164 252.7,170 254.9,175.9 257.1,181.8 259.3,187.7 261.5,193.5 263.7,199.4 265.9,205.2M252,146 254.2,152 256.4,157.9 258.6,163.9 260.8,169.8 263,175.7 265.2,181.6 267.4,187.4 269.6,193.2 271.8,199.1 274,204.9M259.9,146 262.1,152 264.3,157.9 266.5,163.8 268.7,169.6 270.9,175.5 273.1,181.4 275.3,187.3 277.5,193.1 279.7,199 281.9,204.8M267.8,146 270,151.9 272.2,157.8 274.4,163.7 276.6,169.6 278.8,175.5 281,181.3 283.2,187.2 285.4,193 287.6,198.8 289.8,204.7M275.1,146 277.3,151.9 279.5,157.8 281.7,163.7 283.9,169.5 286.1,175.4 288.3,181.2 290.5,187.1 292.7,192.9 294.9,198.7 297.1,204.5M283.2,146.1 285.4,151.9 287.6,157.8 289.8,163.6 292,169.5 294.2,175.3 296.4,181.2 298.6,187 300.8,192.8 303,198.7 305.2,204.5M291,146.1 293.2,151.9 295.4,157.8 297.6,163.6 299.8,169.4 302,175.3 304.2,181.1 306.4,187 308.6,192.8 310.8,198.7 313,204.5M299.3,146.1 301.5,151.9 303.7,157.8 305.9,163.6 308.1,169.5 310.3,175.3 312.5,181.1 314.7,187 316.9,192.8 319.1,198.7 321.3,204.5M307.3,146.1 309.5,151.9 311.7,157.8 313.9,163.6 316.1,169.5 318.3,175.3 320.5,181.2 322.7,187 324.9,192.8 327.1,198.7 329.3,204.5M315.6,146.1 317.8,151.9 320,157.8 322.2,163.6 324.4,169.5 326.6,175.3 328.8,181.2 331,187 333.2,192.9 335.4,198.7 337.6,204.5M322.8,146.1 325,152 327.2,157.8 329.4,163.6 331.6,169.5 333.8,175.3 336,181.2 338.2,187 340.4,192.9 342.6,198.7 344.8,204.5M331.1,146.1 333.3,152 335.5,157.8 337.7,163.7 339.9,169.5 342.1,175.3 344.3,181.2 346.5,187 348.7,192.9 350.9,198.7 353.1,204.6M338.6,146.1 340.8,152 343,157.8 345.2,163.7 347.4,169.5 349.6,175.4 351.8,181.2 354,187 356.2,192.9 358.4,198.7 360.6,204.6M346.8,146.2 349,152 351.2,157.8 353.4,163.7 355.6,169.5 357.8,175.4 360,181.2 362.2,187 364.4,192.9 366.6,198.7 368.8,204.6M354.9,146.2 357.1,152 359.3,157.8 361.5,163.7 363.7,169.5 365.9,175.4 368.1,181.2 370.3,187.1 372.5,192.9 374.7,198.7 376.9,204.6M363.1,146.2 365.3,152 367.5,157.9 369.7,163.7 371.9,169.5 374.1,175.4 376.3,181.2 378.5,187.1 380.7,192.9 382.9,198.7 385.1,204.6M370.6,146.2 372.8,152 375,157.9 377.2,163.7 379.4,169.6 381.6,175.4 383.8,181.2 386,187.1 388.2,192.9 390.4,198.8 392.6,204.6M378.8,146.2 381,152 383.2,157.9 385.4,163.7 387.6,169.6 389.8,175.4 392,181.3 394.2,187.1 396.4,192.9 398.6,198.8 400.8,204.6M386.4,146.2 388.6,152.1 390.8,157.9 393,163.8 395.2,169.6 397.4,175.4 399.6,181.3 401.8,187.1 404,193 406.2,198.8 408.4,204.6M394.6,146.3 396.8,152.1 399,158 401.2,163.8 403.4,169.6 405.6,175.5 407.8,181.3 410,187.2 412.2,193 414.4,198.9 416.6,204.7M402.1,146.3 404.3,152.2 406.5,158 408.7,163.8 410.9,169.7 413.1,175.5 415.3,181.4 417.5,187.2 419.7,193 421.9,198.9 424.1,204.7M409.5,146.3 411.7,152.2 413.9,158 416.1,163.9 418.3,169.7 420.5,175.6 422.7,181.4 424.9,187.2 427.1,193.1 429.3,198.9 431.5,204.8M417.6,146.4 419.8,152.2 422,158.1 424.2,163.9 426.4,169.8 428.6,175.6 430.8,181.4 433,187.3 435.2,193.1 437.4,199 439.6,204.8M425.3,146.4 427.5,152.3 429.7,158.1 431.9,164 434.1,169.8 436.3,175.6 438.5,181.5 440.7,187.3 442.9,193.2 445.1,199 447.3,204.9M432.7,146.5 434.9,152.3 437.1,158.1 439.3,164 441.5,169.8 443.7,175.7 445.9,181.5 448.1,187.4 450.3,193.2 452.5,199.1 454.7,204.9M440.1,146.5 442.3,152.3 444.5,158.2 446.7,164 448.9,169.9 451.1,175.7 453.3,181.6 455.5,187.4 457.7,193.3 459.9,199.1 462.1,205M447.9,146.5 450.1,152.4 452.3,158.2 454.5,164.1 456.7,169.9 458.9,175.8 461.1,181.6 463.3,187.5 465.5,193.3 467.7,199.2 469.9,205M456.3,146.6 458.5,152.4 460.7,158.3 462.9,164.1 465.1,170 467.3,175.8 469.5,181.7 471.7,187.5 473.9,193.4 476.1,199.2 478.3,205M463.4,146.6 465.6,152.5 467.8,158.3 470,164.2 472.2,170 474.4,175.8 476.6,181.7 478.8,187.5 481,193.4 483.2,199.2 485.4,205.1M471.5,146.7 473.7,152.5 475.9,158.3 478.1,164.2 480.3,170 482.5,175.9 484.7,181.7 486.9,187.6 489.1,193.4 491.3,199.3 493.5,205.1M478.9,146.7 481.1,152.5 483.3,158.4 485.5,164.2 487.7,170.1 489.9,175.9 492.1,181.8 494.3,187.6 496.5,193.5 498.7,199.3 500.9,205.2M486.2,146.7 488.4,152.6 490.6,158.4 492.8,164.3 495,170.1 497.2,176 499.4,181.8 501.6,187.7 503.8,193.5 506,199.4 508.2,205.2M493.8,146.8 496,152.6 498.2,158.5 500.4,164.3 502.6,170.2 504.8,176 507,181.9 509.2,187.7 511.4,193.6 513.6,199.4 515.8,205.3M501.5,146.8 503.7,152.6 505.9,158.5 508.1,164.3 510.3,170.2 512.5,176 514.7,181.9 516.9,187.8 519.1,193.6 521.3,199.5 523.5,205.3M508.8,146.8 511,152.7 513.2,158.5 515.4,164.4 517.6,170.2 519.8,176.1 522,181.9M517.2,146.9 519.4,152.7 521.6,158.6 523.8,164.4" fill="none" stroke="#0000F6" stroke-width="2.6" stroke-opacity="0.85" stroke-linecap="butt"/>
<path d="M28.1,121 27.3,126.5 26.6,131.9 25.8,137.3 25.1,142.8 24.3,148.2 23.6,153.7 22.8,159.2 22.1,164.6 21.3,170.1 20.6,175.5M37,121 36.2,126.5 35.5,131.9 34.7,137.3 34,142.8 33.2,148.2 32.5,153.7 31.7,159.2 31,164.6 30.2,170.1 29.5,175.5M44.3,121 43.6,126.5 42.8,131.9 42.1,137.3 41.3,142.8 40.6,148.2 39.8,153.7 39.1,159.2 38.3,164.6 37.6,170.1 36.8,175.5M51.8,121 51.1,126.5 50.3,131.9 49.6,137.3 48.8,142.8 48.1,148.2 47.3,153.7 46.6,159.2 45.8,164.6 45.1,170.1 44.3,175.5M59.6,121 58.8,126.5 58.1,131.9 57.3,137.3 56.6,142.8 55.8,148.2 55.1,153.7 54.3,159.2 53.6,164.6 52.8,170.1 52.1,175.5M68.6,121 67.9,126.5 67.1,131.9 66.4,137.3 65.6,142.8 64.9,148.2 64.1,153.7 63.4,159.2 62.6,164.6 61.9,170.1 61.1,175.5M76.7,121 76,126.5 75.2,131.9 74.5,137.3 73.7,142.8 73,148.2 72.2,153.7 71.5,159.2 70.7,164.6 70,170.1 69.2,175.5M84.8,121 84,126.5 83.3,131.9 82.5,137.3 81.8,142.8 81,148.2 80.3,153.7 79.5,159.2 78.8,164.6 78,170.1 77.3,175.5M94.3,121 93.5,126.5 92.8,131.9 92,137.3 91.3,142.8 90.5,148.2 89.8,153.7 89,159.2 88.3,164.6 87.5,170.1 86.8,175.5M101.9,121 101.1,126.5 100.4,131.9 99.6,137.3 98.9,142.8 98.1,148.2 97.4,153.7 96.6,159.2 95.9,164.6 95.1,170.1 94.4,175.5M109.6,121 108.9,126.5 108.1,131.9 107.4,137.3 106.6,142.8 105.9,148.2 105.1,153.7 104.4,159.2 103.6,164.6 102.9,170.1 102.1,175.5M117.6,121 116.8,126.5 116.1,131.9 115.3,137.3 114.6,142.8 113.8,148.2 113.1,153.7 112.3,159.2 111.6,164.6 110.8,170.1 110.1,175.5M125.1,243.2 124.4,249.2 123.6,254.7 122.9,248.6 122.1,235.6 121.4,228.6 120.6,212.9 119.9,200 119.1,193.1 118.4,186.9 117.6,180.5M132.2,240.5 131.4,248.3 130.7,255.9 129.9,263.2 129.2,270.3 128.4,277.2 127.7,283.2 126.9,288.9 126.2,294.4 125.4,299.6 124.7,304.6M139.1,234.8 138.4,243.6 137.6,252.2 136.9,260.6 136.1,268.8 135.4,276.7 134.6,284.4 133.9,291.9 133.1,299.2 132.4,306.2 131.6,313.1M147.9,224.9 147.2,235.3 146.4,245.5 145.7,255.4 144.9,265.1 144.2,274.6 143.4,283.8 142.7,292.8 141.9,301.5 141.2,310 140.4,318.2M156.5,215.1 155.8,224.6 155,234.4 154.3,244.3 153.5,254.4 152.8,264.7 152,275.1 151.3,285.8 150.5,296.6 149.8,307.4 149,318M165.8,203.7 165.1,211.9 164.3,220.3 163.6,228.9 162.8,237.8 162.1,246.9 161.3,256.2 160.6,265.7 159.8,275.5 159.1,285.5 158.3,295.8M175.7,188.5 174.9,196 174.2,203.6 173.4,211.3 172.7,219.1 171.9,227.1 171.2,235.2 170.4,243.4 169.7,251.8 168.9,260.2 168.2,268.9M183.5,175.5 182.7,182.6 182,189.6 181.2,196.7 180.5,203.7 179.7,210.6 179,217.6 178.2,225 177.5,232.6 176.7,240.4 176,248.4M192.4,160 191.6,168 190.9,175.7 190.1,183.3 189.4,190.8 188.6,198.1 187.9,205.3 187.1,212.2 186.4,219.1 185.6,225.7 184.9,232.2M202,156.6 201.3,163.2 200.5,169.9 199.8,176.7 199,183.5 198.3,190.4 197.5,197.4 196.8,204.4 196,211.6 195.3,218.8 194.5,226M209.6,154.7 208.8,161.1 208.1,167.6 207.3,174.1 206.6,180.7 205.8,187.3 205.1,193.9 204.3,200.6 203.6,207.4 202.8,214.2 202.1,221.1M218.5,151.6 217.8,157.9 217,164.3 216.3,170.7 215.5,177.1 214.8,183.5 214,189.9 213.3,196.3 212.5,202.8 211.8,209.3 211,215.8M227.4,147.5 226.7,154 225.9,160.5 225.2,166.9 224.4,173.3 223.7,179.7 222.9,186 222.2,192.3 221.4,198.7 220.7,205.1 219.9,211.5M237.2,146.2 236.5,152.3 235.7,158.5 235,164.6 234.2,170.9 233.5,177.1 232.7,183.4 232,189.7 231.2,196 230.5,202.3 229.7,208.6M246.7,146 246,152 245.2,158.1 244.5,164.2 243.7,170.2 243,176.3 242.2,182.4 241.5,188.5 240.7,194.7 240,200.8 239.2,206.9M254.3,146 253.6,152 252.8,158 252.1,164 251.3,170 250.6,176 249.8,182 249.1,188.1 248.3,194.1 247.6,200.2 246.8,206.3M263.1,146 262.4,152 261.6,157.9 260.9,163.9 260.1,169.8 259.4,175.8 258.6,181.7 257.9,187.7 257.1,193.7 256.4,199.7 255.6,205.7M270.3,146 269.5,151.9 268.8,157.8 268,163.8 267.3,169.7 266.5,175.6 265.8,181.5 265,187.5 264.3,193.4 263.5,199.4 262.8,205.4M278.5,146 277.7,151.9 277,157.8 276.2,163.7 275.5,169.6 274.7,175.5 274,181.4 273.2,187.3 272.5,193.2 271.7,199.1 271,205M286.5,146.1 285.8,151.9 285,157.8 284.3,163.7 283.5,169.5 282.8,175.4 282,181.3 281.3,187.2 280.5,193.1 279.8,199 279,204.8M293.6,146.1 292.9,151.9 292.1,157.8 291.4,163.6 290.6,169.5 289.9,175.4 289.1,181.2 288.4,187.1 287.6,193 286.9,198.9 286.1,204.7M301.7,146.1 300.9,151.9 300.2,157.8 299.4,163.6 298.7,169.5 297.9,175.3 297.2,181.2 296.4,187 295.7,192.9 294.9,198.7 294.2,204.6M309.6,146.1 308.8,151.9 308.1,157.8 307.3,163.6 306.6,169.5 305.8,175.3 305.1,181.1 304.3,187 303.6,192.8 302.8,198.7 302.1,204.5M318,146.1 317.2,151.9 316.5,157.8 315.7,163.6 315,169.5 314.2,175.3 313.5,181.1 312.7,187 312,192.8 311.2,198.7 310.5,204.5M325.7,146.1 324.9,152 324.2,157.8 323.4,163.6 322.7,169.5 321.9,175.3 321.2,181.2 320.4,187 319.7,192.8 318.9,198.7 318.2,204.5M333.1,146.1 332.3,152 331.6,157.8 330.8,163.6 330.1,169.5 329.3,175.3 328.6,181.2 327.8,187 327.1,192.8 326.3,198.7 325.6,204.5M341.2,146.1 340.4,152 339.7,157.8 338.9,163.7 338.2,169.5 337.4,175.3 336.7,181.2 335.9,187 335.2,192.9 334.4,198.7 333.7,204.5M349.5,146.2 348.8,152 348,157.8 347.3,163.7 346.5,169.5 345.8,175.3 345,181.2 344.3,187 343.5,192.9 342.8,198.7 342,204.5M356.9,146.2 356.2,152 355.4,157.8 354.7,163.7 353.9,169.5 353.2,175.4 352.4,181.2 351.7,187 350.9,192.9 350.2,198.7 349.4,204.5M365.8,146.2 365,152 364.3,157.9 363.5,163.7 362.8,169.5 362,175.4 361.3,181.2 360.5,187 359.8,192.9 359,198.7 358.3,204.6M373.4,146.2 372.7,152 371.9,157.9 371.2,163.7 370.4,169.5 369.7,175.4 368.9,181.2 368.2,187.1 367.4,192.9 366.7,198.7 365.9,204.6M380.6,146.2 379.8,152 379.1,157.9 378.3,163.7 377.6,169.5 376.8,175.4 376.1,181.2 375.3,187.1 374.6,192.9 373.8,198.7 373.1,204.6M388.5,146.2 387.8,152.1 387,157.9 386.3,163.7 385.5,169.6 384.8,175.4 384,181.2 383.3,187.1 382.5,192.9 381.8,198.7 381,204.6M396.7,146.3 395.9,152.1 395.2,157.9 394.4,163.8 393.7,169.6 392.9,175.4 392.2,181.3 391.4,187.1 390.7,192.9 389.9,198.8 389.2,204.6M404,146.3 403.3,152.1 402.5,158 401.8,163.8 401,169.6 400.3,175.5 399.5,181.3 398.8,187.1 398,192.9 397.3,198.8 396.5,204.6M412.7,146.4 411.9,152.2 411.2,158 410.4,163.8 409.7,169.7 408.9,175.5 408.2,181.3 407.4,187.2 406.7,193 405.9,198.8 405.2,204.6M421.7,146.4 420.9,152.2 420.2,158.1 419.4,163.9 418.7,169.7 417.9,175.5 417.2,181.4 416.4,187.2 415.7,193 414.9,198.9 414.2,204.7M430.3,146.4 429.5,152.3 428.8,158.1 428,163.9 427.3,169.8 426.5,175.6 425.8,181.4 425,187.2 424.3,193.1 423.5,198.9 422.8,204.7M439.3,146.5 438.5,152.3 437.8,158.2 437,164 436.3,169.8 435.5,175.6 434.8,181.5 434,187.3 433.3,193.1 432.5,199 431.8,204.8M446.2,146.5 445.5,152.4 444.7,158.2 444,164 443.2,169.8 442.5,175.7 441.7,181.5 441,187.3 440.2,193.2 439.5,199 438.7,204.8M454.3,146.6 453.5,152.4 452.8,158.2 452,164.1 451.3,169.9 450.5,175.7 449.8,181.5 449,187.4 448.3,193.2 447.5,199 446.8,204.9M462.3,146.6 461.5,152.4 460.8,158.3 460,164.1 459.3,169.9 458.5,175.8 457.8,181.6 457,187.4 456.3,193.3 455.5,199.1 454.8,204.9M469.4,146.6 468.6,152.5 467.9,158.3 467.1,164.1 466.4,170 465.6,175.8 464.9,181.6 464.1,187.5 463.4,193.3 462.6,199.1 461.9,205M477.5,146.7 476.7,152.5 476,158.3 475.2,164.2 474.5,170 473.7,175.8 473,181.7 472.2,187.5 471.5,193.3 470.7,199.2 470,205M484.6,146.7 483.8,152.5 483.1,158.4 482.3,164.2 481.6,170 480.8,175.9 480.1,181.7 479.3,187.5 478.6,193.4 477.8,199.2 477.1,205M492.9,146.8 492.2,152.6 491.4,158.4 490.7,164.3 489.9,170.1 489.2,175.9 488.4,181.8 487.7,187.6 486.9,193.4 486.2,199.3 485.4,205.1M501.6,146.8 500.8,152.6 500.1,158.5 499.3,164.3 498.6,170.1 497.8,176 497.1,181.8 496.3,187.6 495.6,193.5 494.8,199.3 494.1,205.1M509.9,146.8 509.2,152.7 508.4,158.5 507.7,164.3 506.9,170.2 506.2,176 505.4,181.9 504.7,187.7 503.9,193.5 503.2,199.4 502.4,205.2M517.8,146.9 517,152.7 516.3,158.6 515.5,164.4 514.8,170.2 514,176.1 513.3,181.9 512.5,187.7 511.8,193.6 511,199.4 510.3,205.2M523.9,158.6 523.2,164.4 522.4,170.3 521.7,176.1 520.9,181.9 520.2,187.8 519.4,193.6 518.7,199.4 517.9,205.3" fill="none" stroke="#0202F8" stroke-width="1.9" stroke-opacity="0.9" stroke-linecap="butt"/>
<path d="M22.5,123.4 23.5,123.4 24.5,123.4 25.5,123.4 26.5,123.4 27.5,123.4 28.5,123.4 29.5,123.4 30.5,123.4 31.5,123.4 32.5,123.4 33.5,123.4 34.5,123.4 35.5,123.4 36.5,123.4 37.5,123.4 38.5,123.4 39.5,123.4 40.5,123.4 41.5,123.4 42.5,123.4 43.5,123.4 44.5,123.4 45.5,123.4 46.5,123.4 47.5,123.4 48.5,123.4 49.5,123.4 50.5,123.4 51.5,123.4 52.5,123.4 53.5,123.4 54.5,123.4 55.5,123.4 56.5,123.4 57.5,123.4 58.5,123.4 59.5,123.4 60.5,123.4 61.5,123.4 62.5,123.4 63.5,123.4 64.5,123.4 65.5,123.4 66.5,123.4 67.5,123.4 68.5,123.4 69.5,123.4 70.5,123.4 71.5,123.4 72.5,123.4 73.5,123.4 74.5,123.4 75.5,123.4 76.5,123.4 77.5,123.4 78.5,123.4 79.5,123.4 80.5,123.4 81.5,123.4 82.5,123.4 83.5,123.4 84.5,123.4 85.5,123.4 86.5,123.4 87.5,123.4 88.5,123.4 89.5,123.4 90.5,123.4 91.5,123.4 92.5,123.4 93.5,123.4 94.5,123.4 95.5,123.4 96.5,123.4 97.5,123.4 98.5,123.4 99.5,123.4 100.5,123.4 101.5,123.4 102.5,123.4 103.5,123.4 104.5,123.4 105.5,123.4 106.5,123.4 107.5,123.4 108.5,123.4 109.5,123.4 110.5,123.4 111.5,123.4 112.5,123.4 113.5,123.4 114.5,123.4 115.5,123.4 116.5,123.4 117.5,123.4 118.5,123.9 119.5,148 120.5,170.2 121.5,195.7 122.5,219.5 123.5,245.4 124.5,245.5 125.5,245.6 126.5,245.7 127.5,245.8 128.5,245.8 129.5,245 130.5,244.2 131.5,243.5 132.5,242.7 133.5,241.9 134.5,241.1 135.5,240.3 136.5,239.5 137.5,238.6 138.5,237.7 139.5,236.8 140.5,235.8 141.5,234.7 142.5,233.5 143.5,232.4 144.5,231.3 145.5,230.1 146.5,229 147.5,227.8 148.5,226.6 149.5,225.4 150.5,224.2 151.5,223 152.5,221.9 153.5,220.8 154.5,219.7 155.5,218.6 156.5,217.5 157.5,216.4 158.5,215.2 159.5,213.9 160.5,212.7 161.5,211.5 162.5,210.2 163.5,209 164.5,207.8 165.5,206.5 166.5,205.3 167.5,204 168.5,202.8 169.5,201.5 170.5,200 171.5,198.3 172.5,196.5 173.5,194.7 174.5,193 175.5,191.2 176.5,189.5 177.5,187.8 178.5,186.2 179.5,184.5 180.5,182.8 181.5,181.2 182.5,179.5 183.5,177.8 184.5,176.1 185.5,174.3 186.5,172.6 187.5,170.8 188.5,169 189.5,167.3 190.5,165.6 191.5,163.9 192.5,162.2 193.5,161.2 194.5,160.8 195.5,160.5 196.5,160.1 197.5,159.8 198.5,159.6 199.5,159.4 200.5,159.3 201.5,159.1 202.5,158.9 203.5,158.7 204.5,158.4 205.5,158.2 206.5,157.9 207.5,157.7 208.5,157.4 209.5,157.2 210.5,156.9 211.5,156.7 212.5,156.4 213.5,156 214.5,155.6 215.5,155.2 216.5,154.8 217.5,154.4 218.5,154 219.5,153.6 220.5,153.2 221.5,152.7 222.5,152.2 223.5,151.8 224.5,151.3 225.5,150.8 226.5,150.4 227.5,149.9 228.5,149.7 229.5,149.6 230.5,149.4 231.5,149.3 232.5,149.1 233.5,148.9 234.5,148.8 235.5,148.7 236.5,148.7 237.5,148.6 238.5,148.6 239.5,148.6 240.5,148.5 241.5,148.5 242.5,148.5 243.5,148.4 244.5,148.4 245.5,148.4 246.5,148.4 247.5,148.4 248.5,148.4 249.5,148.4 250.5,148.4 251.5,148.4 252.5,148.4 253.5,148.4 254.5,148.4 255.5,148.4 256.5,148.4 257.5,148.4 258.5,148.4 259.5,148.4 260.5,148.4 261.5,148.4 262.5,148.4 263.5,148.4 264.5,148.4 265.5,148.4 266.5,148.4 267.5,148.4 268.5,148.4 269.5,148.4 270.5,148.4 271.5,148.4 272.5,148.4 273.5,148.4 274.5,148.4 275.5,148.4 276.5,148.4 277.5,148.4 278.5,148.4 279.5,148.5 280.5,148.5 281.5,148.5 282.5,148.5 283.5,148.5 284.5,148.5 285.5,148.5 286.5,148.5 287.5,148.5 288.5,148.5 289.5,148.5 290.5,148.5 291.5,148.5 292.5,148.5 293.5,148.5 294.5,148.5 295.5,148.5 296.5,148.5 297.5,148.5 298.5,148.5 299.5,148.5 300.5,148.5 301.5,148.5 302.5,148.5 303.5,148.5 304.5,148.5 305.5,148.5 306.5,148.5 307.5,148.5 308.5,148.5 309.5,148.5 310.5,148.5 311.5,148.5 312.5,148.5 313.5,148.5 314.5,148.5 315.5,148.5 316.5,148.5 317.5,148.5 318.5,148.5 319.5,148.5 320.5,148.5 321.5,148.5 322.5,148.5 323.5,148.5 324.5,148.5 325.5,148.5 326.5,148.5 327.5,148.5 328.5,148.5 329.5,148.5 330.5,148.5 331.5,148.5 332.5,148.5 333.5,148.5 334.5,148.5 335.5,148.5 336.5,148.5 337.5,148.5 338.5,148.5 339.5,148.5 340.5,148.5 341.5,148.5 342.5,148.5 343.5,148.5 344.5,148.5 345.5,148.5 346.5,148.6 347.5,148.6 348.5,148.6 349.5,148.6 350.5,148.6 351.5,148.6 352.5,148.6 353.5,148.6 354.5,148.6 355.5,148.6 356.5,148.6 357.5,148.6 358.5,148.6 359.5,148.6 360.5,148.6 361.5,148.6 362.5,148.6 363.5,148.6 364.5,148.6 365.5,148.6 366.5,148.6 367.5,148.6 368.5,148.6 369.5,148.6 370.5,148.6 371.5,148.6 372.5,148.6 373.5,148.6 374.5,148.6 375.5,148.6 376.5,148.6 377.5,148.6 378.5,148.6 379.5,148.6 380.5,148.6 381.5,148.6 382.5,148.6 383.5,148.6 384.5,148.6 385.5,148.6 386.5,148.6 387.5,148.6 388.5,148.6 389.5,148.6 390.5,148.7 391.5,148.7 392.5,148.7 393.5,148.7 394.5,148.7 395.5,148.7 396.5,148.7 397.5,148.7 398.5,148.7 399.5,148.7 400.5,148.7 401.5,148.7 402.5,148.7 403.5,148.7 404.5,148.7 405.5,148.7 406.5,148.7 407.5,148.7 408.5,148.7 409.5,148.7 410.5,148.8 411.5,148.8 412.5,148.8 413.5,148.8 414.5,148.8 415.5,148.8 416.5,148.8 417.5,148.8 418.5,148.8 419.5,148.8 420.5,148.8 421.5,148.8 422.5,148.8 423.5,148.8 424.5,148.8 425.5,148.8 426.5,148.8 427.5,148.8 428.5,148.8 429.5,148.8 430.5,148.8 431.5,148.9 432.5,148.9 433.5,148.9 434.5,148.9 435.5,148.9 436.5,148.9 437.5,148.9 438.5,148.9 439.5,148.9 440.5,148.9 441.5,148.9 442.5,148.9 443.5,148.9 444.5,148.9 445.5,148.9 446.5,148.9 447.5,148.9 448.5,148.9 449.5,148.9 450.5,148.9 451.5,149 452.5,149 453.5,149 454.5,149 455.5,149 456.5,149 457.5,149 458.5,149 459.5,149 460.5,149 461.5,149 462.5,149 463.5,149 464.5,149 465.5,149 466.5,149 467.5,149 468.5,149 469.5,149 470.5,149 471.5,149.1 472.5,149.1 473.5,149.1 474.5,149.1 475.5,149.1 476.5,149.1 477.5,149.1 478.5,149.1 479.5,149.1 480.5,149.1 481.5,149.1 482.5,149.1 483.5,149.1 484.5,149.1 485.5,149.1 486.5,149.1 487.5,149.1 488.5,149.1 489.5,149.1 490.5,149.1 491.5,149.1 492.5,149.2 493.5,149.2 494.5,149.2 495.5,149.2 496.5,149.2 497.5,149.2 498.5,149.2 499.5,149.2 500.5,149.2 501.5,149.2 502.5,149.2 503.5,149.2 504.5,149.2 505.5,149.2 506.5,149.2 507.5,149.2 508.5,149.2 509.5,149.2 510.5,149.2 511.5,149.2 512.5,149.3 513.5,149.3 514.5,149.3 515.5,149.3 516.5,149.3 517.5,149.3 518.5,149.3 519.5,149.3 520.5,149.3 521.5,149.3 522.5,149.3" fill="none" stroke="#0606FF" stroke-width="4" stroke-opacity="0.4" stroke-linecap="butt"/>
<path d="M22.5,173.1 23.5,173.1 24.5,173.1 25.5,173.1 26.5,173.1 27.5,173.1 28.5,173.1 29.5,173.1 30.5,173.1 31.5,173.1 32.5,173.1 33.5,173.1 34.5,173.1 35.5,173.1 36.5,173.1 37.5,173.1 38.5,173.1 39.5,173.1 40.5,173.1 41.5,173.1 42.5,173.1 43.5,173.1 44.5,173.1 45.5,173.1 46.5,173.1 47.5,173.1 48.5,173.1 49.5,173.1 50.5,173.1 51.5,173.1 52.5,173.1 53.5,173.1 54.5,173.1 55.5,173.1 56.5,173.1 57.5,173.1 58.5,173.1 59.5,173.1 60.5,173.1 61.5,173.1 62.5,173.1 63.5,173.1 64.5,173.1 65.5,173.1 66.5,173.1 67.5,173.1 68.5,173.1 69.5,173.1 70.5,173.1 71.5,173.1 72.5,173.1 73.5,173.1 74.5,173.1 75.5,173.1 76.5,173.1 77.5,173.1 78.5,173.1 79.5,173.1 80.5,173.1 81.5,173.1 82.5,173.1 83.5,173.1 84.5,173.1 85.5,173.1 86.5,173.1 87.5,173.1 88.5,173.1 89.5,173.1 90.5,173.1 91.5,173.1 92.5,173.1 93.5,173.1 94.5,173.1 95.5,173.1 96.5,173.1 97.5,173.1 98.5,173.1 99.5,173.1 100.5,173.1 101.5,173.1 102.5,173.1 103.5,173.1 104.5,173.1 105.5,173.1 106.5,173.1 107.5,173.1 108.5,173.1 109.5,173.1 110.5,173.1 111.5,173.1 112.5,173.1 113.5,173.1 114.5,173.1 115.5,173.1 116.5,173.1 117.5,176.9 118.5,194 119.5,210.9 120.5,234.8 121.5,267.6 122.5,282.3 123.5,296.9 124.5,301.9 125.5,303.6 126.5,305.3 127.5,307.1 128.5,308.7 129.5,309.3 130.5,309.9 131.5,310.6 132.5,311.2 133.5,311.8 134.5,312.5 135.5,313.1 136.5,313.7 137.5,314.2 138.5,314.8 139.5,315.3 140.5,315.8 141.5,316.3 142.5,316.8 143.5,317.3 144.5,317.7 145.5,318 146.5,318.4 147.5,317.9 148.5,316.4 149.5,314.9 150.5,313 151.5,310.7 152.5,308.4 153.5,306.1 154.5,303.8 155.5,301.2 156.5,298.4 157.5,295.7 158.5,292.9 159.5,290.1 160.5,287.4 161.5,284.6 162.5,281.9 163.5,279.1 164.5,276.4 165.5,273.7 166.5,271 167.5,268.3 168.5,265.6 169.5,263 170.5,260.4 171.5,257.7 172.5,255.1 173.5,252.5 174.5,249.8 175.5,247.2 176.5,244.5 177.5,241.9 178.5,239.3 179.5,237.5 180.5,236 181.5,234.5 182.5,233 183.5,231.5 184.5,230 185.5,229.4 186.5,228.8 187.5,228.1 188.5,227.5 189.5,226.8 190.5,226.2 191.5,225.5 192.5,224.9 193.5,224.3 194.5,223.6 195.5,223 196.5,222.3 197.5,221.7 198.5,221 199.5,220.4 200.5,219.7 201.5,219.1 202.5,218.4 203.5,217.8 204.5,217.2 205.5,216.7 206.5,216.1 207.5,215.5 208.5,214.9 209.5,214.3 210.5,213.8 211.5,213.2 212.5,212.6 213.5,212.1 214.5,211.7 215.5,211.2 216.5,210.7 217.5,210.2 218.5,209.8 219.5,209.3 220.5,208.8 221.5,208.3 222.5,208 223.5,207.7 224.5,207.5 225.5,207.2 226.5,207 227.5,206.7 228.5,206.5 229.5,206.3 230.5,206 231.5,205.8 232.5,205.5 233.5,205.3 234.5,205 235.5,204.9 236.5,204.8 237.5,204.7 238.5,204.6 239.5,204.5 240.5,204.4 241.5,204.3 242.5,204.2 243.5,204.2 244.5,204.1 245.5,204 246.5,203.9 247.5,203.8 248.5,203.7 249.5,203.6 250.5,203.6 251.5,203.5 252.5,203.5 253.5,203.4 254.5,203.4 255.5,203.3 256.5,203.3 257.5,203.2 258.5,203.2 259.5,203.1 260.5,203.1 261.5,203 262.5,203 263.5,202.9 264.5,202.9 265.5,202.8 266.5,202.8 267.5,202.7 268.5,202.7 269.5,202.6 270.5,202.6 271.5,202.6 272.5,202.6 273.5,202.5 274.5,202.5 275.5,202.5 276.5,202.5 277.5,202.5 278.5,202.5 279.5,202.4 280.5,202.4 281.5,202.4 282.5,202.4 283.5,202.4 284.5,202.4 285.5,202.3 286.5,202.3 287.5,202.3 288.5,202.3 289.5,202.3 290.5,202.3 291.5,202.2 292.5,202.2 293.5,202.2 294.5,202.2 295.5,202.2 296.5,202.2 297.5,202.1 298.5,202.1 299.5,202.1 300.5,202.1 301.5,202.1 302.5,202.1 303.5,202.1 304.5,202.1 305.5,202.1 306.5,202.1 307.5,202.1 308.5,202.1 309.5,202.1 310.5,202.1 311.5,202.1 312.5,202.1 313.5,202.1 314.5,202.1 315.5,202.1 316.5,202.1 317.5,202.1 318.5,202.1 319.5,202.1 320.5,202.1 321.5,202.1 322.5,202.1 323.5,202.1 324.5,202.1 325.5,202.1 326.5,202.1 327.5,202.1 328.5,202.1 329.5,202.1 330.5,202.1 331.5,202.1 332.5,202.1 333.5,202.1 334.5,202.1 335.5,202.1 336.5,202.1 337.5,202.1 338.5,202.1 339.5,202.1 340.5,202.1 341.5,202.1 342.5,202.1 343.5,202.1 344.5,202.1 345.5,202.1 346.5,202.1 347.5,202.1 348.5,202.1 349.5,202.1 350.5,202.2 351.5,202.2 352.5,202.2 353.5,202.2 354.5,202.2 355.5,202.2 356.5,202.2 357.5,202.2 358.5,202.2 359.5,202.2 360.5,202.2 361.5,202.2 362.5,202.2 363.5,202.2 364.5,202.2 365.5,202.2 366.5,202.2 367.5,202.2 368.5,202.2 369.5,202.2 370.5,202.2 371.5,202.2 372.5,202.2 373.5,202.2 374.5,202.2 375.5,202.2 376.5,202.2 377.5,202.2 378.5,202.2 379.5,202.2 380.5,202.2 381.5,202.2 382.5,202.2 383.5,202.2 384.5,202.2 385.5,202.2 386.5,202.2 387.5,202.2 388.5,202.2 389.5,202.2 390.5,202.2 391.5,202.2 392.5,202.2 393.5,202.2 394.5,202.2 395.5,202.2 396.5,202.2 397.5,202.2 398.5,202.2 399.5,202.2 400.5,202.2 401.5,202.2 402.5,202.2 403.5,202.2 404.5,202.2 405.5,202.2 406.5,202.2 407.5,202.2 408.5,202.2 409.5,202.3 410.5,202.3 411.5,202.3 412.5,202.3 413.5,202.3 414.5,202.3 415.5,202.3 416.5,202.3 417.5,202.3 418.5,202.3 419.5,202.3 420.5,202.3 421.5,202.3 422.5,202.3 423.5,202.3 424.5,202.3 425.5,202.3 426.5,202.4 427.5,202.4 428.5,202.4 429.5,202.4 430.5,202.4 431.5,202.4 432.5,202.4 433.5,202.4 434.5,202.4 435.5,202.4 436.5,202.4 437.5,202.4 438.5,202.4 439.5,202.4 440.5,202.4 441.5,202.4 442.5,202.4 443.5,202.4 444.5,202.5 445.5,202.5 446.5,202.5 447.5,202.5 448.5,202.5 449.5,202.5 450.5,202.5 451.5,202.5 452.5,202.5 453.5,202.5 454.5,202.5 455.5,202.5 456.5,202.5 457.5,202.5 458.5,202.5 459.5,202.5 460.5,202.5 461.5,202.6 462.5,202.6 463.5,202.6 464.5,202.6 465.5,202.6 466.5,202.6 467.5,202.6 468.5,202.6 469.5,202.6 470.5,202.6 471.5,202.6 472.5,202.6 473.5,202.6 474.5,202.6 475.5,202.6 476.5,202.6 477.5,202.6 478.5,202.7 479.5,202.7 480.5,202.7 481.5,202.7 482.5,202.7 483.5,202.7 484.5,202.7 485.5,202.7 486.5,202.7 487.5,202.7 488.5,202.7 489.5,202.7 490.5,202.7 491.5,202.7 492.5,202.7 493.5,202.7 494.5,202.7 495.5,202.7 496.5,202.8 497.5,202.8 498.5,202.8 499.5,202.8 500.5,202.8 501.5,202.8 502.5,202.8 503.5,202.8 504.5,202.8 505.5,202.8 506.5,202.8 507.5,202.8 508.5,202.8 509.5,202.8 510.5,202.8 511.5,202.8 512.5,202.8 513.5,202.9 514.5,202.9 515.5,202.9 516.5,202.9 517.5,202.9 518.5,202.9 519.5,202.9 520.5,202.9 521.5,202.9 522.5,202.9" fill="none" stroke="#0606FF" stroke-width="4" stroke-opacity="0.4" stroke-linecap="butt"/>
</g>
</g>
<g shape-rendering="crispEdges">
<rect x="22" y="306" width="501" height="1" fill="#000096"/>
<line x1="24" y1="148.5" x2="523" y2="148.5" stroke="#000096" stroke-width="1" stroke-dasharray="4 4"/>
</g>
<g shape-rendering="crispEdges" stroke="#000" stroke-width="1" fill="#000">
<line x1="22" y1="19.5" x2="523" y2="19.5" stroke-dasharray="1 1"/>
<line x1="22" y1="421.5" x2="523" y2="421.5" stroke-dasharray="1 1"/>
<line x1="21.5" y1="20" x2="21.5" y2="421" stroke-dasharray="1 1"/>
<line x1="522.5" y1="20" x2="522.5" y2="421" stroke-dasharray="1 1"/>
<rect x="21" y="19" width="1" height="1" stroke="none"/>
<rect x="21" y="421" width="1" height="1" stroke="none"/>
<line x1="32" y1="20.5" x2="513" y2="20.5" stroke-dasharray="1 9 1 9 1 9 1 19"/>
<line x1="32" y1="22.5" x2="513" y2="22.5" stroke-dasharray="1 9 1 9 1 9 1 19"/>
<line x1="32" y1="420.5" x2="513" y2="420.5" stroke-dasharray="1 9 1 9 1 9 1 19"/>
<line x1="32" y1="418.5" x2="513" y2="418.5" stroke-dasharray="1 9 1 9 1 9 1 19"/>
<line x1="22.5" y1="30" x2="22.5" y2="411" stroke-dasharray="1 9 1 9 1 9 1 19"/>
<line x1="24.5" y1="30" x2="24.5" y2="411" stroke-dasharray="1 9 1 9 1 9 1 19"/>
<line x1="521.5" y1="30" x2="521.5" y2="411" stroke-dasharray="1 9 1 9 1 9 1 19"/>
<line x1="519.5" y1="30" x2="519.5" y2="411" stroke-dasharray="1 9 1 9 1 9 1 19"/>
<rect x="272" y="20" width="1" height="1" stroke="none"/>
<rect x="272" y="22" width="1" height="1" stroke="none"/>
<rect x="272" y="420" width="1" height="1" stroke="none"/>
<rect x="272" y="418" width="1" height="1" stroke="none"/>
<rect x="22" y="220" width="1" height="1" stroke="none"/>
<rect x="24" y="220" width="1" height="1" stroke="none"/>
<rect x="521" y="220" width="1" height="1" stroke="none"/>
<rect x="519" y="220" width="1" height="1" stroke="none"/>
<line x1="72.5" y1="30" x2="72.5" y2="411" stroke-dasharray="1 9"/>
<rect x="72" y="21" width="1" height="1" stroke="none"/>
<rect x="72" y="23" width="1" height="1" stroke="none"/>
<rect x="72" y="25" width="1" height="1" stroke="none"/>
<rect x="72" y="419" width="1" height="1" stroke="none"/>
<rect x="72" y="417" width="1" height="1" stroke="none"/>
<rect x="72" y="415" width="1" height="1" stroke="none"/>
<line x1="122.5" y1="30" x2="122.5" y2="411" stroke-dasharray="1 9"/>
<rect x="122" y="21" width="1" height="1" stroke="none"/>
<rect x="122" y="23" width="1" height="1" stroke="none"/>
<rect x="122" y="25" width="1" height="1" stroke="none"/>
<rect x="122" y="419" width="1" height="1" stroke="none"/>
<rect x="122" y="417" width="1" height="1" stroke="none"/>
<rect x="122" y="415" width="1" height="1" stroke="none"/>
<line x1="172.5" y1="30" x2="172.5" y2="411" stroke-dasharray="1 9"/>
<rect x="172" y="21" width="1" height="1" stroke="none"/>
<rect x="172" y="23" width="1" height="1" stroke="none"/>
<rect x="172" y="25" width="1" height="1" stroke="none"/>
<rect x="172" y="419" width="1" height="1" stroke="none"/>
<rect x="172" y="417" width="1" height="1" stroke="none"/>
<rect x="172" y="415" width="1" height="1" stroke="none"/>
<line x1="222.5" y1="30" x2="222.5" y2="411" stroke-dasharray="1 9"/>
<rect x="222" y="21" width="1" height="1" stroke="none"/>
<rect x="222" y="23" width="1" height="1" stroke="none"/>
<rect x="222" y="25" width="1" height="1" stroke="none"/>
<rect x="222" y="419" width="1" height="1" stroke="none"/>
<rect x="222" y="417" width="1" height="1" stroke="none"/>
<rect x="222" y="415" width="1" height="1" stroke="none"/>
<line x1="322.5" y1="30" x2="322.5" y2="411" stroke-dasharray="1 9"/>
<rect x="322" y="21" width="1" height="1" stroke="none"/>
<rect x="322" y="23" width="1" height="1" stroke="none"/>
<rect x="322" y="25" width="1" height="1" stroke="none"/>
<rect x="322" y="419" width="1" height="1" stroke="none"/>
<rect x="322" y="417" width="1" height="1" stroke="none"/>
<rect x="322" y="415" width="1" height="1" stroke="none"/>
<line x1="372.5" y1="30" x2="372.5" y2="411" stroke-dasharray="1 9"/>
<rect x="372" y="21" width="1" height="1" stroke="none"/>
<rect x="372" y="23" width="1" height="1" stroke="none"/>
<rect x="372" y="25" width="1" height="1" stroke="none"/>
<rect x="372" y="419" width="1" height="1" stroke="none"/>
<rect x="372" y="417" width="1" height="1" stroke="none"/>
<rect x="372" y="415" width="1" height="1" stroke="none"/>
<line x1="422.5" y1="30" x2="422.5" y2="411" stroke-dasharray="1 9"/>
<rect x="422" y="21" width="1" height="1" stroke="none"/>
<rect x="422" y="23" width="1" height="1" stroke="none"/>
<rect x="422" y="25" width="1" height="1" stroke="none"/>
<rect x="422" y="419" width="1" height="1" stroke="none"/>
<rect x="422" y="417" width="1" height="1" stroke="none"/>
<rect x="422" y="415" width="1" height="1" stroke="none"/>
<line x1="472.5" y1="30" x2="472.5" y2="411" stroke-dasharray="1 9"/>
<rect x="472" y="21" width="1" height="1" stroke="none"/>
<rect x="472" y="23" width="1" height="1" stroke="none"/>
<rect x="472" y="25" width="1" height="1" stroke="none"/>
<rect x="472" y="419" width="1" height="1" stroke="none"/>
<rect x="472" y="417" width="1" height="1" stroke="none"/>
<rect x="472" y="415" width="1" height="1" stroke="none"/>
<line x1="32" y1="70.5" x2="513" y2="70.5" stroke-dasharray="1 9"/>
<rect x="23" y="70" width="1" height="1" stroke="none"/>
<rect x="25" y="70" width="1" height="1" stroke="none"/>
<rect x="27" y="70" width="1" height="1" stroke="none"/>
<rect x="520" y="70" width="1" height="1" stroke="none"/>
<rect x="518" y="70" width="1" height="1" stroke="none"/>
<rect x="516" y="70" width="1" height="1" stroke="none"/>
<line x1="32" y1="120.5" x2="513" y2="120.5" stroke-dasharray="1 9"/>
<rect x="23" y="120" width="1" height="1" stroke="none"/>
<rect x="25" y="120" width="1" height="1" stroke="none"/>
<rect x="27" y="120" width="1" height="1" stroke="none"/>
<rect x="520" y="120" width="1" height="1" stroke="none"/>
<rect x="518" y="120" width="1" height="1" stroke="none"/>
<rect x="516" y="120" width="1" height="1" stroke="none"/>
<line x1="32" y1="170.5" x2="513" y2="170.5" stroke-dasharray="1 9"/>
<rect x="23" y="170" width="1" height="1" stroke="none"/>
<rect x="25" y="170" width="1" height="1" stroke="none"/>
<rect x="27" y="170" width="1" height="1" stroke="none"/>
<rect x="520" y="170" width="1" height="1" stroke="none"/>
<rect x="518" y="170" width="1" height="1" stroke="none"/>
<rect x="516" y="170" width="1" height="1" stroke="none"/>
<line x1="32" y1="270.5" x2="513" y2="270.5" stroke-dasharray="1 9"/>
<rect x="23" y="270" width="1" height="1" stroke="none"/>
<rect x="25" y="270" width="1" height="1" stroke="none"/>
<rect x="27" y="270" width="1" height="1" stroke="none"/>
<rect x="520" y="270" width="1" height="1" stroke="none"/>
<rect x="518" y="270" width="1" height="1" stroke="none"/>
<rect x="516" y="270" width="1" height="1" stroke="none"/>
<line x1="32" y1="320.5" x2="513" y2="320.5" stroke-dasharray="1 9"/>
<rect x="23" y="320" width="1" height="1" stroke="none"/>
<rect x="25" y="320" width="1" height="1" stroke="none"/>
<rect x="27" y="320" width="1" height="1" stroke="none"/>
<rect x="520" y="320" width="1" height="1" stroke="none"/>
<rect x="518" y="320" width="1" height="1" stroke="none"/>
<rect x="516" y="320" width="1" height="1" stroke="none"/>
<line x1="32" y1="370.5" x2="513" y2="370.5" stroke-dasharray="1 9"/>
<rect x="23" y="370" width="1" height="1" stroke="none"/>
<rect x="25" y="370" width="1" height="1" stroke="none"/>
<rect x="27" y="370" width="1" height="1" stroke="none"/>
<rect x="520" y="370" width="1" height="1" stroke="none"/>
<rect x="518" y="370" width="1" height="1" stroke="none"/>
<rect x="516" y="370" width="1" height="1" stroke="none"/>
<line x1="272.5" y1="20" x2="272.5" y2="421" stroke-dasharray="1 1"/>
<line x1="22" y1="220.5" x2="523" y2="220.5" stroke-dasharray="1 1"/>
<line x1="269.5" y1="30" x2="269.5" y2="211" stroke-dasharray="1 9"/>
<line x1="269.5" y1="230" x2="269.5" y2="411" stroke-dasharray="1 9"/>
<line x1="271.5" y1="30" x2="271.5" y2="211" stroke-dasharray="1 9"/>
<line x1="271.5" y1="230" x2="271.5" y2="411" stroke-dasharray="1 9"/>
<line x1="273.5" y1="30" x2="273.5" y2="211" stroke-dasharray="1 9"/>
<line x1="273.5" y1="230" x2="273.5" y2="411" stroke-dasharray="1 9"/>
<line x1="275.5" y1="30" x2="275.5" y2="211" stroke-dasharray="1 9"/>
<line x1="275.5" y1="230" x2="275.5" y2="411" stroke-dasharray="1 9"/>
<line x1="32" y1="217.5" x2="263" y2="217.5" stroke-dasharray="1 9"/>
<line x1="282" y1="217.5" x2="513" y2="217.5" stroke-dasharray="1 9"/>
<line x1="32" y1="219.5" x2="263" y2="219.5" stroke-dasharray="1 9"/>
<line x1="282" y1="219.5" x2="513" y2="219.5" stroke-dasharray="1 9"/>
<line x1="32" y1="221.5" x2="263" y2="221.5" stroke-dasharray="1 9"/>
<line x1="282" y1="221.5" x2="513" y2="221.5" stroke-dasharray="1 9"/>
<line x1="32" y1="223.5" x2="263" y2="223.5" stroke-dasharray="1 9"/>
<line x1="282" y1="223.5" x2="513" y2="223.5" stroke-dasharray="1 9"/>
</g>
<g shape-rendering="crispEdges">
<rect x="164" y="8" width="216" height="1" fill="#000096"/>
<path d="M167,1.5H164.5V15.5H167" fill="none" stroke="#000" stroke-width="1"/>
<path d="M377,1.5H379.5V15.5H377" fill="none" stroke="#000" stroke-width="1"/>
</g>
<path d="M204,1H211L207.5,5.5Z" fill="#FF7600"/>
<path d="M204,5H210L211,6V15L210,16H204L203,15V6Z" fill="#FF7600"/>
<path d="M204.1,6.1H209.9V7.4H208.2V15H205.9V7.4H204.1Z" fill="#fff"/>
<path d="M117,20H128L122.5,26.6Z" fill="#FF7600"/>
<path d="M117,27H127L128,28V38L122,42L116,38V28Z" fill="#FF7600"/>
<path d="M117,28H127V30H123.5V39.5H120.5V30H117Z" fill="#fff"/>
<path d="M0.5,140.2H12L20,148.5L12,156.6H0.5Z" fill="#000096"/>
<path d="M0.5,141V157M0,140.5H12" stroke="#b8b8a8" stroke-width="1" fill="none"/>
<path d="M8.2,143H10.3V154.2H8.2V146.2L6,147.6V145.4Z" fill="#fff"/>
<path d="M12.5,141.8L19,148.5L12.5,155.2" fill="none" stroke="#fff" stroke-width="0.9" stroke-dasharray="1.2 1.4"/>
<path d="M1.5,156.3H12" fill="none" stroke="#fff" stroke-width="0.9" stroke-dasharray="1 1.2"/>
<path d="M0.6,362.5H12.5L20.5,370.5L12.5,378.5" fill="none" stroke="#009C00" stroke-width="1.2"/>
<path d="M0.6,362V378.5" stroke="#009C00" stroke-width="1.3" fill="none"/>
<path d="M1,378.5H12.5" stroke="#009C00" stroke-width="1.2" stroke-dasharray="1.1 1.1" fill="none"/>
<path d="M9,365H11.1V370.5H12.1V372.6H11.1V376H9V372.6H4V370.7ZM9,367.8L6.4,370.5H9Z" fill="#009C00" fill-rule="evenodd"/>
<path d="M511,331.5L517,326V337Z" fill="#009C00"/>
<path d="M516,331.5H522" stroke="#009C00" stroke-width="1.5"/>
<g opacity="0.999">
<text transform="translate(0,14.6) scale(0.9966,1)" font-family="'Liberation Serif', serif" font-size="20" font-weight="bold" fill="#000" stroke="#000" stroke-width="0.3" letter-spacing="-0.3" xml:space="preserve">Tek</text>
<text transform="translate(35.2,13) scale(1.0013,1)" font-family="'Liberation Sans', sans-serif" font-size="15" fill="#000" stroke="#000" stroke-width="0.3" letter-spacing="1.3" xml:space="preserve">Stop</text>
<text transform="translate(530.6,33) scale(1.3573,1)" font-family="'Liberation Sans', sans-serif" font-size="15" fill="#000096" stroke="#000096" stroke-width="0.3" letter-spacing="0" xml:space="preserve">Δ</text>
<rect x="546.8" y="24" width="2.6" height="2.3" fill="#000096"/>
<rect x="546.8" y="30.7" width="2.6" height="2.3" fill="#000096"/>
<rect x="546.8" y="40" width="2.6" height="2.3" fill="#000096"/>
<rect x="546.8" y="46.7" width="2.6" height="2.3" fill="#000096"/>
<text transform="translate(572,33) scale(1.0556,1)" font-family="'Liberation Sans', sans-serif" font-size="15" fill="#000096" stroke="#000096" stroke-width="0.3" letter-spacing="0.6" xml:space="preserve">316mV</text>
<text transform="translate(531.2,46.6) scale(1.1136,1)" font-family="'Liberation Sans', sans-serif" font-size="11.5" fill="#000096" stroke="#000096" stroke-width="0.25" letter-spacing="0" xml:space="preserve">@</text>
<text transform="translate(565,49) scale(1.0829,1)" font-family="'Liberation Sans', sans-serif" font-size="15" fill="#000096" stroke="#000096" stroke-width="0.3" letter-spacing="0.6" xml:space="preserve">−316mV</text>
<text transform="translate(549.8,155) scale(1.0500,1)" font-family="'Liberation Sans', sans-serif" font-size="15" fill="#000096" stroke="#000096" stroke-width="0.3" letter-spacing="0.6" xml:space="preserve">Ch1 Max</text>
<text transform="translate(553.8,171) scale(1.0898,1)" font-family="'Liberation Sans', sans-serif" font-size="15" fill="#000096" stroke="#000096" stroke-width="0.3" letter-spacing="0.6" xml:space="preserve">56.0mV</text>
<text transform="translate(550.4,226) scale(1.1135,1)" font-family="'Liberation Sans', sans-serif" font-size="15" fill="#000096" stroke="#000096" stroke-width="0.3" letter-spacing="0.6" xml:space="preserve">Ch1 Min</text>
<text transform="translate(551.3,242) scale(1.1015,1)" font-family="'Liberation Sans', sans-serif" font-size="15" fill="#000096" stroke="#000096" stroke-width="0.3" letter-spacing="0.6" xml:space="preserve">−326mV</text>
<text transform="translate(547,297) scale(1.0939,1)" font-family="'Liberation Sans', sans-serif" font-size="15" fill="#009C00" stroke="#009C00" stroke-width="0.3" letter-spacing="0.6" xml:space="preserve">Ch4 High</text>
<text transform="translate(556.9,313) scale(1.0836,1)" font-family="'Liberation Sans', sans-serif" font-size="15" fill="#009C00" stroke="#009C00" stroke-width="0.3" letter-spacing="0.6" xml:space="preserve">530mA</text>
<text transform="translate(549.7,368) scale(1.0653,1)" font-family="'Liberation Sans', sans-serif" font-size="15" fill="#009C00" stroke="#009C00" stroke-width="0.3" letter-spacing="0.6" xml:space="preserve">Ch4 Low</text>
<text transform="translate(558.4,384) scale(1.0536,1)" font-family="'Liberation Sans', sans-serif" font-size="15" fill="#009C00" stroke="#009C00" stroke-width="0.3" letter-spacing="0.6" xml:space="preserve">160mA</text>
<g shape-rendering="crispEdges">
<rect x="19" y="425" width="31" height="16" fill="#000096"/>
<rect x="51.5" y="424.5" width="98" height="17" fill="#fff" stroke="#a0a0a0" stroke-width="1"/>
<rect x="297.5" y="424.5" width="60" height="17" fill="#fff" stroke="#a0a0a0" stroke-width="1"/>
<path d="M384.5,424V441.5H524.5V424" fill="none" stroke="#a0a0a0" stroke-width="1"/>
<rect x="183.5" y="443.5" width="98" height="17" fill="#fff" stroke="#a0a0a0" stroke-width="1"/>
<path d="M302.5,480V462.5H377.5V480" fill="none" stroke="#a0a0a0" stroke-width="1"/>
</g>
<text transform="translate(20.2,438) scale(0.9342,1)" font-family="'Liberation Sans', sans-serif" font-size="15" fill="#fff" stroke="#fff" stroke-width="0.45" letter-spacing="0.8" xml:space="preserve">Ch1</text>
<text transform="translate(69,438) scale(1.0456,1)" font-family="'Liberation Sans', sans-serif" font-size="15" fill="#000096" stroke="#000096" stroke-width="0.3" letter-spacing="0.6" xml:space="preserve">100mV</text>
<path d="M127,433.5C128.3,426.5 130.3,426.5 132,432.5S135.5,439.5 137,431" fill="none" stroke="#000096" stroke-width="1.1"/>
<text transform="translate(140.3,433.2) scale(0.7055,1)" font-family="'Liberation Sans', sans-serif" font-size="8.5" fill="#000096" stroke="#000096" stroke-width="0.2" letter-spacing="0" xml:space="preserve">B</text>
<text transform="translate(144.2,437.8) scale(0.6232,1)" font-family="'Liberation Sans', sans-serif" font-size="8.5" fill="#000096" stroke="#000096" stroke-width="0.2" letter-spacing="0" xml:space="preserve">W</text>
<text transform="translate(283.2,438) scale(1.0405,1)" font-family="'Liberation Sans', sans-serif" font-size="15" fill="#000" stroke="#000" stroke-width="0.3" letter-spacing="0" xml:space="preserve">M</text>
<text transform="translate(301.3,438) scale(1.1110,1)" font-family="'Liberation Sans', sans-serif" font-size="15" fill="#000" stroke="#000" stroke-width="0.3" letter-spacing="0.6" xml:space="preserve">4.00µs</text>
<text transform="translate(373,438) scale(0.9995,1)" font-family="'Liberation Sans', sans-serif" font-size="15" fill="#000" stroke="#000" stroke-width="0.3" letter-spacing="0.6" xml:space="preserve">A</text>
<text transform="translate(397.5,438) scale(0.9925,1)" font-family="'Liberation Sans', sans-serif" font-size="15" fill="#009C00" stroke="#009C00" stroke-width="0.3" letter-spacing="0.6" xml:space="preserve">Ch4</text>
<path d="M439,437H443.7L446.5,428H451" fill="none" stroke="#000" stroke-width="2"/>
<text transform="translate(470,438) scale(1.0756,1)" font-family="'Liberation Sans', sans-serif" font-size="15" fill="#000" stroke="#000" stroke-width="0.3" letter-spacing="0.6" xml:space="preserve">390mA</text>
<text transform="translate(152,457) scale(1.0169,1)" font-family="'Liberation Sans', sans-serif" font-size="15" fill="#009C00" stroke="#009C00" stroke-width="0.3" letter-spacing="0.6" xml:space="preserve">Ch4</text>
<text transform="translate(200,457) scale(1.1017,1)" font-family="'Liberation Sans', sans-serif" font-size="15" fill="#009C00" stroke="#009C00" stroke-width="0.3" letter-spacing="0.6" xml:space="preserve">500mA</text>
<text transform="translate(258.7,457) scale(1.0256,1)" font-family="'Liberation Sans', sans-serif" font-size="15" fill="#009C00" stroke="#009C00" stroke-width="0.3" letter-spacing="0" xml:space="preserve">Ω</text>
<rect x="286" y="464" width="12" height="13" rx="1.3" fill="#FF7600"/>
<path d="M287.2,465H296.8V467H293.2V476H291.1V467H287.2Z" fill="#fff"/>
<text transform="translate(305.3,476) scale(1.0232,1)" font-family="'Liberation Sans', sans-serif" font-size="15" fill="#000" stroke="#000" stroke-width="0.3" letter-spacing="0.6" xml:space="preserve">20.00 %</text>
<text transform="translate(538.9,460) scale(0.8737,1)" font-family="'Liberation Sans', sans-serif" font-size="15" fill="#000" stroke="#000" stroke-width="0.3" letter-spacing="0.6" xml:space="preserve">17</text>
<text transform="translate(561.8,460) scale(0.9861,1)" font-family="'Liberation Sans', sans-serif" font-size="15" fill="#000" stroke="#000" stroke-width="0.3" letter-spacing="0.6" xml:space="preserve">Sep</text>
<text transform="translate(600.8,460) scale(1.0749,1)" font-family="'Liberation Sans', sans-serif" font-size="15" fill="#000" stroke="#000" stroke-width="0.3" letter-spacing="0.6" xml:space="preserve">2016</text>
<text transform="translate(538.9,476) scale(1.0930,1)" font-family="'Liberation Sans', sans-serif" font-size="15" fill="#000" stroke="#000" stroke-width="0.3" letter-spacing="0.6" xml:space="preserve">15:04:12</text>
</g>
</svg></body></html>
